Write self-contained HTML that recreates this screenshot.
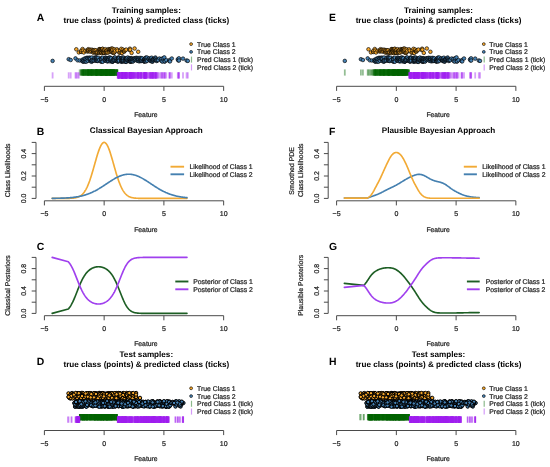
<!DOCTYPE html><html><head><meta charset="utf-8"><style>html,body{margin:0;padding:0;background:#fff;width:550px;height:467px;overflow:hidden}</style></head><body><svg width="550" height="467" viewBox="0 0 550 467" style="display:block;will-change:transform">
<rect width="550" height="467" fill="#fff"/>
<g font-family='"Liberation Sans", sans-serif' text-rendering="geometricPrecision">
<text x="36.80" y="20.70" font-size="10.4" text-anchor="start" font-weight="bold" fill="#000">A</text>
<text x="146.30" y="13.00" font-size="8.15" text-anchor="middle" font-weight="bold" fill="#000">Training samples:</text>
<text x="146.30" y="22.50" font-size="8.15" text-anchor="middle" font-weight="bold" fill="#000">true class (points) &amp; predicted class (ticks)</text>
<g stroke="#006400" stroke-opacity="0.42" stroke-width="1.8">
<path d="M81.0 69.4v6.2"/>
<path d="M81.1 69.4v6.2"/>
<path d="M81.4 69.4v6.2"/>
<path d="M82.6 69.4v6.2"/>
<path d="M83.0 69.4v6.2"/>
<path d="M83.8 69.4v6.2"/>
<path d="M85.4 69.4v6.2"/>
<path d="M87.1 69.4v6.2"/>
<path d="M87.5 69.4v6.2"/>
<path d="M88.3 69.4v6.2"/>
<path d="M88.3 69.4v6.2"/>
<path d="M88.5 69.4v6.2"/>
<path d="M88.8 69.4v6.2"/>
<path d="M90.0 69.4v6.2"/>
<path d="M90.4 69.4v6.2"/>
<path d="M90.8 69.4v6.2"/>
<path d="M91.5 69.4v6.2"/>
<path d="M92.0 69.4v6.2"/>
<path d="M93.1 69.4v6.2"/>
<path d="M93.1 69.4v6.2"/>
<path d="M93.4 69.4v6.2"/>
<path d="M93.5 69.4v6.2"/>
<path d="M94.1 69.4v6.2"/>
<path d="M94.7 69.4v6.2"/>
<path d="M94.8 69.4v6.2"/>
<path d="M95.7 69.4v6.2"/>
<path d="M95.9 69.4v6.2"/>
<path d="M96.6 69.4v6.2"/>
<path d="M96.9 69.4v6.2"/>
<path d="M97.2 69.4v6.2"/>
<path d="M97.5 69.4v6.2"/>
<path d="M98.8 69.4v6.2"/>
<path d="M98.9 69.4v6.2"/>
<path d="M99.2 69.4v6.2"/>
<path d="M99.3 69.4v6.2"/>
<path d="M99.7 69.4v6.2"/>
<path d="M100.1 69.4v6.2"/>
<path d="M100.3 69.4v6.2"/>
<path d="M100.4 69.4v6.2"/>
<path d="M100.6 69.4v6.2"/>
<path d="M101.1 69.4v6.2"/>
<path d="M101.3 69.4v6.2"/>
<path d="M101.4 69.4v6.2"/>
<path d="M101.6 69.4v6.2"/>
<path d="M101.6 69.4v6.2"/>
<path d="M102.1 69.4v6.2"/>
<path d="M102.5 69.4v6.2"/>
<path d="M102.5 69.4v6.2"/>
<path d="M102.7 69.4v6.2"/>
<path d="M102.9 69.4v6.2"/>
<path d="M103.1 69.4v6.2"/>
<path d="M103.3 69.4v6.2"/>
<path d="M103.9 69.4v6.2"/>
<path d="M104.0 69.4v6.2"/>
<path d="M104.1 69.4v6.2"/>
<path d="M104.1 69.4v6.2"/>
<path d="M104.1 69.4v6.2"/>
<path d="M105.5 69.4v6.2"/>
<path d="M105.5 69.4v6.2"/>
<path d="M105.9 69.4v6.2"/>
<path d="M106.0 69.4v6.2"/>
<path d="M106.1 69.4v6.2"/>
<path d="M106.3 69.4v6.2"/>
<path d="M106.4 69.4v6.2"/>
<path d="M107.0 69.4v6.2"/>
<path d="M107.1 69.4v6.2"/>
<path d="M107.7 69.4v6.2"/>
<path d="M108.3 69.4v6.2"/>
<path d="M109.0 69.4v6.2"/>
<path d="M109.6 69.4v6.2"/>
<path d="M109.6 69.4v6.2"/>
<path d="M109.7 69.4v6.2"/>
<path d="M109.9 69.4v6.2"/>
<path d="M110.1 69.4v6.2"/>
<path d="M110.5 69.4v6.2"/>
<path d="M110.9 69.4v6.2"/>
<path d="M111.2 69.4v6.2"/>
<path d="M111.7 69.4v6.2"/>
<path d="M111.7 69.4v6.2"/>
<path d="M111.8 69.4v6.2"/>
<path d="M112.1 69.4v6.2"/>
<path d="M112.5 69.4v6.2"/>
<path d="M112.6 69.4v6.2"/>
<path d="M113.0 69.4v6.2"/>
<path d="M113.7 69.4v6.2"/>
<path d="M113.9 69.4v6.2"/>
<path d="M114.4 69.4v6.2"/>
<path d="M114.7 69.4v6.2"/>
<path d="M115.2 69.4v6.2"/>
<path d="M116.9 69.4v6.2"/>
<path d="M79.7 69.4v6.2"/>
<path d="M81.9 69.4v6.2"/>
<path d="M82.6 69.4v6.2"/>
<path d="M83.0 69.4v6.2"/>
<path d="M83.1 69.4v6.2"/>
<path d="M83.5 69.4v6.2"/>
<path d="M83.8 69.4v6.2"/>
<path d="M84.5 69.4v6.2"/>
<path d="M84.6 69.4v6.2"/>
<path d="M85.1 69.4v6.2"/>
<path d="M85.4 69.4v6.2"/>
<path d="M85.4 69.4v6.2"/>
<path d="M86.3 69.4v6.2"/>
<path d="M86.5 69.4v6.2"/>
<path d="M86.8 69.4v6.2"/>
<path d="M87.5 69.4v6.2"/>
<path d="M87.8 69.4v6.2"/>
<path d="M87.8 69.4v6.2"/>
<path d="M89.0 69.4v6.2"/>
<path d="M89.0 69.4v6.2"/>
<path d="M89.4 69.4v6.2"/>
<path d="M90.2 69.4v6.2"/>
<path d="M90.3 69.4v6.2"/>
<path d="M90.3 69.4v6.2"/>
<path d="M91.3 69.4v6.2"/>
<path d="M91.6 69.4v6.2"/>
<path d="M91.7 69.4v6.2"/>
<path d="M91.7 69.4v6.2"/>
<path d="M91.9 69.4v6.2"/>
<path d="M91.9 69.4v6.2"/>
<path d="M92.1 69.4v6.2"/>
<path d="M93.3 69.4v6.2"/>
<path d="M94.1 69.4v6.2"/>
<path d="M94.4 69.4v6.2"/>
<path d="M95.5 69.4v6.2"/>
<path d="M95.8 69.4v6.2"/>
<path d="M95.9 69.4v6.2"/>
<path d="M96.1 69.4v6.2"/>
<path d="M96.1 69.4v6.2"/>
<path d="M96.4 69.4v6.2"/>
<path d="M96.4 69.4v6.2"/>
<path d="M96.9 69.4v6.2"/>
<path d="M97.0 69.4v6.2"/>
<path d="M97.3 69.4v6.2"/>
<path d="M97.3 69.4v6.2"/>
<path d="M98.1 69.4v6.2"/>
<path d="M98.2 69.4v6.2"/>
<path d="M98.3 69.4v6.2"/>
<path d="M99.2 69.4v6.2"/>
<path d="M100.8 69.4v6.2"/>
<path d="M100.9 69.4v6.2"/>
<path d="M101.1 69.4v6.2"/>
<path d="M101.1 69.4v6.2"/>
<path d="M101.2 69.4v6.2"/>
<path d="M101.2 69.4v6.2"/>
<path d="M102.3 69.4v6.2"/>
<path d="M102.5 69.4v6.2"/>
<path d="M102.7 69.4v6.2"/>
<path d="M102.7 69.4v6.2"/>
<path d="M104.8 69.4v6.2"/>
<path d="M104.9 69.4v6.2"/>
<path d="M104.9 69.4v6.2"/>
<path d="M105.4 69.4v6.2"/>
<path d="M105.4 69.4v6.2"/>
<path d="M105.8 69.4v6.2"/>
<path d="M105.8 69.4v6.2"/>
<path d="M106.0 69.4v6.2"/>
<path d="M106.3 69.4v6.2"/>
<path d="M106.6 69.4v6.2"/>
<path d="M107.1 69.4v6.2"/>
<path d="M107.3 69.4v6.2"/>
<path d="M107.4 69.4v6.2"/>
<path d="M107.5 69.4v6.2"/>
<path d="M108.0 69.4v6.2"/>
<path d="M108.0 69.4v6.2"/>
<path d="M108.1 69.4v6.2"/>
<path d="M108.5 69.4v6.2"/>
<path d="M108.8 69.4v6.2"/>
<path d="M108.8 69.4v6.2"/>
<path d="M109.3 69.4v6.2"/>
<path d="M109.9 69.4v6.2"/>
<path d="M110.1 69.4v6.2"/>
<path d="M110.5 69.4v6.2"/>
<path d="M110.5 69.4v6.2"/>
<path d="M110.8 69.4v6.2"/>
<path d="M110.9 69.4v6.2"/>
<path d="M111.1 69.4v6.2"/>
<path d="M111.2 69.4v6.2"/>
<path d="M112.2 69.4v6.2"/>
<path d="M112.6 69.4v6.2"/>
<path d="M112.7 69.4v6.2"/>
<path d="M112.9 69.4v6.2"/>
<path d="M113.1 69.4v6.2"/>
<path d="M113.7 69.4v6.2"/>
<path d="M113.7 69.4v6.2"/>
<path d="M114.2 69.4v6.2"/>
<path d="M114.2 69.4v6.2"/>
<path d="M114.8 69.4v6.2"/>
<path d="M115.1 69.4v6.2"/>
<path d="M115.5 69.4v6.2"/>
<path d="M116.0 69.4v6.2"/>
<path d="M116.2 69.4v6.2"/>
<path d="M116.7 69.4v6.2"/>
<path d="M117.2 69.4v6.2"/>
<path d="M117.2 69.4v6.2"/>
<path d="M117.2 69.4v6.2"/>
<path d="M117.4 69.4v6.2"/>
</g>
<g stroke="#A020F0" stroke-opacity="0.42" stroke-width="1.8">
<path d="M76.3 72.3v6.2"/>
<path d="M78.8 72.3v6.2"/>
<path d="M117.6 72.3v6.2"/>
<path d="M119.3 72.3v6.2"/>
<path d="M120.2 72.3v6.2"/>
<path d="M120.4 72.3v6.2"/>
<path d="M121.3 72.3v6.2"/>
<path d="M121.6 72.3v6.2"/>
<path d="M122.0 72.3v6.2"/>
<path d="M122.9 72.3v6.2"/>
<path d="M122.9 72.3v6.2"/>
<path d="M124.1 72.3v6.2"/>
<path d="M124.2 72.3v6.2"/>
<path d="M124.5 72.3v6.2"/>
<path d="M125.3 72.3v6.2"/>
<path d="M126.3 72.3v6.2"/>
<path d="M129.4 72.3v6.2"/>
<path d="M129.9 72.3v6.2"/>
<path d="M130.2 72.3v6.2"/>
<path d="M131.6 72.3v6.2"/>
<path d="M134.6 72.3v6.2"/>
<path d="M138.2 72.3v6.2"/>
<path d="M52.6 72.3v6.2"/>
<path d="M68.7 72.3v6.2"/>
<path d="M70.7 72.3v6.2"/>
<path d="M75.5 72.3v6.2"/>
<path d="M77.6 72.3v6.2"/>
<path d="M117.9 72.3v6.2"/>
<path d="M118.1 72.3v6.2"/>
<path d="M118.2 72.3v6.2"/>
<path d="M118.4 72.3v6.2"/>
<path d="M118.5 72.3v6.2"/>
<path d="M118.6 72.3v6.2"/>
<path d="M118.9 72.3v6.2"/>
<path d="M118.9 72.3v6.2"/>
<path d="M118.9 72.3v6.2"/>
<path d="M119.0 72.3v6.2"/>
<path d="M119.0 72.3v6.2"/>
<path d="M120.8 72.3v6.2"/>
<path d="M121.0 72.3v6.2"/>
<path d="M121.2 72.3v6.2"/>
<path d="M121.5 72.3v6.2"/>
<path d="M121.6 72.3v6.2"/>
<path d="M121.8 72.3v6.2"/>
<path d="M122.0 72.3v6.2"/>
<path d="M122.1 72.3v6.2"/>
<path d="M122.1 72.3v6.2"/>
<path d="M122.1 72.3v6.2"/>
<path d="M122.2 72.3v6.2"/>
<path d="M122.4 72.3v6.2"/>
<path d="M122.7 72.3v6.2"/>
<path d="M122.9 72.3v6.2"/>
<path d="M123.1 72.3v6.2"/>
<path d="M123.4 72.3v6.2"/>
<path d="M123.6 72.3v6.2"/>
<path d="M123.7 72.3v6.2"/>
<path d="M123.8 72.3v6.2"/>
<path d="M123.8 72.3v6.2"/>
<path d="M125.0 72.3v6.2"/>
<path d="M125.3 72.3v6.2"/>
<path d="M125.4 72.3v6.2"/>
<path d="M125.4 72.3v6.2"/>
<path d="M125.6 72.3v6.2"/>
<path d="M125.8 72.3v6.2"/>
<path d="M126.1 72.3v6.2"/>
<path d="M126.3 72.3v6.2"/>
<path d="M126.3 72.3v6.2"/>
<path d="M126.4 72.3v6.2"/>
<path d="M126.6 72.3v6.2"/>
<path d="M126.7 72.3v6.2"/>
<path d="M126.8 72.3v6.2"/>
<path d="M126.9 72.3v6.2"/>
<path d="M127.0 72.3v6.2"/>
<path d="M127.7 72.3v6.2"/>
<path d="M128.0 72.3v6.2"/>
<path d="M128.7 72.3v6.2"/>
<path d="M129.1 72.3v6.2"/>
<path d="M129.2 72.3v6.2"/>
<path d="M129.2 72.3v6.2"/>
<path d="M129.9 72.3v6.2"/>
<path d="M129.9 72.3v6.2"/>
<path d="M130.0 72.3v6.2"/>
<path d="M130.5 72.3v6.2"/>
<path d="M130.6 72.3v6.2"/>
<path d="M130.6 72.3v6.2"/>
<path d="M130.7 72.3v6.2"/>
<path d="M130.7 72.3v6.2"/>
<path d="M130.7 72.3v6.2"/>
<path d="M130.9 72.3v6.2"/>
<path d="M131.0 72.3v6.2"/>
<path d="M131.2 72.3v6.2"/>
<path d="M131.3 72.3v6.2"/>
<path d="M131.4 72.3v6.2"/>
<path d="M131.9 72.3v6.2"/>
<path d="M132.4 72.3v6.2"/>
<path d="M132.5 72.3v6.2"/>
<path d="M132.9 72.3v6.2"/>
<path d="M133.0 72.3v6.2"/>
<path d="M133.0 72.3v6.2"/>
<path d="M133.2 72.3v6.2"/>
<path d="M133.3 72.3v6.2"/>
<path d="M134.2 72.3v6.2"/>
<path d="M134.4 72.3v6.2"/>
<path d="M134.5 72.3v6.2"/>
<path d="M135.0 72.3v6.2"/>
<path d="M135.6 72.3v6.2"/>
<path d="M135.8 72.3v6.2"/>
<path d="M136.3 72.3v6.2"/>
<path d="M137.0 72.3v6.2"/>
<path d="M137.1 72.3v6.2"/>
<path d="M137.6 72.3v6.2"/>
<path d="M137.9 72.3v6.2"/>
<path d="M138.0 72.3v6.2"/>
<path d="M138.3 72.3v6.2"/>
<path d="M138.4 72.3v6.2"/>
<path d="M138.6 72.3v6.2"/>
<path d="M138.9 72.3v6.2"/>
<path d="M139.6 72.3v6.2"/>
<path d="M140.0 72.3v6.2"/>
<path d="M140.4 72.3v6.2"/>
<path d="M140.4 72.3v6.2"/>
<path d="M140.7 72.3v6.2"/>
<path d="M141.2 72.3v6.2"/>
<path d="M141.2 72.3v6.2"/>
<path d="M141.3 72.3v6.2"/>
<path d="M141.5 72.3v6.2"/>
<path d="M142.0 72.3v6.2"/>
<path d="M142.2 72.3v6.2"/>
<path d="M143.5 72.3v6.2"/>
<path d="M143.8 72.3v6.2"/>
<path d="M143.9 72.3v6.2"/>
<path d="M144.0 72.3v6.2"/>
<path d="M144.2 72.3v6.2"/>
<path d="M144.2 72.3v6.2"/>
<path d="M144.3 72.3v6.2"/>
<path d="M144.5 72.3v6.2"/>
<path d="M144.9 72.3v6.2"/>
<path d="M145.0 72.3v6.2"/>
<path d="M145.1 72.3v6.2"/>
<path d="M145.3 72.3v6.2"/>
<path d="M145.3 72.3v6.2"/>
<path d="M145.6 72.3v6.2"/>
<path d="M145.8 72.3v6.2"/>
<path d="M145.8 72.3v6.2"/>
<path d="M145.9 72.3v6.2"/>
<path d="M146.1 72.3v6.2"/>
<path d="M146.5 72.3v6.2"/>
<path d="M146.6 72.3v6.2"/>
<path d="M147.0 72.3v6.2"/>
<path d="M147.2 72.3v6.2"/>
<path d="M148.3 72.3v6.2"/>
<path d="M149.0 72.3v6.2"/>
<path d="M149.3 72.3v6.2"/>
<path d="M150.1 72.3v6.2"/>
<path d="M150.2 72.3v6.2"/>
<path d="M150.5 72.3v6.2"/>
<path d="M150.6 72.3v6.2"/>
<path d="M151.1 72.3v6.2"/>
<path d="M151.3 72.3v6.2"/>
<path d="M151.6 72.3v6.2"/>
<path d="M151.6 72.3v6.2"/>
<path d="M152.4 72.3v6.2"/>
<path d="M152.4 72.3v6.2"/>
<path d="M152.6 72.3v6.2"/>
<path d="M152.9 72.3v6.2"/>
<path d="M153.1 72.3v6.2"/>
<path d="M153.1 72.3v6.2"/>
<path d="M153.4 72.3v6.2"/>
<path d="M153.7 72.3v6.2"/>
<path d="M154.5 72.3v6.2"/>
<path d="M154.9 72.3v6.2"/>
<path d="M155.0 72.3v6.2"/>
<path d="M155.4 72.3v6.2"/>
<path d="M155.7 72.3v6.2"/>
<path d="M155.9 72.3v6.2"/>
<path d="M156.0 72.3v6.2"/>
<path d="M156.6 72.3v6.2"/>
<path d="M156.7 72.3v6.2"/>
<path d="M157.5 72.3v6.2"/>
<path d="M158.2 72.3v6.2"/>
<path d="M159.5 72.3v6.2"/>
<path d="M161.1 72.3v6.2"/>
<path d="M161.6 72.3v6.2"/>
<path d="M162.5 72.3v6.2"/>
<path d="M162.9 72.3v6.2"/>
<path d="M164.3 72.3v6.2"/>
<path d="M164.7 72.3v6.2"/>
<path d="M164.8 72.3v6.2"/>
<path d="M166.3 72.3v6.2"/>
<path d="M169.2 72.3v6.2"/>
<path d="M169.8 72.3v6.2"/>
<path d="M170.0 72.3v6.2"/>
<path d="M171.8 72.3v6.2"/>
<path d="M177.8 72.3v6.2"/>
<path d="M178.3 72.3v6.2"/>
<path d="M178.9 72.3v6.2"/>
<path d="M179.0 72.3v6.2"/>
<path d="M183.0 72.3v6.2"/>
<path d="M186.6 72.3v6.2"/>
<path d="M187.8 72.3v6.2"/>
</g>
<g fill="#F5A62A" stroke="#000" stroke-width="0.65" id="p1">
<circle cx="76.3" cy="49.3" r="1.8"/>
<circle cx="78.8" cy="52.4" r="1.8"/>
<circle cx="81.0" cy="51.8" r="1.8"/>
<circle cx="81.1" cy="51.9" r="1.8"/>
<circle cx="81.4" cy="50.5" r="1.8"/>
<circle cx="82.6" cy="49.0" r="1.8"/>
<circle cx="83.0" cy="50.6" r="1.8"/>
<circle cx="83.8" cy="52.5" r="1.8"/>
<circle cx="85.4" cy="50.8" r="1.8"/>
<circle cx="87.1" cy="51.4" r="1.8"/>
<circle cx="87.5" cy="50.2" r="1.8"/>
<circle cx="88.3" cy="49.2" r="1.8"/>
<circle cx="88.3" cy="51.4" r="1.8"/>
<circle cx="88.5" cy="50.7" r="1.8"/>
<circle cx="88.8" cy="50.1" r="1.8"/>
<circle cx="90.0" cy="49.7" r="1.8"/>
<circle cx="90.4" cy="51.7" r="1.8"/>
<circle cx="90.8" cy="50.0" r="1.8"/>
<circle cx="91.5" cy="51.1" r="1.8"/>
<circle cx="92.0" cy="49.7" r="1.8"/>
<circle cx="93.1" cy="52.0" r="1.8"/>
<circle cx="93.1" cy="50.2" r="1.8"/>
<circle cx="93.4" cy="50.7" r="1.8"/>
<circle cx="93.5" cy="52.8" r="1.8"/>
<circle cx="94.1" cy="51.8" r="1.8"/>
<circle cx="94.7" cy="51.9" r="1.8"/>
<circle cx="94.8" cy="50.1" r="1.8"/>
<circle cx="95.7" cy="52.4" r="1.8"/>
<circle cx="95.9" cy="50.3" r="1.8"/>
<circle cx="96.6" cy="53.0" r="1.8"/>
<circle cx="96.9" cy="52.6" r="1.8"/>
<circle cx="97.2" cy="51.5" r="1.8"/>
<circle cx="97.5" cy="52.3" r="1.8"/>
<circle cx="98.8" cy="51.0" r="1.8"/>
<circle cx="98.9" cy="51.9" r="1.8"/>
<circle cx="99.2" cy="49.1" r="1.8"/>
<circle cx="99.3" cy="53.0" r="1.8"/>
<circle cx="99.7" cy="52.2" r="1.8"/>
<circle cx="100.1" cy="49.2" r="1.8"/>
<circle cx="100.3" cy="49.6" r="1.8"/>
<circle cx="100.4" cy="51.1" r="1.8"/>
<circle cx="100.6" cy="52.0" r="1.8"/>
<circle cx="101.1" cy="49.2" r="1.8"/>
<circle cx="101.3" cy="52.9" r="1.8"/>
<circle cx="101.4" cy="50.1" r="1.8"/>
<circle cx="101.6" cy="53.1" r="1.8"/>
<circle cx="101.6" cy="52.0" r="1.8"/>
<circle cx="102.1" cy="50.7" r="1.8"/>
<circle cx="102.5" cy="50.2" r="1.8"/>
<circle cx="102.5" cy="48.9" r="1.8"/>
<circle cx="102.7" cy="48.9" r="1.8"/>
<circle cx="102.9" cy="51.4" r="1.8"/>
<circle cx="103.1" cy="52.1" r="1.8"/>
<circle cx="103.3" cy="52.7" r="1.8"/>
<circle cx="103.9" cy="50.2" r="1.8"/>
<circle cx="104.0" cy="52.8" r="1.8"/>
<circle cx="104.1" cy="49.9" r="1.8"/>
<circle cx="104.1" cy="52.8" r="1.8"/>
<circle cx="104.1" cy="52.7" r="1.8"/>
<circle cx="105.5" cy="49.2" r="1.8"/>
<circle cx="105.5" cy="52.5" r="1.8"/>
<circle cx="105.9" cy="51.7" r="1.8"/>
<circle cx="106.0" cy="51.7" r="1.8"/>
<circle cx="106.1" cy="52.4" r="1.8"/>
<circle cx="106.3" cy="51.0" r="1.8"/>
<circle cx="106.4" cy="50.8" r="1.8"/>
<circle cx="107.0" cy="50.2" r="1.8"/>
<circle cx="107.1" cy="52.5" r="1.8"/>
<circle cx="107.7" cy="52.6" r="1.8"/>
<circle cx="108.3" cy="49.2" r="1.8"/>
<circle cx="109.0" cy="52.1" r="1.8"/>
<circle cx="109.6" cy="49.8" r="1.8"/>
<circle cx="109.6" cy="49.3" r="1.8"/>
<circle cx="109.7" cy="49.4" r="1.8"/>
<circle cx="109.9" cy="51.1" r="1.8"/>
<circle cx="110.1" cy="49.8" r="1.8"/>
<circle cx="110.5" cy="49.6" r="1.8"/>
<circle cx="110.9" cy="49.0" r="1.8"/>
<circle cx="111.2" cy="50.0" r="1.8"/>
<circle cx="111.7" cy="52.1" r="1.8"/>
<circle cx="111.7" cy="48.6" r="1.8"/>
<circle cx="111.8" cy="50.7" r="1.8"/>
<circle cx="112.1" cy="51.3" r="1.8"/>
<circle cx="112.5" cy="48.7" r="1.8"/>
<circle cx="112.6" cy="49.9" r="1.8"/>
<circle cx="113.0" cy="52.7" r="1.8"/>
<circle cx="113.7" cy="53.1" r="1.8"/>
<circle cx="113.9" cy="52.4" r="1.8"/>
<circle cx="114.4" cy="49.3" r="1.8"/>
<circle cx="114.7" cy="52.0" r="1.8"/>
<circle cx="115.2" cy="50.6" r="1.8"/>
<circle cx="116.9" cy="49.3" r="1.8"/>
<circle cx="117.6" cy="50.7" r="1.8"/>
<circle cx="119.3" cy="52.7" r="1.8"/>
<circle cx="120.2" cy="52.5" r="1.8"/>
<circle cx="120.4" cy="50.3" r="1.8"/>
<circle cx="121.3" cy="48.8" r="1.8"/>
<circle cx="121.6" cy="52.6" r="1.8"/>
<circle cx="122.0" cy="53.0" r="1.8"/>
<circle cx="122.9" cy="50.9" r="1.8"/>
<circle cx="122.9" cy="49.5" r="1.8"/>
<circle cx="124.1" cy="51.0" r="1.8"/>
<circle cx="124.2" cy="51.7" r="1.8"/>
<circle cx="124.5" cy="50.7" r="1.8"/>
<circle cx="125.3" cy="50.1" r="1.8"/>
<circle cx="126.3" cy="49.6" r="1.8"/>
<circle cx="129.4" cy="49.9" r="1.8"/>
<circle cx="129.9" cy="48.7" r="1.8"/>
<circle cx="130.2" cy="49.7" r="1.8"/>
<circle cx="131.6" cy="52.9" r="1.8"/>
<circle cx="134.6" cy="48.5" r="1.8"/>
<circle cx="138.2" cy="51.8" r="1.8"/>
</g>
<g fill="#4682B4" stroke="#000" stroke-width="0.65" id="p2">
<circle cx="52.6" cy="60.9" r="1.8"/>
<circle cx="68.7" cy="59.2" r="1.8"/>
<circle cx="70.7" cy="60.0" r="1.8"/>
<circle cx="75.5" cy="58.4" r="1.8"/>
<circle cx="77.6" cy="60.3" r="1.8"/>
<circle cx="79.7" cy="60.5" r="1.8"/>
<circle cx="81.9" cy="60.6" r="1.8"/>
<circle cx="82.6" cy="59.6" r="1.8"/>
<circle cx="83.0" cy="61.7" r="1.8"/>
<circle cx="83.1" cy="61.2" r="1.8"/>
<circle cx="83.5" cy="59.9" r="1.8"/>
<circle cx="83.8" cy="60.4" r="1.8"/>
<circle cx="84.5" cy="58.6" r="1.8"/>
<circle cx="84.6" cy="61.6" r="1.8"/>
<circle cx="85.1" cy="60.2" r="1.8"/>
<circle cx="85.4" cy="61.3" r="1.8"/>
<circle cx="85.4" cy="58.7" r="1.8"/>
<circle cx="86.3" cy="61.7" r="1.8"/>
<circle cx="86.5" cy="57.9" r="1.8"/>
<circle cx="86.8" cy="59.7" r="1.8"/>
<circle cx="87.5" cy="57.9" r="1.8"/>
<circle cx="87.8" cy="58.2" r="1.8"/>
<circle cx="87.8" cy="60.8" r="1.8"/>
<circle cx="89.0" cy="57.7" r="1.8"/>
<circle cx="89.0" cy="59.1" r="1.8"/>
<circle cx="89.4" cy="58.2" r="1.8"/>
<circle cx="90.2" cy="61.1" r="1.8"/>
<circle cx="90.3" cy="57.8" r="1.8"/>
<circle cx="90.3" cy="58.9" r="1.8"/>
<circle cx="91.3" cy="61.2" r="1.8"/>
<circle cx="91.6" cy="60.4" r="1.8"/>
<circle cx="91.7" cy="60.5" r="1.8"/>
<circle cx="91.7" cy="61.8" r="1.8"/>
<circle cx="91.9" cy="57.5" r="1.8"/>
<circle cx="91.9" cy="60.3" r="1.8"/>
<circle cx="92.1" cy="60.7" r="1.8"/>
<circle cx="93.3" cy="60.7" r="1.8"/>
<circle cx="94.1" cy="60.5" r="1.8"/>
<circle cx="94.4" cy="57.7" r="1.8"/>
<circle cx="95.5" cy="57.8" r="1.8"/>
<circle cx="95.8" cy="60.8" r="1.8"/>
<circle cx="95.9" cy="60.1" r="1.8"/>
<circle cx="96.1" cy="58.6" r="1.8"/>
<circle cx="96.1" cy="57.4" r="1.8"/>
<circle cx="96.4" cy="59.7" r="1.8"/>
<circle cx="96.4" cy="57.8" r="1.8"/>
<circle cx="96.9" cy="60.7" r="1.8"/>
<circle cx="97.0" cy="58.9" r="1.8"/>
<circle cx="97.3" cy="61.0" r="1.8"/>
<circle cx="97.3" cy="57.8" r="1.8"/>
<circle cx="98.1" cy="59.6" r="1.8"/>
<circle cx="98.2" cy="57.8" r="1.8"/>
<circle cx="98.3" cy="60.8" r="1.8"/>
<circle cx="99.2" cy="59.9" r="1.8"/>
<circle cx="100.8" cy="58.4" r="1.8"/>
<circle cx="100.9" cy="61.6" r="1.8"/>
<circle cx="101.1" cy="60.4" r="1.8"/>
<circle cx="101.1" cy="58.9" r="1.8"/>
<circle cx="101.2" cy="61.2" r="1.8"/>
<circle cx="101.2" cy="59.1" r="1.8"/>
<circle cx="102.3" cy="61.5" r="1.8"/>
<circle cx="102.5" cy="58.7" r="1.8"/>
<circle cx="102.7" cy="61.7" r="1.8"/>
<circle cx="102.7" cy="57.7" r="1.8"/>
<circle cx="104.8" cy="60.6" r="1.8"/>
<circle cx="104.9" cy="58.7" r="1.8"/>
<circle cx="104.9" cy="59.3" r="1.8"/>
<circle cx="105.4" cy="60.2" r="1.8"/>
<circle cx="105.4" cy="57.6" r="1.8"/>
<circle cx="105.8" cy="58.4" r="1.8"/>
<circle cx="105.8" cy="57.9" r="1.8"/>
<circle cx="106.0" cy="60.7" r="1.8"/>
<circle cx="106.3" cy="58.4" r="1.8"/>
<circle cx="106.6" cy="59.6" r="1.8"/>
<circle cx="107.1" cy="58.8" r="1.8"/>
<circle cx="107.3" cy="58.4" r="1.8"/>
<circle cx="107.4" cy="61.5" r="1.8"/>
<circle cx="107.5" cy="59.6" r="1.8"/>
<circle cx="108.0" cy="60.3" r="1.8"/>
<circle cx="108.0" cy="60.5" r="1.8"/>
<circle cx="108.1" cy="61.0" r="1.8"/>
<circle cx="108.5" cy="58.6" r="1.8"/>
<circle cx="108.8" cy="57.7" r="1.8"/>
<circle cx="108.8" cy="59.5" r="1.8"/>
<circle cx="109.3" cy="58.1" r="1.8"/>
<circle cx="109.9" cy="57.5" r="1.8"/>
<circle cx="110.1" cy="61.4" r="1.8"/>
<circle cx="110.5" cy="60.2" r="1.8"/>
<circle cx="110.5" cy="59.2" r="1.8"/>
<circle cx="110.8" cy="58.0" r="1.8"/>
<circle cx="110.9" cy="60.7" r="1.8"/>
<circle cx="111.1" cy="59.7" r="1.8"/>
<circle cx="111.2" cy="58.2" r="1.8"/>
<circle cx="112.2" cy="61.7" r="1.8"/>
<circle cx="112.6" cy="61.6" r="1.8"/>
<circle cx="112.7" cy="61.5" r="1.8"/>
<circle cx="112.9" cy="61.0" r="1.8"/>
<circle cx="113.1" cy="59.7" r="1.8"/>
<circle cx="113.7" cy="58.7" r="1.8"/>
<circle cx="113.7" cy="60.3" r="1.8"/>
<circle cx="114.2" cy="58.1" r="1.8"/>
<circle cx="114.2" cy="60.1" r="1.8"/>
<circle cx="114.8" cy="57.7" r="1.8"/>
<circle cx="115.1" cy="57.5" r="1.8"/>
<circle cx="115.5" cy="60.5" r="1.8"/>
<circle cx="116.0" cy="58.9" r="1.8"/>
<circle cx="116.2" cy="60.5" r="1.8"/>
<circle cx="116.7" cy="60.8" r="1.8"/>
<circle cx="117.2" cy="61.1" r="1.8"/>
<circle cx="117.2" cy="60.1" r="1.8"/>
<circle cx="117.2" cy="61.1" r="1.8"/>
<circle cx="117.4" cy="60.3" r="1.8"/>
<circle cx="117.9" cy="61.5" r="1.8"/>
<circle cx="118.1" cy="61.3" r="1.8"/>
<circle cx="118.2" cy="57.6" r="1.8"/>
<circle cx="118.4" cy="58.6" r="1.8"/>
<circle cx="118.5" cy="59.1" r="1.8"/>
<circle cx="118.6" cy="58.5" r="1.8"/>
<circle cx="118.9" cy="58.2" r="1.8"/>
<circle cx="118.9" cy="61.2" r="1.8"/>
<circle cx="118.9" cy="57.5" r="1.8"/>
<circle cx="119.0" cy="58.2" r="1.8"/>
<circle cx="119.0" cy="60.7" r="1.8"/>
<circle cx="120.8" cy="58.4" r="1.8"/>
<circle cx="121.0" cy="58.5" r="1.8"/>
<circle cx="121.2" cy="61.7" r="1.8"/>
<circle cx="121.5" cy="60.8" r="1.8"/>
<circle cx="121.6" cy="59.4" r="1.8"/>
<circle cx="121.8" cy="58.0" r="1.8"/>
<circle cx="122.0" cy="58.6" r="1.8"/>
<circle cx="122.1" cy="61.7" r="1.8"/>
<circle cx="122.1" cy="60.9" r="1.8"/>
<circle cx="122.1" cy="57.7" r="1.8"/>
<circle cx="122.2" cy="60.5" r="1.8"/>
<circle cx="122.4" cy="59.1" r="1.8"/>
<circle cx="122.7" cy="60.6" r="1.8"/>
<circle cx="122.9" cy="58.7" r="1.8"/>
<circle cx="123.1" cy="58.0" r="1.8"/>
<circle cx="123.4" cy="57.5" r="1.8"/>
<circle cx="123.6" cy="58.7" r="1.8"/>
<circle cx="123.7" cy="61.2" r="1.8"/>
<circle cx="123.8" cy="61.3" r="1.8"/>
<circle cx="123.8" cy="60.4" r="1.8"/>
<circle cx="125.0" cy="60.7" r="1.8"/>
<circle cx="125.3" cy="58.3" r="1.8"/>
<circle cx="125.4" cy="59.0" r="1.8"/>
<circle cx="125.4" cy="61.4" r="1.8"/>
<circle cx="125.6" cy="61.7" r="1.8"/>
<circle cx="125.8" cy="59.3" r="1.8"/>
<circle cx="126.1" cy="60.8" r="1.8"/>
<circle cx="126.3" cy="61.5" r="1.8"/>
<circle cx="126.3" cy="61.8" r="1.8"/>
<circle cx="126.4" cy="58.7" r="1.8"/>
<circle cx="126.6" cy="60.3" r="1.8"/>
<circle cx="126.7" cy="59.1" r="1.8"/>
<circle cx="126.8" cy="59.4" r="1.8"/>
<circle cx="126.9" cy="59.4" r="1.8"/>
<circle cx="127.0" cy="58.6" r="1.8"/>
<circle cx="127.7" cy="57.5" r="1.8"/>
<circle cx="128.0" cy="60.8" r="1.8"/>
<circle cx="128.7" cy="60.5" r="1.8"/>
<circle cx="129.1" cy="61.1" r="1.8"/>
<circle cx="129.2" cy="58.1" r="1.8"/>
<circle cx="129.2" cy="58.4" r="1.8"/>
<circle cx="129.9" cy="60.0" r="1.8"/>
<circle cx="129.9" cy="61.5" r="1.8"/>
<circle cx="130.0" cy="59.5" r="1.8"/>
<circle cx="130.5" cy="58.3" r="1.8"/>
<circle cx="130.6" cy="60.0" r="1.8"/>
<circle cx="130.6" cy="61.6" r="1.8"/>
<circle cx="130.7" cy="61.2" r="1.8"/>
<circle cx="130.7" cy="61.4" r="1.8"/>
<circle cx="130.7" cy="59.2" r="1.8"/>
<circle cx="130.9" cy="58.6" r="1.8"/>
<circle cx="131.0" cy="61.2" r="1.8"/>
<circle cx="131.2" cy="60.9" r="1.8"/>
<circle cx="131.3" cy="61.1" r="1.8"/>
<circle cx="131.4" cy="59.1" r="1.8"/>
<circle cx="131.9" cy="58.7" r="1.8"/>
<circle cx="132.4" cy="58.5" r="1.8"/>
<circle cx="132.5" cy="61.2" r="1.8"/>
<circle cx="132.9" cy="61.4" r="1.8"/>
<circle cx="133.0" cy="59.0" r="1.8"/>
<circle cx="133.0" cy="61.2" r="1.8"/>
<circle cx="133.2" cy="59.1" r="1.8"/>
<circle cx="133.3" cy="59.4" r="1.8"/>
<circle cx="134.2" cy="59.9" r="1.8"/>
<circle cx="134.4" cy="58.4" r="1.8"/>
<circle cx="134.5" cy="58.6" r="1.8"/>
<circle cx="135.0" cy="58.6" r="1.8"/>
<circle cx="135.6" cy="58.5" r="1.8"/>
<circle cx="135.8" cy="59.7" r="1.8"/>
<circle cx="136.3" cy="57.8" r="1.8"/>
<circle cx="137.0" cy="60.8" r="1.8"/>
<circle cx="137.1" cy="58.2" r="1.8"/>
<circle cx="137.6" cy="59.4" r="1.8"/>
<circle cx="137.9" cy="60.2" r="1.8"/>
<circle cx="138.0" cy="58.0" r="1.8"/>
<circle cx="138.3" cy="59.2" r="1.8"/>
<circle cx="138.4" cy="59.9" r="1.8"/>
<circle cx="138.6" cy="59.8" r="1.8"/>
<circle cx="138.9" cy="61.3" r="1.8"/>
<circle cx="139.6" cy="60.9" r="1.8"/>
<circle cx="140.0" cy="57.9" r="1.8"/>
<circle cx="140.4" cy="61.1" r="1.8"/>
<circle cx="140.4" cy="59.8" r="1.8"/>
<circle cx="140.7" cy="60.4" r="1.8"/>
<circle cx="141.2" cy="58.1" r="1.8"/>
<circle cx="141.2" cy="59.5" r="1.8"/>
<circle cx="141.3" cy="60.5" r="1.8"/>
<circle cx="141.5" cy="60.9" r="1.8"/>
<circle cx="142.0" cy="60.9" r="1.8"/>
<circle cx="142.2" cy="58.4" r="1.8"/>
<circle cx="143.5" cy="61.1" r="1.8"/>
<circle cx="143.8" cy="59.9" r="1.8"/>
<circle cx="143.9" cy="60.3" r="1.8"/>
<circle cx="144.0" cy="61.1" r="1.8"/>
<circle cx="144.2" cy="59.2" r="1.8"/>
<circle cx="144.2" cy="61.4" r="1.8"/>
<circle cx="144.3" cy="61.3" r="1.8"/>
<circle cx="144.5" cy="61.0" r="1.8"/>
<circle cx="144.9" cy="59.1" r="1.8"/>
<circle cx="145.0" cy="59.7" r="1.8"/>
<circle cx="145.1" cy="58.2" r="1.8"/>
<circle cx="145.3" cy="60.7" r="1.8"/>
<circle cx="145.3" cy="61.3" r="1.8"/>
<circle cx="145.6" cy="58.1" r="1.8"/>
<circle cx="145.8" cy="60.7" r="1.8"/>
<circle cx="145.8" cy="60.5" r="1.8"/>
<circle cx="145.9" cy="57.6" r="1.8"/>
<circle cx="146.1" cy="61.4" r="1.8"/>
<circle cx="146.5" cy="59.5" r="1.8"/>
<circle cx="146.6" cy="58.6" r="1.8"/>
<circle cx="147.0" cy="57.5" r="1.8"/>
<circle cx="147.2" cy="60.8" r="1.8"/>
<circle cx="148.3" cy="58.9" r="1.8"/>
<circle cx="149.0" cy="59.7" r="1.8"/>
<circle cx="149.3" cy="58.3" r="1.8"/>
<circle cx="150.1" cy="60.1" r="1.8"/>
<circle cx="150.2" cy="59.1" r="1.8"/>
<circle cx="150.5" cy="60.9" r="1.8"/>
<circle cx="150.6" cy="60.3" r="1.8"/>
<circle cx="151.1" cy="60.6" r="1.8"/>
<circle cx="151.3" cy="58.5" r="1.8"/>
<circle cx="151.6" cy="57.7" r="1.8"/>
<circle cx="151.6" cy="61.3" r="1.8"/>
<circle cx="152.4" cy="61.5" r="1.8"/>
<circle cx="152.4" cy="60.2" r="1.8"/>
<circle cx="152.6" cy="61.5" r="1.8"/>
<circle cx="152.9" cy="60.5" r="1.8"/>
<circle cx="153.1" cy="60.1" r="1.8"/>
<circle cx="153.1" cy="59.2" r="1.8"/>
<circle cx="153.4" cy="59.0" r="1.8"/>
<circle cx="153.7" cy="59.6" r="1.8"/>
<circle cx="154.5" cy="58.4" r="1.8"/>
<circle cx="154.9" cy="59.3" r="1.8"/>
<circle cx="155.0" cy="59.6" r="1.8"/>
<circle cx="155.4" cy="57.5" r="1.8"/>
<circle cx="155.7" cy="59.1" r="1.8"/>
<circle cx="155.9" cy="58.7" r="1.8"/>
<circle cx="156.0" cy="60.2" r="1.8"/>
<circle cx="156.6" cy="61.0" r="1.8"/>
<circle cx="156.7" cy="60.1" r="1.8"/>
<circle cx="157.5" cy="60.3" r="1.8"/>
<circle cx="158.2" cy="60.1" r="1.8"/>
<circle cx="159.5" cy="58.5" r="1.8"/>
<circle cx="161.1" cy="59.1" r="1.8"/>
<circle cx="161.6" cy="61.1" r="1.8"/>
<circle cx="162.5" cy="61.6" r="1.8"/>
<circle cx="162.9" cy="58.2" r="1.8"/>
<circle cx="164.3" cy="57.4" r="1.8"/>
<circle cx="164.7" cy="61.6" r="1.8"/>
<circle cx="164.8" cy="61.2" r="1.8"/>
<circle cx="166.3" cy="60.1" r="1.8"/>
<circle cx="169.2" cy="61.0" r="1.8"/>
<circle cx="169.8" cy="60.0" r="1.8"/>
<circle cx="170.0" cy="61.4" r="1.8"/>
<circle cx="171.8" cy="58.5" r="1.8"/>
<circle cx="177.8" cy="59.4" r="1.8"/>
<circle cx="178.3" cy="60.4" r="1.8"/>
<circle cx="178.9" cy="58.3" r="1.8"/>
<circle cx="179.0" cy="60.5" r="1.8"/>
<circle cx="183.0" cy="58.6" r="1.8"/>
<circle cx="186.6" cy="60.5" r="1.8"/>
<circle cx="187.8" cy="60.9" r="1.8"/>
</g>
<path d="M44.40 86.30H223.65" stroke="#4a4a4a" stroke-width="1" fill="none"/>
<path d="M44.40 86.30V90.90" stroke="#4a4a4a" stroke-width="1" fill="none"/>
<text x="44.40" y="101.50" font-size="7.0" text-anchor="middle" stroke="#222" stroke-width="0.22" fill="#222">−5</text>
<path d="M104.15 86.30V90.90" stroke="#4a4a4a" stroke-width="1" fill="none"/>
<text x="104.15" y="101.50" font-size="7.0" text-anchor="middle" stroke="#222" stroke-width="0.22" fill="#222">0</text>
<path d="M163.90 86.30V90.90" stroke="#4a4a4a" stroke-width="1" fill="none"/>
<text x="163.90" y="101.50" font-size="7.0" text-anchor="middle" stroke="#222" stroke-width="0.22" fill="#222">5</text>
<path d="M223.65 86.30V90.90" stroke="#4a4a4a" stroke-width="1" fill="none"/>
<text x="223.65" y="101.50" font-size="7.0" text-anchor="middle" stroke="#222" stroke-width="0.22" fill="#222">10</text>
<text x="145.90" y="117.00" font-size="6.8" text-anchor="middle" stroke="#222" stroke-width="0.22" fill="#222">Feature</text>
<circle cx="191.10" cy="44.10" r="1.45" fill="#F5A62A" stroke="#000" stroke-width="0.6"/>
<text x="197.10" y="46.60" font-size="6.85" text-anchor="start" stroke="#222" stroke-width="0.22" fill="#222">True Class 1</text>
<circle cx="191.10" cy="51.90" r="1.45" fill="#4682B4" stroke="#000" stroke-width="0.6"/>
<text x="197.10" y="54.40" font-size="6.85" text-anchor="start" stroke="#222" stroke-width="0.22" fill="#222">True Class 2</text>
<path d="M191.50 56.60v6" stroke="#006400" stroke-opacity="0.45" stroke-width="1.2"/>
<text x="197.10" y="62.10" font-size="6.85" text-anchor="start" stroke="#222" stroke-width="0.22" fill="#222">Pred Class 1 (tick)</text>
<path d="M191.50 64.40v6" stroke="#A020F0" stroke-opacity="0.45" stroke-width="1.2"/>
<text x="197.10" y="69.90" font-size="6.85" text-anchor="start" stroke="#222" stroke-width="0.22" fill="#222">Pred Class 2 (tick)</text>
<text x="36.80" y="135.35" font-size="10.4" text-anchor="start" font-weight="bold" fill="#000">B</text>
<text x="146.30" y="132.70" font-size="8.15" text-anchor="middle" font-weight="bold" fill="#000">Classical Bayesian Approach</text>
<path d="M36.00 198.40V142.40" stroke="#4a4a4a" stroke-width="1" fill="none"/>
<path d="M36.00 198.40H31.70" stroke="#4a4a4a" stroke-width="1" fill="none"/>
<path d="M36.00 187.20H31.70" stroke="#4a4a4a" stroke-width="1" fill="none"/>
<path d="M36.00 176.00H31.70" stroke="#4a4a4a" stroke-width="1" fill="none"/>
<path d="M36.00 164.80H31.70" stroke="#4a4a4a" stroke-width="1" fill="none"/>
<path d="M36.00 153.60H31.70" stroke="#4a4a4a" stroke-width="1" fill="none"/>
<path d="M36.00 142.40H31.70" stroke="#4a4a4a" stroke-width="1" fill="none"/>
<text x="26.40" y="198.40" font-size="6.9" text-anchor="middle" stroke="#222" stroke-width="0.22" transform="rotate(-90 26.40 198.40)" fill="#222">0.0</text>
<text x="26.40" y="176.00" font-size="6.9" text-anchor="middle" stroke="#222" stroke-width="0.22" transform="rotate(-90 26.40 176.00)" fill="#222">0.2</text>
<text x="26.40" y="153.60" font-size="6.9" text-anchor="middle" stroke="#222" stroke-width="0.22" transform="rotate(-90 26.40 153.60)" fill="#222">0.4</text>
<polyline points="52.17,198.40 52.62,198.40 53.07,198.40 53.52,198.40 53.97,198.40 54.42,198.40 54.87,198.40 55.32,198.40 55.77,198.40 56.22,198.40 56.68,198.40 57.13,198.40 57.58,198.40 58.03,198.40 58.48,198.40 58.93,198.40 59.38,198.40 59.83,198.40 60.28,198.40 60.73,198.40 61.18,198.40 61.63,198.40 62.09,198.40 62.54,198.40 62.99,198.39 63.44,198.39 63.89,198.39 64.34,198.39 64.79,198.39 65.24,198.39 65.69,198.38 66.14,198.38 66.59,198.38 67.04,198.37 67.50,198.37 67.95,198.36 68.40,198.35 68.85,198.34 69.30,198.33 69.75,198.32 70.20,198.30 70.65,198.28 71.10,198.26 71.55,198.24 72.00,198.21 72.45,198.18 72.91,198.14 73.36,198.10 73.81,198.05 74.26,197.99 74.71,197.92 75.16,197.85 75.61,197.76 76.06,197.67 76.51,197.56 76.96,197.44 77.41,197.30 77.86,197.15 78.32,196.97 78.77,196.78 79.22,196.56 79.67,196.33 80.12,196.06 80.57,195.77 81.02,195.44 81.47,195.09 81.92,194.70 82.37,194.27 82.82,193.81 83.27,193.30 83.73,192.75 84.18,192.16 84.63,191.51 85.08,190.82 85.53,190.08 85.98,189.29 86.43,188.44 86.88,187.54 87.33,186.58 87.78,185.56 88.23,184.49 88.68,183.37 89.13,182.19 89.59,180.96 90.04,179.67 90.49,178.34 90.94,176.96 91.39,175.53 91.84,174.06 92.29,172.56 92.74,171.03 93.19,169.47 93.64,167.88 94.09,166.29 94.54,164.69 95.00,163.08 95.45,161.48 95.90,159.90 96.35,158.33 96.80,156.80 97.25,155.30 97.70,153.85 98.15,152.46 98.60,151.12 99.05,149.86 99.50,148.67 99.95,147.57 100.41,146.56 100.86,145.65 101.31,144.84 101.76,144.14 102.21,143.56 102.66,143.09 103.11,142.74 103.56,142.51 104.01,142.41 104.46,142.44 104.91,142.59 105.36,142.86 105.82,143.26 106.27,143.77 106.72,144.40 107.17,145.14 107.62,145.99 108.07,146.94 108.52,147.99 108.97,149.13 109.42,150.34 109.87,151.64 110.32,152.99 110.77,154.41 111.23,155.88 111.68,157.39 112.13,158.94 112.58,160.51 113.03,162.10 113.48,163.70 113.93,165.31 114.38,166.91 114.83,168.50 115.28,170.07 115.73,171.63 116.18,173.15 116.64,174.64 117.09,176.09 117.54,177.50 117.99,178.86 118.44,180.18 118.89,181.44 119.34,182.65 119.79,183.81 120.24,184.92 120.69,185.96 121.14,186.96 121.59,187.89 122.05,188.77 122.50,189.60 122.95,190.37 123.40,191.10 123.85,191.77 124.30,192.39 124.75,192.97 125.20,193.50 125.65,193.99 126.10,194.44 126.55,194.85 127.00,195.23 127.45,195.57 127.91,195.88 128.36,196.17 128.81,196.42 129.26,196.65 129.71,196.86 130.16,197.04 130.61,197.21 131.06,197.36 131.51,197.49 131.96,197.60 132.41,197.71 132.86,197.80 133.32,197.88 133.77,197.95 134.22,198.01 134.67,198.07 135.12,198.11 135.57,198.15 136.02,198.19 136.47,198.22 136.92,198.25 137.37,198.27 137.82,198.29 138.27,198.31 138.73,198.32 139.18,198.33 139.63,198.34 140.08,198.35 140.53,198.36 140.98,198.37 141.43,198.37 141.88,198.38 142.33,198.38 142.78,198.38 143.23,198.39 143.68,198.39 144.14,198.39 144.59,198.39 145.04,198.39 145.49,198.40 145.94,198.40 146.39,198.40 146.84,198.40 147.29,198.40 147.74,198.40 148.19,198.40 148.64,198.40 149.09,198.40 149.55,198.40 150.00,198.40 150.45,198.40 150.90,198.40 151.35,198.40 151.80,198.40 152.25,198.40 152.70,198.40 153.15,198.40 153.60,198.40 154.05,198.40 154.50,198.40 154.96,198.40 155.41,198.40 155.86,198.40 156.31,198.40 156.76,198.40 157.21,198.40 157.66,198.40 158.11,198.40 158.56,198.40 159.01,198.40 159.46,198.40 159.91,198.40 160.36,198.40 160.82,198.40 161.27,198.40 161.72,198.40 162.17,198.40 162.62,198.40 163.07,198.40 163.52,198.40 163.97,198.40 164.42,198.40 164.87,198.40 165.32,198.40 165.77,198.40 166.23,198.40 166.68,198.40 167.13,198.40 167.58,198.40 168.03,198.40 168.48,198.40 168.93,198.40 169.38,198.40 169.83,198.40 170.28,198.40 170.73,198.40 171.18,198.40 171.64,198.40 172.09,198.40 172.54,198.40 172.99,198.40 173.44,198.40 173.89,198.40 174.34,198.40 174.79,198.40 175.24,198.40 175.69,198.40 176.14,198.40 176.59,198.40 177.05,198.40 177.50,198.40 177.95,198.40 178.40,198.40 178.85,198.40 179.30,198.40 179.75,198.40 180.20,198.40 180.65,198.40 181.10,198.40 181.55,198.40 182.00,198.40 182.46,198.40 182.91,198.40 183.36,198.40 183.81,198.40 184.26,198.40 184.71,198.40 185.16,198.40 185.61,198.40 186.06,198.40 186.51,198.40 186.96,198.40" fill="none" stroke="#F2AA35" stroke-width="1.65" stroke-linejoin="round" stroke-linecap="round"/>
<polyline points="52.17,198.34 52.62,198.34 53.07,198.33 53.52,198.33 53.97,198.32 54.42,198.32 54.87,198.31 55.32,198.30 55.77,198.30 56.22,198.29 56.68,198.28 57.13,198.28 57.58,198.27 58.03,198.26 58.48,198.25 58.93,198.24 59.38,198.23 59.83,198.22 60.28,198.20 60.73,198.19 61.18,198.18 61.63,198.16 62.09,198.15 62.54,198.13 62.99,198.11 63.44,198.10 63.89,198.08 64.34,198.06 64.79,198.04 65.24,198.02 65.69,197.99 66.14,197.97 66.59,197.94 67.04,197.92 67.50,197.89 67.95,197.86 68.40,197.83 68.85,197.79 69.30,197.76 69.75,197.72 70.20,197.68 70.65,197.64 71.10,197.60 71.55,197.56 72.00,197.51 72.45,197.47 72.91,197.42 73.36,197.36 73.81,197.31 74.26,197.25 74.71,197.19 75.16,197.13 75.61,197.07 76.06,197.00 76.51,196.93 76.96,196.86 77.41,196.79 77.86,196.71 78.32,196.63 78.77,196.54 79.22,196.45 79.67,196.36 80.12,196.27 80.57,196.17 81.02,196.07 81.47,195.96 81.92,195.86 82.37,195.74 82.82,195.63 83.27,195.51 83.73,195.38 84.18,195.26 84.63,195.13 85.08,194.99 85.53,194.85 85.98,194.71 86.43,194.56 86.88,194.40 87.33,194.25 87.78,194.09 88.23,193.92 88.68,193.75 89.13,193.57 89.59,193.40 90.04,193.21 90.49,193.02 90.94,192.83 91.39,192.63 91.84,192.43 92.29,192.23 92.74,192.02 93.19,191.80 93.64,191.58 94.09,191.36 94.54,191.13 95.00,190.90 95.45,190.66 95.90,190.42 96.35,190.17 96.80,189.93 97.25,189.67 97.70,189.42 98.15,189.16 98.60,188.89 99.05,188.63 99.50,188.35 99.95,188.08 100.41,187.80 100.86,187.53 101.31,187.24 101.76,186.96 102.21,186.67 102.66,186.38 103.11,186.09 103.56,185.80 104.01,185.50 104.46,185.21 104.91,184.91 105.36,184.61 105.82,184.31 106.27,184.01 106.72,183.71 107.17,183.41 107.62,183.11 108.07,182.81 108.52,182.52 108.97,182.22 109.42,181.92 109.87,181.63 110.32,181.34 110.77,181.05 111.23,180.76 111.68,180.47 112.13,180.19 112.58,179.91 113.03,179.64 113.48,179.37 113.93,179.10 114.38,178.84 114.83,178.58 115.28,178.33 115.73,178.08 116.18,177.84 116.64,177.60 117.09,177.37 117.54,177.15 117.99,176.93 118.44,176.72 118.89,176.51 119.34,176.32 119.79,176.13 120.24,175.95 120.69,175.77 121.14,175.61 121.59,175.45 122.05,175.30 122.50,175.17 122.95,175.04 123.40,174.91 123.85,174.80 124.30,174.70 124.75,174.61 125.20,174.52 125.65,174.45 126.10,174.38 126.55,174.33 127.00,174.29 127.45,174.25 127.91,174.23 128.36,174.21 128.81,174.21 129.26,174.21 129.71,174.23 130.16,174.26 130.61,174.29 131.06,174.34 131.51,174.39 131.96,174.46 132.41,174.54 132.86,174.62 133.32,174.72 133.77,174.82 134.22,174.94 134.67,175.06 135.12,175.19 135.57,175.33 136.02,175.48 136.47,175.64 136.92,175.80 137.37,175.98 137.82,176.16 138.27,176.35 138.73,176.55 139.18,176.75 139.63,176.97 140.08,177.19 140.53,177.41 140.98,177.64 141.43,177.88 141.88,178.12 142.33,178.37 142.78,178.63 143.23,178.88 143.68,179.15 144.14,179.42 144.59,179.69 145.04,179.96 145.49,180.24 145.94,180.53 146.39,180.81 146.84,181.10 147.29,181.39 147.74,181.68 148.19,181.98 148.64,182.27 149.09,182.57 149.55,182.87 150.00,183.17 150.45,183.47 150.90,183.77 151.35,184.07 151.80,184.37 152.25,184.66 152.70,184.96 153.15,185.26 153.60,185.56 154.05,185.85 154.50,186.14 154.96,186.43 155.41,186.72 155.86,187.01 156.31,187.29 156.76,187.58 157.21,187.85 157.66,188.13 158.11,188.40 158.56,188.67 159.01,188.94 159.46,189.20 159.91,189.46 160.36,189.72 160.82,189.97 161.27,190.22 161.72,190.46 162.17,190.70 162.62,190.94 163.07,191.17 163.52,191.40 163.97,191.62 164.42,191.84 164.87,192.05 165.32,192.26 165.77,192.47 166.23,192.67 166.68,192.87 167.13,193.06 167.58,193.24 168.03,193.43 168.48,193.61 168.93,193.78 169.38,193.95 169.83,194.11 170.28,194.28 170.73,194.43 171.18,194.58 171.64,194.73 172.09,194.87 172.54,195.01 172.99,195.15 173.44,195.28 173.89,195.41 174.34,195.53 174.79,195.65 175.24,195.76 175.69,195.88 176.14,195.98 176.59,196.09 177.05,196.19 177.50,196.29 177.95,196.38 178.40,196.47 178.85,196.56 179.30,196.64 179.75,196.72 180.20,196.80 180.65,196.87 181.10,196.95 181.55,197.01 182.00,197.08 182.46,197.14 182.91,197.21 183.36,197.26 183.81,197.32 184.26,197.37 184.71,197.43 185.16,197.48 185.61,197.52 186.06,197.57 186.51,197.61 186.96,197.65" fill="none" stroke="#4580B0" stroke-width="1.65" stroke-linejoin="round" stroke-linecap="round"/>
<text x="10.20" y="170.40" font-size="6.9" text-anchor="middle" stroke="#222" stroke-width="0.22" transform="rotate(-90 10.20 170.40)" fill="#222">Class Likelihoods</text>
<path d="M44.40 200.80H223.65" stroke="#4a4a4a" stroke-width="1" fill="none"/>
<path d="M44.40 200.80V205.40" stroke="#4a4a4a" stroke-width="1" fill="none"/>
<text x="44.40" y="216.00" font-size="7.0" text-anchor="middle" stroke="#222" stroke-width="0.22" fill="#222">−5</text>
<path d="M104.15 200.80V205.40" stroke="#4a4a4a" stroke-width="1" fill="none"/>
<text x="104.15" y="216.00" font-size="7.0" text-anchor="middle" stroke="#222" stroke-width="0.22" fill="#222">0</text>
<path d="M163.90 200.80V205.40" stroke="#4a4a4a" stroke-width="1" fill="none"/>
<text x="163.90" y="216.00" font-size="7.0" text-anchor="middle" stroke="#222" stroke-width="0.22" fill="#222">5</text>
<path d="M223.65 200.80V205.40" stroke="#4a4a4a" stroke-width="1" fill="none"/>
<text x="223.65" y="216.00" font-size="7.0" text-anchor="middle" stroke="#222" stroke-width="0.22" fill="#222">10</text>
<text x="145.90" y="231.50" font-size="6.8" text-anchor="middle" stroke="#222" stroke-width="0.22" fill="#222">Feature</text>
<path d="M170.50 166.70H184.10" stroke="#F2AA35" stroke-width="1.9"/>
<text x="189.50" y="169.20" font-size="6.85" text-anchor="start" stroke="#222" stroke-width="0.22" fill="#222">Likelihood of Class 1</text>
<path d="M170.50 174.30H184.10" stroke="#4580B0" stroke-width="1.9"/>
<text x="189.50" y="176.80" font-size="6.85" text-anchor="start" stroke="#222" stroke-width="0.22" fill="#222">Likelihood of Class 2</text>
<text x="36.80" y="250.00" font-size="10.4" text-anchor="start" font-weight="bold" fill="#000">C</text>
<path d="M36.00 313.40V257.40" stroke="#4a4a4a" stroke-width="1" fill="none"/>
<path d="M36.00 313.40H31.70" stroke="#4a4a4a" stroke-width="1" fill="none"/>
<path d="M36.00 302.20H31.70" stroke="#4a4a4a" stroke-width="1" fill="none"/>
<path d="M36.00 291.00H31.70" stroke="#4a4a4a" stroke-width="1" fill="none"/>
<path d="M36.00 279.80H31.70" stroke="#4a4a4a" stroke-width="1" fill="none"/>
<path d="M36.00 268.60H31.70" stroke="#4a4a4a" stroke-width="1" fill="none"/>
<path d="M36.00 257.40H31.70" stroke="#4a4a4a" stroke-width="1" fill="none"/>
<text x="26.40" y="313.40" font-size="6.9" text-anchor="middle" stroke="#222" stroke-width="0.22" transform="rotate(-90 26.40 313.40)" fill="#222">0.0</text>
<text x="26.40" y="291.00" font-size="6.9" text-anchor="middle" stroke="#222" stroke-width="0.22" transform="rotate(-90 26.40 291.00)" fill="#222">0.4</text>
<text x="26.40" y="268.60" font-size="6.9" text-anchor="middle" stroke="#222" stroke-width="0.22" transform="rotate(-90 26.40 268.60)" fill="#222">0.8</text>
<polyline points="52.17,313.38 68.30,309.05 68.70,308.60 69.09,308.12 69.49,307.61 69.89,307.05 70.28,306.46 70.68,305.84 71.08,305.17 71.47,304.47 71.87,303.73 72.27,302.96 72.67,302.15 73.06,301.31 73.46,300.44 73.86,299.54 74.25,298.62 74.65,297.67 75.05,296.70 75.44,295.72 75.84,294.72 76.24,293.72 76.63,292.71 77.03,291.69 77.43,290.68 77.82,289.67 78.22,288.67 78.62,287.69 79.02,286.71 79.41,285.76 79.81,284.82 80.21,283.90 80.60,283.00 81.00,282.13 81.40,281.29 81.79,280.47 82.19,279.68 82.59,278.92 82.98,278.18 83.38,277.48 83.78,276.80 84.17,276.15 84.57,275.53 84.97,274.94 85.37,274.38 85.76,273.84 86.16,273.33 86.56,272.84 86.95,272.38 87.35,271.94 87.75,271.52 88.14,271.13 88.54,270.76 88.94,270.41 89.33,270.08 89.73,269.77 90.13,269.48 90.52,269.21 90.92,268.96 91.32,268.72 91.72,268.49 92.11,268.29 92.51,268.10 92.91,267.92 93.30,267.76 93.70,267.61 94.10,267.47 94.49,267.35 94.89,267.24 95.29,267.14 95.68,267.06 96.08,266.98 96.48,266.92 96.87,266.87 97.27,266.83 97.67,266.80 98.07,266.78 98.46,266.78 98.86,266.78 99.26,266.80 99.65,266.82 100.05,266.86 100.45,266.91 100.84,266.97 101.24,267.04 101.64,267.12 102.03,267.22 102.43,267.33 102.83,267.45 103.22,267.58 103.62,267.73 104.02,267.89 104.41,268.06 104.81,268.25 105.21,268.45 105.61,268.67 106.00,268.91 106.40,269.16 106.80,269.43 107.19,269.72 107.59,270.02 107.99,270.35 108.38,270.69 108.78,271.06 109.18,271.45 109.57,271.86 109.97,272.29 110.37,272.75 110.76,273.23 111.16,273.74 111.56,274.27 111.96,274.83 112.35,275.42 112.75,276.03 113.15,276.67 113.54,277.35 113.94,278.05 114.34,278.77 114.73,279.53 115.13,280.32 115.53,281.13 115.92,281.97 116.32,282.84 116.72,283.73 117.11,284.64 117.51,285.57 117.91,286.53 118.31,287.50 118.70,288.48 119.10,289.48 119.50,290.49 119.89,291.50 120.29,292.51 120.69,293.52 121.08,294.53 121.48,295.53 121.88,296.51 122.27,297.48 122.67,298.43 123.07,299.36 123.46,300.27 123.86,301.14 124.26,301.99 124.66,302.81 125.05,303.59 125.45,304.33 125.85,305.04 126.24,305.71 126.64,306.35 127.04,306.94 127.43,307.50 127.83,308.03 128.23,308.51 128.62,308.97 129.02,309.39 129.42,309.78 129.81,310.13 130.21,310.46 130.61,310.76 131.01,311.03 131.40,311.28 131.80,311.51 132.20,311.72 132.59,311.90 132.99,312.07 133.39,312.22 133.78,312.36 134.18,312.48 134.58,312.59 134.97,312.68 135.37,312.77 135.77,312.85 136.16,312.91 136.56,312.98 136.96,313.03 137.36,313.08 137.75,313.12 138.15,313.15 138.55,313.19 138.94,313.22 139.34,313.24 139.74,313.26 140.13,313.28 140.53,313.30 140.93,313.31 141.32,313.32 141.72,313.33 142.12,313.34 142.51,313.35 142.91,313.36 143.31,313.36 143.70,313.37 144.10,313.37 144.50,313.38 144.90,313.38 145.29,313.38 145.69,313.39 146.09,313.39 146.48,313.39 146.88,313.39 147.28,313.39 147.67,313.39 148.07,313.40 148.47,313.40 148.86,313.40 149.26,313.40 149.66,313.40 150.05,313.40 150.45,313.40 150.85,313.40 151.25,313.40 151.64,313.40 152.04,313.40 152.44,313.40 152.83,313.40 153.23,313.40 153.63,313.40 154.02,313.40 154.42,313.40 154.82,313.40 155.21,313.40 155.61,313.40 156.01,313.40 156.40,313.40 156.80,313.40 157.20,313.40 157.60,313.40 157.99,313.40 158.39,313.40 158.79,313.40 159.18,313.40 159.58,313.40 159.98,313.40 160.37,313.40 160.77,313.40 161.17,313.40 161.56,313.40 161.96,313.40 162.36,313.40 162.75,313.40 163.15,313.40 163.55,313.40 163.95,313.40 164.34,313.40 164.74,313.40 165.14,313.40 165.53,313.40 165.93,313.40 166.33,313.40 166.72,313.40 167.12,313.40 167.52,313.40 167.91,313.40 168.31,313.40 168.71,313.40 169.10,313.40 169.50,313.40 169.90,313.40 170.30,313.40 170.69,313.40 171.09,313.40 171.49,313.40 171.88,313.40 172.28,313.40 172.68,313.40 173.07,313.40 173.47,313.40 173.87,313.40 174.26,313.40 174.66,313.40 175.06,313.40 175.45,313.40 175.85,313.40 176.25,313.40 176.64,313.40 177.04,313.40 177.44,313.40 177.84,313.40 178.23,313.40 178.63,313.40 179.03,313.40 179.42,313.40 179.82,313.40 180.22,313.40 180.61,313.40 181.01,313.40 181.41,313.40 181.80,313.40 182.20,313.40 182.60,313.40 182.99,313.40 183.39,313.40 183.79,313.40 184.19,313.40 184.58,313.40 184.98,313.40 185.38,313.40 185.77,313.40 186.17,313.40 186.57,313.40 186.96,313.40" fill="none" stroke="#1D5E24" stroke-width="1.65" stroke-linejoin="round" stroke-linecap="round"/>
<polyline points="52.17,257.42 68.30,261.75 68.70,262.20 69.09,262.68 69.49,263.19 69.89,263.75 70.28,264.34 70.68,264.96 71.08,265.63 71.47,266.33 71.87,267.07 72.27,267.84 72.67,268.65 73.06,269.49 73.46,270.36 73.86,271.26 74.25,272.18 74.65,273.13 75.05,274.10 75.44,275.08 75.84,276.08 76.24,277.08 76.63,278.09 77.03,279.11 77.43,280.12 77.82,281.13 78.22,282.13 78.62,283.11 79.02,284.09 79.41,285.04 79.81,285.98 80.21,286.90 80.60,287.80 81.00,288.67 81.40,289.51 81.79,290.33 82.19,291.12 82.59,291.88 82.98,292.62 83.38,293.32 83.78,294.00 84.17,294.65 84.57,295.27 84.97,295.86 85.37,296.42 85.76,296.96 86.16,297.47 86.56,297.96 86.95,298.42 87.35,298.86 87.75,299.28 88.14,299.67 88.54,300.04 88.94,300.39 89.33,300.72 89.73,301.03 90.13,301.32 90.52,301.59 90.92,301.84 91.32,302.08 91.72,302.31 92.11,302.51 92.51,302.70 92.91,302.88 93.30,303.04 93.70,303.19 94.10,303.33 94.49,303.45 94.89,303.56 95.29,303.66 95.68,303.74 96.08,303.82 96.48,303.88 96.87,303.93 97.27,303.97 97.67,304.00 98.07,304.02 98.46,304.02 98.86,304.02 99.26,304.00 99.65,303.98 100.05,303.94 100.45,303.89 100.84,303.83 101.24,303.76 101.64,303.68 102.03,303.58 102.43,303.47 102.83,303.35 103.22,303.22 103.62,303.07 104.02,302.91 104.41,302.74 104.81,302.55 105.21,302.35 105.61,302.13 106.00,301.89 106.40,301.64 106.80,301.37 107.19,301.08 107.59,300.78 107.99,300.45 108.38,300.11 108.78,299.74 109.18,299.35 109.57,298.94 109.97,298.51 110.37,298.05 110.76,297.57 111.16,297.06 111.56,296.53 111.96,295.97 112.35,295.38 112.75,294.77 113.15,294.13 113.54,293.45 113.94,292.75 114.34,292.03 114.73,291.27 115.13,290.48 115.53,289.67 115.92,288.83 116.32,287.96 116.72,287.07 117.11,286.16 117.51,285.23 117.91,284.27 118.31,283.30 118.70,282.32 119.10,281.32 119.50,280.31 119.89,279.30 120.29,278.29 120.69,277.28 121.08,276.27 121.48,275.27 121.88,274.29 122.27,273.32 122.67,272.37 123.07,271.44 123.46,270.53 123.86,269.66 124.26,268.81 124.66,267.99 125.05,267.21 125.45,266.47 125.85,265.76 126.24,265.09 126.64,264.45 127.04,263.86 127.43,263.30 127.83,262.77 128.23,262.29 128.62,261.83 129.02,261.41 129.42,261.02 129.81,260.67 130.21,260.34 130.61,260.04 131.01,259.77 131.40,259.52 131.80,259.29 132.20,259.08 132.59,258.90 132.99,258.73 133.39,258.58 133.78,258.44 134.18,258.32 134.58,258.21 134.97,258.12 135.37,258.03 135.77,257.95 136.16,257.89 136.56,257.82 136.96,257.77 137.36,257.72 137.75,257.68 138.15,257.65 138.55,257.61 138.94,257.58 139.34,257.56 139.74,257.54 140.13,257.52 140.53,257.50 140.93,257.49 141.32,257.48 141.72,257.47 142.12,257.46 142.51,257.45 142.91,257.44 143.31,257.44 143.70,257.43 144.10,257.43 144.50,257.42 144.90,257.42 145.29,257.42 145.69,257.41 146.09,257.41 146.48,257.41 146.88,257.41 147.28,257.41 147.67,257.41 148.07,257.40 148.47,257.40 148.86,257.40 149.26,257.40 149.66,257.40 150.05,257.40 150.45,257.40 150.85,257.40 151.25,257.40 151.64,257.40 152.04,257.40 152.44,257.40 152.83,257.40 153.23,257.40 153.63,257.40 154.02,257.40 154.42,257.40 154.82,257.40 155.21,257.40 155.61,257.40 156.01,257.40 156.40,257.40 156.80,257.40 157.20,257.40 157.60,257.40 157.99,257.40 158.39,257.40 158.79,257.40 159.18,257.40 159.58,257.40 159.98,257.40 160.37,257.40 160.77,257.40 161.17,257.40 161.56,257.40 161.96,257.40 162.36,257.40 162.75,257.40 163.15,257.40 163.55,257.40 163.95,257.40 164.34,257.40 164.74,257.40 165.14,257.40 165.53,257.40 165.93,257.40 166.33,257.40 166.72,257.40 167.12,257.40 167.52,257.40 167.91,257.40 168.31,257.40 168.71,257.40 169.10,257.40 169.50,257.40 169.90,257.40 170.30,257.40 170.69,257.40 171.09,257.40 171.49,257.40 171.88,257.40 172.28,257.40 172.68,257.40 173.07,257.40 173.47,257.40 173.87,257.40 174.26,257.40 174.66,257.40 175.06,257.40 175.45,257.40 175.85,257.40 176.25,257.40 176.64,257.40 177.04,257.40 177.44,257.40 177.84,257.40 178.23,257.40 178.63,257.40 179.03,257.40 179.42,257.40 179.82,257.40 180.22,257.40 180.61,257.40 181.01,257.40 181.41,257.40 181.80,257.40 182.20,257.40 182.60,257.40 182.99,257.40 183.39,257.40 183.79,257.40 184.19,257.40 184.58,257.40 184.98,257.40 185.38,257.40 185.77,257.40 186.17,257.40 186.57,257.40 186.96,257.40" fill="none" stroke="#A040EE" stroke-width="1.65" stroke-linejoin="round" stroke-linecap="round"/>
<text x="10.20" y="285.60" font-size="6.9" text-anchor="middle" stroke="#222" stroke-width="0.22" transform="rotate(-90 10.20 285.60)" fill="#222">Classical Posteriors</text>
<path d="M44.40 315.70H223.65" stroke="#4a4a4a" stroke-width="1" fill="none"/>
<path d="M44.40 315.70V320.30" stroke="#4a4a4a" stroke-width="1" fill="none"/>
<text x="44.40" y="330.90" font-size="7.0" text-anchor="middle" stroke="#222" stroke-width="0.22" fill="#222">−5</text>
<path d="M104.15 315.70V320.30" stroke="#4a4a4a" stroke-width="1" fill="none"/>
<text x="104.15" y="330.90" font-size="7.0" text-anchor="middle" stroke="#222" stroke-width="0.22" fill="#222">0</text>
<path d="M163.90 315.70V320.30" stroke="#4a4a4a" stroke-width="1" fill="none"/>
<text x="163.90" y="330.90" font-size="7.0" text-anchor="middle" stroke="#222" stroke-width="0.22" fill="#222">5</text>
<path d="M223.65 315.70V320.30" stroke="#4a4a4a" stroke-width="1" fill="none"/>
<text x="223.65" y="330.90" font-size="7.0" text-anchor="middle" stroke="#222" stroke-width="0.22" fill="#222">10</text>
<text x="145.90" y="346.40" font-size="6.8" text-anchor="middle" stroke="#222" stroke-width="0.22" fill="#222">Feature</text>
<path d="M175.30 281.50H188.40" stroke="#1D5E24" stroke-width="1.9"/>
<text x="193.20" y="284.00" font-size="6.85" text-anchor="start" stroke="#222" stroke-width="0.22" fill="#222">Posterior of Class 1</text>
<path d="M175.30 289.30H188.40" stroke="#A040EE" stroke-width="1.9"/>
<text x="193.20" y="291.80" font-size="6.85" text-anchor="start" stroke="#222" stroke-width="0.22" fill="#222">Posterior of Class 2</text>
<text x="36.80" y="364.65" font-size="10.4" text-anchor="start" font-weight="bold" fill="#000">D</text>
<text x="146.30" y="357.19" font-size="8.15" text-anchor="middle" font-weight="bold" fill="#000">Test samples:</text>
<text x="146.30" y="366.69" font-size="8.15" text-anchor="middle" font-weight="bold" fill="#000">true class (points) &amp; predicted class (ticks)</text>
<g stroke="#006400" stroke-opacity="0.45" stroke-width="1.4">
<path d="M106.8 414.1v6.2"/>
<path d="M105.5 414.1v6.2"/>
<path d="M85.5 414.1v6.2"/>
<path d="M110.4 414.1v6.2"/>
<path d="M116.6 414.1v6.2"/>
<path d="M92.8 414.1v6.2"/>
<path d="M113.2 414.1v6.2"/>
<path d="M108.6 414.1v6.2"/>
<path d="M90.1 414.1v6.2"/>
<path d="M103.3 414.1v6.2"/>
<path d="M103.0 414.1v6.2"/>
<path d="M106.5 414.1v6.2"/>
<path d="M94.1 414.1v6.2"/>
<path d="M83.5 414.1v6.2"/>
<path d="M117.3 414.1v6.2"/>
<path d="M90.4 414.1v6.2"/>
<path d="M79.8 414.1v6.2"/>
<path d="M108.1 414.1v6.2"/>
<path d="M114.9 414.1v6.2"/>
<path d="M84.4 414.1v6.2"/>
<path d="M86.0 414.1v6.2"/>
<path d="M106.8 414.1v6.2"/>
<path d="M89.5 414.1v6.2"/>
<path d="M97.3 414.1v6.2"/>
<path d="M94.7 414.1v6.2"/>
<path d="M90.2 414.1v6.2"/>
<path d="M96.3 414.1v6.2"/>
<path d="M104.2 414.1v6.2"/>
<path d="M113.1 414.1v6.2"/>
<path d="M101.6 414.1v6.2"/>
<path d="M116.6 414.1v6.2"/>
<path d="M99.7 414.1v6.2"/>
<path d="M79.6 414.1v6.2"/>
<path d="M88.5 414.1v6.2"/>
<path d="M103.5 414.1v6.2"/>
<path d="M100.3 414.1v6.2"/>
<path d="M102.1 414.1v6.2"/>
<path d="M108.1 414.1v6.2"/>
<path d="M108.8 414.1v6.2"/>
<path d="M107.2 414.1v6.2"/>
<path d="M89.6 414.1v6.2"/>
<path d="M83.4 414.1v6.2"/>
<path d="M110.2 414.1v6.2"/>
<path d="M82.3 414.1v6.2"/>
<path d="M113.5 414.1v6.2"/>
<path d="M93.6 414.1v6.2"/>
<path d="M83.6 414.1v6.2"/>
<path d="M98.1 414.1v6.2"/>
<path d="M81.9 414.1v6.2"/>
<path d="M93.8 414.1v6.2"/>
<path d="M94.7 414.1v6.2"/>
<path d="M114.7 414.1v6.2"/>
<path d="M106.1 414.1v6.2"/>
<path d="M109.9 414.1v6.2"/>
<path d="M85.7 414.1v6.2"/>
<path d="M117.0 414.1v6.2"/>
<path d="M101.0 414.1v6.2"/>
<path d="M96.7 414.1v6.2"/>
<path d="M106.1 414.1v6.2"/>
<path d="M103.9 414.1v6.2"/>
<path d="M100.7 414.1v6.2"/>
<path d="M107.3 414.1v6.2"/>
<path d="M89.2 414.1v6.2"/>
<path d="M91.4 414.1v6.2"/>
<path d="M111.8 414.1v6.2"/>
<path d="M101.3 414.1v6.2"/>
<path d="M110.8 414.1v6.2"/>
<path d="M101.8 414.1v6.2"/>
<path d="M83.5 414.1v6.2"/>
<path d="M105.5 414.1v6.2"/>
<path d="M106.2 414.1v6.2"/>
<path d="M97.5 414.1v6.2"/>
<path d="M96.8 414.1v6.2"/>
<path d="M91.1 414.1v6.2"/>
<path d="M96.2 414.1v6.2"/>
<path d="M111.4 414.1v6.2"/>
<path d="M106.9 414.1v6.2"/>
<path d="M81.8 414.1v6.2"/>
<path d="M113.9 414.1v6.2"/>
<path d="M102.8 414.1v6.2"/>
<path d="M111.9 414.1v6.2"/>
<path d="M107.0 414.1v6.2"/>
<path d="M111.2 414.1v6.2"/>
<path d="M94.5 414.1v6.2"/>
<path d="M90.7 414.1v6.2"/>
<path d="M99.8 414.1v6.2"/>
<path d="M100.1 414.1v6.2"/>
<path d="M87.3 414.1v6.2"/>
<path d="M113.1 414.1v6.2"/>
<path d="M88.1 414.1v6.2"/>
<path d="M94.1 414.1v6.2"/>
<path d="M101.0 414.1v6.2"/>
<path d="M92.1 414.1v6.2"/>
<path d="M108.1 414.1v6.2"/>
<path d="M99.0 414.1v6.2"/>
<path d="M82.4 414.1v6.2"/>
<path d="M101.5 414.1v6.2"/>
<path d="M116.5 414.1v6.2"/>
<path d="M99.2 414.1v6.2"/>
<path d="M100.8 414.1v6.2"/>
<path d="M110.0 414.1v6.2"/>
<path d="M116.8 414.1v6.2"/>
<path d="M79.7 414.1v6.2"/>
<path d="M94.8 414.1v6.2"/>
<path d="M103.4 414.1v6.2"/>
<path d="M109.5 414.1v6.2"/>
<path d="M81.0 414.1v6.2"/>
<path d="M93.4 414.1v6.2"/>
<path d="M115.0 414.1v6.2"/>
<path d="M110.9 414.1v6.2"/>
<path d="M91.7 414.1v6.2"/>
<path d="M97.5 414.1v6.2"/>
<path d="M112.1 414.1v6.2"/>
<path d="M101.1 414.1v6.2"/>
<path d="M103.1 414.1v6.2"/>
<path d="M97.3 414.1v6.2"/>
<path d="M80.5 414.1v6.2"/>
<path d="M114.9 414.1v6.2"/>
<path d="M90.4 414.1v6.2"/>
<path d="M94.4 414.1v6.2"/>
<path d="M91.1 414.1v6.2"/>
<path d="M94.8 414.1v6.2"/>
<path d="M99.8 414.1v6.2"/>
<path d="M84.7 414.1v6.2"/>
<path d="M113.9 414.1v6.2"/>
<path d="M91.1 414.1v6.2"/>
<path d="M103.6 414.1v6.2"/>
<path d="M100.8 414.1v6.2"/>
<path d="M99.2 414.1v6.2"/>
<path d="M86.7 414.1v6.2"/>
<path d="M95.2 414.1v6.2"/>
<path d="M105.2 414.1v6.2"/>
<path d="M98.5 414.1v6.2"/>
<path d="M110.9 414.1v6.2"/>
<path d="M116.1 414.1v6.2"/>
<path d="M114.8 414.1v6.2"/>
<path d="M98.3 414.1v6.2"/>
<path d="M82.5 414.1v6.2"/>
<path d="M95.2 414.1v6.2"/>
<path d="M102.0 414.1v6.2"/>
<path d="M114.2 414.1v6.2"/>
<path d="M84.6 414.1v6.2"/>
<path d="M85.7 414.1v6.2"/>
<path d="M112.8 414.1v6.2"/>
<path d="M97.8 414.1v6.2"/>
<path d="M82.0 414.1v6.2"/>
<path d="M106.4 414.1v6.2"/>
<path d="M95.0 414.1v6.2"/>
<path d="M83.2 414.1v6.2"/>
<path d="M110.6 414.1v6.2"/>
<path d="M106.5 414.1v6.2"/>
<path d="M108.9 414.1v6.2"/>
<path d="M108.4 414.1v6.2"/>
<path d="M84.1 414.1v6.2"/>
<path d="M97.7 414.1v6.2"/>
<path d="M104.8 414.1v6.2"/>
<path d="M108.0 414.1v6.2"/>
<path d="M94.4 414.1v6.2"/>
<path d="M80.1 414.1v6.2"/>
<path d="M108.0 414.1v6.2"/>
<path d="M96.4 414.1v6.2"/>
<path d="M103.6 414.1v6.2"/>
<path d="M85.0 414.1v6.2"/>
<path d="M89.4 414.1v6.2"/>
<path d="M104.7 414.1v6.2"/>
<path d="M111.9 414.1v6.2"/>
<path d="M98.5 414.1v6.2"/>
<path d="M103.3 414.1v6.2"/>
<path d="M92.4 414.1v6.2"/>
<path d="M109.6 414.1v6.2"/>
<path d="M102.2 414.1v6.2"/>
<path d="M108.7 414.1v6.2"/>
<path d="M107.9 414.1v6.2"/>
<path d="M103.8 414.1v6.2"/>
<path d="M86.7 414.1v6.2"/>
<path d="M102.0 414.1v6.2"/>
<path d="M96.0 414.1v6.2"/>
<path d="M83.9 414.1v6.2"/>
<path d="M117.0 414.1v6.2"/>
<path d="M99.1 414.1v6.2"/>
<path d="M103.3 414.1v6.2"/>
<path d="M107.1 414.1v6.2"/>
<path d="M109.4 414.1v6.2"/>
<path d="M111.9 414.1v6.2"/>
<path d="M106.9 414.1v6.2"/>
<path d="M86.4 414.1v6.2"/>
<path d="M87.8 414.1v6.2"/>
<path d="M116.4 414.1v6.2"/>
<path d="M80.7 414.1v6.2"/>
<path d="M101.2 414.1v6.2"/>
<path d="M109.2 414.1v6.2"/>
<path d="M114.3 414.1v6.2"/>
<path d="M107.2 414.1v6.2"/>
<path d="M97.7 414.1v6.2"/>
<path d="M107.0 414.1v6.2"/>
<path d="M86.2 414.1v6.2"/>
<path d="M115.9 414.1v6.2"/>
<path d="M102.6 414.1v6.2"/>
<path d="M109.7 414.1v6.2"/>
<path d="M115.5 414.1v6.2"/>
<path d="M101.0 414.1v6.2"/>
<path d="M84.2 414.1v6.2"/>
<path d="M98.9 414.1v6.2"/>
<path d="M84.4 414.1v6.2"/>
<path d="M112.3 414.1v6.2"/>
<path d="M82.2 414.1v6.2"/>
<path d="M103.7 414.1v6.2"/>
<path d="M103.2 414.1v6.2"/>
<path d="M101.2 414.1v6.2"/>
<path d="M98.9 414.1v6.2"/>
<path d="M104.3 414.1v6.2"/>
<path d="M99.4 414.1v6.2"/>
<path d="M112.1 414.1v6.2"/>
<path d="M88.0 414.1v6.2"/>
<path d="M91.6 414.1v6.2"/>
<path d="M104.5 414.1v6.2"/>
<path d="M89.7 414.1v6.2"/>
<path d="M89.6 414.1v6.2"/>
<path d="M100.3 414.1v6.2"/>
<path d="M110.3 414.1v6.2"/>
<path d="M92.5 414.1v6.2"/>
<path d="M97.6 414.1v6.2"/>
<path d="M91.2 414.1v6.2"/>
<path d="M111.5 414.1v6.2"/>
<path d="M82.0 414.1v6.2"/>
<path d="M102.6 414.1v6.2"/>
<path d="M105.2 414.1v6.2"/>
<path d="M98.3 414.1v6.2"/>
<path d="M92.6 414.1v6.2"/>
<path d="M100.1 414.1v6.2"/>
<path d="M103.9 414.1v6.2"/>
<path d="M111.8 414.1v6.2"/>
<path d="M96.6 414.1v6.2"/>
<path d="M87.4 414.1v6.2"/>
<path d="M82.1 414.1v6.2"/>
<path d="M97.7 414.1v6.2"/>
<path d="M107.4 414.1v6.2"/>
<path d="M84.7 414.1v6.2"/>
<path d="M94.8 414.1v6.2"/>
<path d="M80.2 414.1v6.2"/>
<path d="M111.7 414.1v6.2"/>
<path d="M90.8 414.1v6.2"/>
<path d="M109.3 414.1v6.2"/>
<path d="M83.1 414.1v6.2"/>
<path d="M88.5 414.1v6.2"/>
<path d="M100.5 414.1v6.2"/>
<path d="M87.5 414.1v6.2"/>
<path d="M105.2 414.1v6.2"/>
<path d="M95.6 414.1v6.2"/>
<path d="M95.5 414.1v6.2"/>
<path d="M113.6 414.1v6.2"/>
<path d="M79.7 414.1v6.2"/>
<path d="M109.6 414.1v6.2"/>
<path d="M97.9 414.1v6.2"/>
<path d="M93.1 414.1v6.2"/>
<path d="M106.2 414.1v6.2"/>
<path d="M82.6 414.1v6.2"/>
<path d="M105.3 414.1v6.2"/>
<path d="M95.7 414.1v6.2"/>
<path d="M115.9 414.1v6.2"/>
<path d="M86.8 414.1v6.2"/>
<path d="M84.2 414.1v6.2"/>
<path d="M92.8 414.1v6.2"/>
<path d="M94.5 414.1v6.2"/>
<path d="M86.9 414.1v6.2"/>
<path d="M101.2 414.1v6.2"/>
<path d="M86.7 414.1v6.2"/>
<path d="M85.9 414.1v6.2"/>
<path d="M110.6 414.1v6.2"/>
<path d="M112.4 414.1v6.2"/>
<path d="M95.4 414.1v6.2"/>
<path d="M79.8 414.1v6.2"/>
<path d="M108.3 414.1v6.2"/>
<path d="M103.0 414.1v6.2"/>
<path d="M86.0 414.1v6.2"/>
<path d="M80.4 414.1v6.2"/>
<path d="M87.8 414.1v6.2"/>
<path d="M107.3 414.1v6.2"/>
<path d="M82.2 414.1v6.2"/>
<path d="M87.4 414.1v6.2"/>
<path d="M106.8 414.1v6.2"/>
<path d="M96.2 414.1v6.2"/>
<path d="M84.3 414.1v6.2"/>
</g>
<g stroke="#A020F0" stroke-opacity="0.45" stroke-width="1.4">
<path d="M124.8 416.5v6.2"/>
<path d="M166.9 416.5v6.2"/>
<path d="M147.0 416.5v6.2"/>
<path d="M146.8 416.5v6.2"/>
<path d="M182.4 416.5v6.2"/>
<path d="M126.7 416.5v6.2"/>
<path d="M78.2 416.5v6.2"/>
<path d="M178.4 416.5v6.2"/>
<path d="M77.4 416.5v6.2"/>
<path d="M155.9 416.5v6.2"/>
<path d="M168.5 416.5v6.2"/>
<path d="M126.8 416.5v6.2"/>
<path d="M160.6 416.5v6.2"/>
<path d="M118.9 416.5v6.2"/>
<path d="M126.4 416.5v6.2"/>
<path d="M182.9 416.5v6.2"/>
<path d="M177.2 416.5v6.2"/>
<path d="M180.2 416.5v6.2"/>
<path d="M167.1 416.5v6.2"/>
<path d="M143.0 416.5v6.2"/>
<path d="M79.5 416.5v6.2"/>
<path d="M175.3 416.5v6.2"/>
<path d="M130.0 416.5v6.2"/>
<path d="M183.1 416.5v6.2"/>
<path d="M151.6 416.5v6.2"/>
<path d="M132.0 416.5v6.2"/>
<path d="M71.9 416.5v6.2"/>
<path d="M177.6 416.5v6.2"/>
<path d="M79.2 416.5v6.2"/>
<path d="M143.6 416.5v6.2"/>
<path d="M121.2 416.5v6.2"/>
<path d="M68.7 416.5v6.2"/>
<path d="M150.9 416.5v6.2"/>
<path d="M158.6 416.5v6.2"/>
<path d="M124.4 416.5v6.2"/>
<path d="M129.9 416.5v6.2"/>
<path d="M120.8 416.5v6.2"/>
<path d="M146.3 416.5v6.2"/>
<path d="M183.1 416.5v6.2"/>
<path d="M160.6 416.5v6.2"/>
<path d="M75.4 416.5v6.2"/>
<path d="M125.2 416.5v6.2"/>
<path d="M79.3 416.5v6.2"/>
<path d="M179.5 416.5v6.2"/>
<path d="M154.4 416.5v6.2"/>
<path d="M167.0 416.5v6.2"/>
<path d="M149.0 416.5v6.2"/>
<path d="M118.8 416.5v6.2"/>
<path d="M157.5 416.5v6.2"/>
<path d="M76.2 416.5v6.2"/>
<path d="M123.3 416.5v6.2"/>
<path d="M146.4 416.5v6.2"/>
<path d="M142.8 416.5v6.2"/>
<path d="M152.1 416.5v6.2"/>
<path d="M155.7 416.5v6.2"/>
<path d="M183.4 416.5v6.2"/>
<path d="M147.2 416.5v6.2"/>
<path d="M71.2 416.5v6.2"/>
<path d="M161.2 416.5v6.2"/>
<path d="M175.4 416.5v6.2"/>
<path d="M136.9 416.5v6.2"/>
<path d="M141.4 416.5v6.2"/>
<path d="M168.3 416.5v6.2"/>
<path d="M67.7 416.5v6.2"/>
<path d="M166.8 416.5v6.2"/>
<path d="M140.3 416.5v6.2"/>
<path d="M183.1 416.5v6.2"/>
<path d="M75.5 416.5v6.2"/>
<path d="M150.2 416.5v6.2"/>
<path d="M137.7 416.5v6.2"/>
<path d="M135.5 416.5v6.2"/>
<path d="M140.2 416.5v6.2"/>
<path d="M118.2 416.5v6.2"/>
<path d="M166.1 416.5v6.2"/>
<path d="M119.6 416.5v6.2"/>
<path d="M142.9 416.5v6.2"/>
<path d="M125.9 416.5v6.2"/>
<path d="M152.2 416.5v6.2"/>
<path d="M78.1 416.5v6.2"/>
<path d="M151.4 416.5v6.2"/>
<path d="M125.8 416.5v6.2"/>
<path d="M126.6 416.5v6.2"/>
<path d="M156.1 416.5v6.2"/>
<path d="M152.9 416.5v6.2"/>
<path d="M78.4 416.5v6.2"/>
<path d="M158.8 416.5v6.2"/>
<path d="M137.3 416.5v6.2"/>
<path d="M156.1 416.5v6.2"/>
<path d="M150.5 416.5v6.2"/>
<path d="M156.5 416.5v6.2"/>
<path d="M121.7 416.5v6.2"/>
<path d="M154.6 416.5v6.2"/>
<path d="M119.1 416.5v6.2"/>
<path d="M120.9 416.5v6.2"/>
<path d="M147.6 416.5v6.2"/>
<path d="M153.6 416.5v6.2"/>
<path d="M119.3 416.5v6.2"/>
<path d="M165.2 416.5v6.2"/>
<path d="M163.8 416.5v6.2"/>
<path d="M166.2 416.5v6.2"/>
<path d="M144.1 416.5v6.2"/>
<path d="M139.2 416.5v6.2"/>
<path d="M76.3 416.5v6.2"/>
<path d="M153.7 416.5v6.2"/>
<path d="M143.6 416.5v6.2"/>
<path d="M76.6 416.5v6.2"/>
<path d="M159.6 416.5v6.2"/>
<path d="M155.8 416.5v6.2"/>
<path d="M134.7 416.5v6.2"/>
<path d="M128.2 416.5v6.2"/>
<path d="M157.6 416.5v6.2"/>
<path d="M147.0 416.5v6.2"/>
<path d="M123.9 416.5v6.2"/>
<path d="M117.9 416.5v6.2"/>
<path d="M133.8 416.5v6.2"/>
<path d="M122.4 416.5v6.2"/>
<path d="M150.2 416.5v6.2"/>
<path d="M123.9 416.5v6.2"/>
<path d="M118.8 416.5v6.2"/>
<path d="M142.6 416.5v6.2"/>
<path d="M146.2 416.5v6.2"/>
<path d="M155.2 416.5v6.2"/>
<path d="M151.7 416.5v6.2"/>
<path d="M138.4 416.5v6.2"/>
<path d="M143.3 416.5v6.2"/>
<path d="M141.2 416.5v6.2"/>
<path d="M77.9 416.5v6.2"/>
<path d="M137.3 416.5v6.2"/>
<path d="M145.8 416.5v6.2"/>
<path d="M148.4 416.5v6.2"/>
<path d="M135.8 416.5v6.2"/>
<path d="M154.2 416.5v6.2"/>
<path d="M79.4 416.5v6.2"/>
<path d="M119.1 416.5v6.2"/>
<path d="M126.3 416.5v6.2"/>
<path d="M137.1 416.5v6.2"/>
<path d="M125.6 416.5v6.2"/>
<path d="M140.0 416.5v6.2"/>
<path d="M142.0 416.5v6.2"/>
<path d="M144.5 416.5v6.2"/>
<path d="M143.4 416.5v6.2"/>
<path d="M164.3 416.5v6.2"/>
<path d="M129.8 416.5v6.2"/>
<path d="M124.3 416.5v6.2"/>
<path d="M124.3 416.5v6.2"/>
<path d="M148.9 416.5v6.2"/>
<path d="M118.2 416.5v6.2"/>
<path d="M77.2 416.5v6.2"/>
<path d="M167.1 416.5v6.2"/>
<path d="M126.2 416.5v6.2"/>
<path d="M160.0 416.5v6.2"/>
<path d="M163.3 416.5v6.2"/>
<path d="M137.7 416.5v6.2"/>
<path d="M149.0 416.5v6.2"/>
<path d="M146.9 416.5v6.2"/>
<path d="M139.0 416.5v6.2"/>
<path d="M77.7 416.5v6.2"/>
<path d="M124.0 416.5v6.2"/>
<path d="M141.6 416.5v6.2"/>
<path d="M117.9 416.5v6.2"/>
<path d="M154.4 416.5v6.2"/>
<path d="M78.3 416.5v6.2"/>
<path d="M168.6 416.5v6.2"/>
<path d="M136.6 416.5v6.2"/>
<path d="M154.3 416.5v6.2"/>
<path d="M141.7 416.5v6.2"/>
<path d="M158.3 416.5v6.2"/>
<path d="M144.2 416.5v6.2"/>
<path d="M154.2 416.5v6.2"/>
<path d="M130.7 416.5v6.2"/>
<path d="M122.6 416.5v6.2"/>
<path d="M120.7 416.5v6.2"/>
<path d="M148.9 416.5v6.2"/>
<path d="M119.2 416.5v6.2"/>
<path d="M122.4 416.5v6.2"/>
<path d="M121.5 416.5v6.2"/>
<path d="M118.4 416.5v6.2"/>
<path d="M149.0 416.5v6.2"/>
<path d="M125.1 416.5v6.2"/>
<path d="M122.9 416.5v6.2"/>
<path d="M138.9 416.5v6.2"/>
<path d="M166.7 416.5v6.2"/>
<path d="M155.5 416.5v6.2"/>
<path d="M118.2 416.5v6.2"/>
<path d="M164.8 416.5v6.2"/>
<path d="M137.8 416.5v6.2"/>
<path d="M131.0 416.5v6.2"/>
<path d="M163.4 416.5v6.2"/>
<path d="M131.6 416.5v6.2"/>
<path d="M159.1 416.5v6.2"/>
<path d="M158.6 416.5v6.2"/>
<path d="M164.2 416.5v6.2"/>
<path d="M160.3 416.5v6.2"/>
<path d="M153.2 416.5v6.2"/>
<path d="M79.0 416.5v6.2"/>
<path d="M118.2 416.5v6.2"/>
<path d="M165.6 416.5v6.2"/>
<path d="M76.8 416.5v6.2"/>
<path d="M77.3 416.5v6.2"/>
<path d="M122.6 416.5v6.2"/>
<path d="M160.0 416.5v6.2"/>
<path d="M140.2 416.5v6.2"/>
<path d="M154.5 416.5v6.2"/>
<path d="M150.3 416.5v6.2"/>
<path d="M155.0 416.5v6.2"/>
<path d="M162.7 416.5v6.2"/>
<path d="M133.8 416.5v6.2"/>
<path d="M160.0 416.5v6.2"/>
<path d="M164.0 416.5v6.2"/>
<path d="M157.0 416.5v6.2"/>
<path d="M138.0 416.5v6.2"/>
<path d="M128.9 416.5v6.2"/>
<path d="M161.7 416.5v6.2"/>
<path d="M168.3 416.5v6.2"/>
<path d="M118.8 416.5v6.2"/>
<path d="M166.7 416.5v6.2"/>
<path d="M76.7 416.5v6.2"/>
<path d="M152.6 416.5v6.2"/>
<path d="M162.6 416.5v6.2"/>
<path d="M153.9 416.5v6.2"/>
<path d="M131.3 416.5v6.2"/>
<path d="M127.8 416.5v6.2"/>
<path d="M140.7 416.5v6.2"/>
<path d="M160.4 416.5v6.2"/>
<path d="M158.8 416.5v6.2"/>
<path d="M140.7 416.5v6.2"/>
<path d="M121.8 416.5v6.2"/>
<path d="M166.0 416.5v6.2"/>
<path d="M130.0 416.5v6.2"/>
<path d="M164.2 416.5v6.2"/>
<path d="M151.5 416.5v6.2"/>
<path d="M144.4 416.5v6.2"/>
<path d="M151.3 416.5v6.2"/>
<path d="M154.1 416.5v6.2"/>
<path d="M167.0 416.5v6.2"/>
<path d="M142.3 416.5v6.2"/>
<path d="M167.2 416.5v6.2"/>
<path d="M124.7 416.5v6.2"/>
<path d="M143.1 416.5v6.2"/>
<path d="M148.6 416.5v6.2"/>
<path d="M77.7 416.5v6.2"/>
<path d="M163.9 416.5v6.2"/>
<path d="M153.7 416.5v6.2"/>
<path d="M159.4 416.5v6.2"/>
<path d="M144.7 416.5v6.2"/>
<path d="M119.2 416.5v6.2"/>
<path d="M153.9 416.5v6.2"/>
<path d="M151.1 416.5v6.2"/>
<path d="M149.0 416.5v6.2"/>
<path d="M119.8 416.5v6.2"/>
<path d="M159.6 416.5v6.2"/>
<path d="M146.0 416.5v6.2"/>
<path d="M135.7 416.5v6.2"/>
<path d="M125.6 416.5v6.2"/>
<path d="M132.6 416.5v6.2"/>
<path d="M126.1 416.5v6.2"/>
<path d="M168.5 416.5v6.2"/>
<path d="M166.2 416.5v6.2"/>
<path d="M79.6 416.5v6.2"/>
<path d="M164.1 416.5v6.2"/>
<path d="M125.6 416.5v6.2"/>
<path d="M152.6 416.5v6.2"/>
<path d="M142.5 416.5v6.2"/>
<path d="M153.2 416.5v6.2"/>
<path d="M126.2 416.5v6.2"/>
<path d="M152.7 416.5v6.2"/>
<path d="M140.8 416.5v6.2"/>
<path d="M160.9 416.5v6.2"/>
<path d="M149.3 416.5v6.2"/>
<path d="M157.5 416.5v6.2"/>
<path d="M76.6 416.5v6.2"/>
<path d="M147.4 416.5v6.2"/>
<path d="M129.0 416.5v6.2"/>
<path d="M146.3 416.5v6.2"/>
<path d="M119.9 416.5v6.2"/>
<path d="M131.7 416.5v6.2"/>
<path d="M128.0 416.5v6.2"/>
<path d="M159.7 416.5v6.2"/>
<path d="M124.4 416.5v6.2"/>
<path d="M140.1 416.5v6.2"/>
<path d="M165.7 416.5v6.2"/>
<path d="M122.6 416.5v6.2"/>
<path d="M146.9 416.5v6.2"/>
<path d="M152.1 416.5v6.2"/>
<path d="M134.8 416.5v6.2"/>
<path d="M161.5 416.5v6.2"/>
<path d="M125.2 416.5v6.2"/>
<path d="M145.3 416.5v6.2"/>
<path d="M161.5 416.5v6.2"/>
<path d="M135.9 416.5v6.2"/>
<path d="M132.2 416.5v6.2"/>
<path d="M129.3 416.5v6.2"/>
<path d="M127.8 416.5v6.2"/>
<path d="M160.4 416.5v6.2"/>
<path d="M153.2 416.5v6.2"/>
<path d="M144.8 416.5v6.2"/>
<path d="M162.2 416.5v6.2"/>
<path d="M147.8 416.5v6.2"/>
<path d="M119.3 416.5v6.2"/>
<path d="M146.1 416.5v6.2"/>
<path d="M119.6 416.5v6.2"/>
<path d="M152.9 416.5v6.2"/>
<path d="M79.3 416.5v6.2"/>
<path d="M121.6 416.5v6.2"/>
<path d="M155.4 416.5v6.2"/>
<path d="M152.8 416.5v6.2"/>
<path d="M127.7 416.5v6.2"/>
<path d="M137.0 416.5v6.2"/>
<path d="M158.1 416.5v6.2"/>
<path d="M158.0 416.5v6.2"/>
<path d="M145.6 416.5v6.2"/>
<path d="M135.3 416.5v6.2"/>
<path d="M148.4 416.5v6.2"/>
<path d="M159.7 416.5v6.2"/>
<path d="M120.7 416.5v6.2"/>
<path d="M161.5 416.5v6.2"/>
<path d="M147.3 416.5v6.2"/>
<path d="M130.6 416.5v6.2"/>
<path d="M122.4 416.5v6.2"/>
<path d="M146.4 416.5v6.2"/>
<path d="M145.2 416.5v6.2"/>
<path d="M150.7 416.5v6.2"/>
<path d="M161.1 416.5v6.2"/>
<path d="M157.2 416.5v6.2"/>
<path d="M122.8 416.5v6.2"/>
<path d="M117.6 416.5v6.2"/>
<path d="M122.3 416.5v6.2"/>
<path d="M119.9 416.5v6.2"/>
<path d="M141.0 416.5v6.2"/>
<path d="M136.8 416.5v6.2"/>
<path d="M167.0 416.5v6.2"/>
<path d="M158.6 416.5v6.2"/>
<path d="M135.1 416.5v6.2"/>
<path d="M159.7 416.5v6.2"/>
<path d="M117.5 416.5v6.2"/>
<path d="M150.5 416.5v6.2"/>
<path d="M125.2 416.5v6.2"/>
<path d="M167.4 416.5v6.2"/>
<path d="M131.9 416.5v6.2"/>
<path d="M123.3 416.5v6.2"/>
<path d="M149.5 416.5v6.2"/>
<path d="M153.5 416.5v6.2"/>
<path d="M77.8 416.5v6.2"/>
<path d="M164.2 416.5v6.2"/>
<path d="M78.3 416.5v6.2"/>
<path d="M129.6 416.5v6.2"/>
<path d="M141.6 416.5v6.2"/>
<path d="M148.2 416.5v6.2"/>
<path d="M155.5 416.5v6.2"/>
<path d="M122.0 416.5v6.2"/>
<path d="M163.9 416.5v6.2"/>
<path d="M144.0 416.5v6.2"/>
<path d="M128.6 416.5v6.2"/>
<path d="M124.7 416.5v6.2"/>
<path d="M140.7 416.5v6.2"/>
<path d="M134.5 416.5v6.2"/>
<path d="M149.0 416.5v6.2"/>
<path d="M135.2 416.5v6.2"/>
<path d="M150.4 416.5v6.2"/>
<path d="M160.0 416.5v6.2"/>
<path d="M162.4 416.5v6.2"/>
<path d="M131.5 416.5v6.2"/>
<path d="M127.1 416.5v6.2"/>
<path d="M152.3 416.5v6.2"/>
<path d="M134.4 416.5v6.2"/>
<path d="M138.9 416.5v6.2"/>
<path d="M132.4 416.5v6.2"/>
<path d="M120.8 416.5v6.2"/>
<path d="M147.4 416.5v6.2"/>
<path d="M77.4 416.5v6.2"/>
<path d="M169.0 416.5v6.2"/>
<path d="M123.6 416.5v6.2"/>
<path d="M149.7 416.5v6.2"/>
<path d="M154.1 416.5v6.2"/>
<path d="M168.4 416.5v6.2"/>
<path d="M128.2 416.5v6.2"/>
<path d="M155.5 416.5v6.2"/>
<path d="M76.4 416.5v6.2"/>
<path d="M149.3 416.5v6.2"/>
<path d="M138.3 416.5v6.2"/>
<path d="M77.8 416.5v6.2"/>
<path d="M144.6 416.5v6.2"/>
<path d="M138.8 416.5v6.2"/>
<path d="M156.3 416.5v6.2"/>
<path d="M136.3 416.5v6.2"/>
<path d="M147.5 416.5v6.2"/>
<path d="M122.7 416.5v6.2"/>
<path d="M137.8 416.5v6.2"/>
<path d="M144.5 416.5v6.2"/>
<path d="M132.6 416.5v6.2"/>
<path d="M141.2 416.5v6.2"/>
<path d="M117.8 416.5v6.2"/>
<path d="M136.9 416.5v6.2"/>
<path d="M145.2 416.5v6.2"/>
<path d="M124.7 416.5v6.2"/>
<path d="M130.2 416.5v6.2"/>
<path d="M163.1 416.5v6.2"/>
<path d="M160.8 416.5v6.2"/>
<path d="M168.4 416.5v6.2"/>
<path d="M143.7 416.5v6.2"/>
<path d="M153.0 416.5v6.2"/>
<path d="M136.8 416.5v6.2"/>
<path d="M134.1 416.5v6.2"/>
<path d="M157.8 416.5v6.2"/>
<path d="M120.8 416.5v6.2"/>
<path d="M78.2 416.5v6.2"/>
<path d="M154.8 416.5v6.2"/>
<path d="M148.6 416.5v6.2"/>
<path d="M145.6 416.5v6.2"/>
<path d="M140.5 416.5v6.2"/>
<path d="M125.0 416.5v6.2"/>
<path d="M140.3 416.5v6.2"/>
<path d="M123.0 416.5v6.2"/>
<path d="M167.0 416.5v6.2"/>
<path d="M135.3 416.5v6.2"/>
<path d="M122.9 416.5v6.2"/>
<path d="M155.4 416.5v6.2"/>
<path d="M145.3 416.5v6.2"/>
<path d="M153.9 416.5v6.2"/>
<path d="M130.0 416.5v6.2"/>
<path d="M129.8 416.5v6.2"/>
<path d="M125.5 416.5v6.2"/>
<path d="M144.6 416.5v6.2"/>
<path d="M122.4 416.5v6.2"/>
<path d="M119.9 416.5v6.2"/>
<path d="M137.7 416.5v6.2"/>
<path d="M78.4 416.5v6.2"/>
</g>
<g fill="#F5A62A" stroke="#000" stroke-width="1.0" id="p3">
<circle cx="128.5" cy="395.3" r="1.7"/>
<circle cx="120.3" cy="398.4" r="1.7"/>
<circle cx="125.0" cy="396.4" r="1.7"/>
<circle cx="120.3" cy="397.1" r="1.7"/>
<circle cx="116.7" cy="393.1" r="1.7"/>
<circle cx="126.4" cy="393.6" r="1.7"/>
<circle cx="114.9" cy="396.9" r="1.7"/>
<circle cx="118.6" cy="398.1" r="1.7"/>
<circle cx="88.9" cy="396.4" r="1.7"/>
<circle cx="79.8" cy="398.0" r="1.7"/>
<circle cx="120.0" cy="393.3" r="1.7"/>
<circle cx="79.6" cy="397.9" r="1.7"/>
<circle cx="131.1" cy="397.8" r="1.7"/>
<circle cx="109.1" cy="396.4" r="1.7"/>
<circle cx="90.8" cy="395.3" r="1.7"/>
<circle cx="132.3" cy="396.8" r="1.7"/>
<circle cx="78.9" cy="394.3" r="1.7"/>
<circle cx="103.5" cy="396.6" r="1.7"/>
<circle cx="74.6" cy="396.8" r="1.7"/>
<circle cx="134.3" cy="395.9" r="1.7"/>
<circle cx="107.6" cy="394.4" r="1.7"/>
<circle cx="123.2" cy="393.0" r="1.7"/>
<circle cx="87.6" cy="394.0" r="1.7"/>
<circle cx="123.1" cy="397.5" r="1.7"/>
<circle cx="116.3" cy="394.1" r="1.7"/>
<circle cx="112.3" cy="393.4" r="1.7"/>
<circle cx="133.3" cy="394.3" r="1.7"/>
<circle cx="97.9" cy="395.8" r="1.7"/>
<circle cx="96.7" cy="396.2" r="1.7"/>
<circle cx="115.6" cy="397.8" r="1.7"/>
<circle cx="125.4" cy="397.7" r="1.7"/>
<circle cx="91.2" cy="398.3" r="1.7"/>
<circle cx="114.1" cy="397.8" r="1.7"/>
<circle cx="82.6" cy="395.4" r="1.7"/>
<circle cx="106.0" cy="393.7" r="1.7"/>
<circle cx="120.9" cy="398.2" r="1.7"/>
<circle cx="72.8" cy="394.2" r="1.7"/>
<circle cx="118.1" cy="396.4" r="1.7"/>
<circle cx="69.4" cy="394.4" r="1.7"/>
<circle cx="133.8" cy="397.4" r="1.7"/>
<circle cx="100.3" cy="394.1" r="1.7"/>
<circle cx="96.3" cy="395.3" r="1.7"/>
<circle cx="117.5" cy="394.2" r="1.7"/>
<circle cx="104.1" cy="397.7" r="1.7"/>
<circle cx="118.3" cy="396.4" r="1.7"/>
<circle cx="74.1" cy="396.4" r="1.7"/>
<circle cx="106.8" cy="394.7" r="1.7"/>
<circle cx="106.4" cy="393.9" r="1.7"/>
<circle cx="132.0" cy="397.7" r="1.7"/>
<circle cx="71.0" cy="397.2" r="1.7"/>
<circle cx="99.3" cy="397.0" r="1.7"/>
<circle cx="111.4" cy="398.4" r="1.7"/>
<circle cx="105.9" cy="396.0" r="1.7"/>
<circle cx="73.4" cy="393.9" r="1.7"/>
<circle cx="108.8" cy="396.3" r="1.7"/>
<circle cx="83.5" cy="394.5" r="1.7"/>
<circle cx="81.7" cy="395.8" r="1.7"/>
<circle cx="128.4" cy="395.5" r="1.7"/>
<circle cx="81.8" cy="396.0" r="1.7"/>
<circle cx="99.4" cy="398.0" r="1.7"/>
<circle cx="119.6" cy="397.4" r="1.7"/>
<circle cx="116.6" cy="395.2" r="1.7"/>
<circle cx="106.1" cy="397.4" r="1.7"/>
<circle cx="123.5" cy="397.7" r="1.7"/>
<circle cx="100.1" cy="397.2" r="1.7"/>
<circle cx="110.7" cy="396.0" r="1.7"/>
<circle cx="124.3" cy="397.9" r="1.7"/>
<circle cx="114.7" cy="395.7" r="1.7"/>
<circle cx="112.2" cy="393.5" r="1.7"/>
<circle cx="96.1" cy="394.4" r="1.7"/>
<circle cx="106.5" cy="396.6" r="1.7"/>
<circle cx="95.4" cy="395.0" r="1.7"/>
<circle cx="119.2" cy="395.3" r="1.7"/>
<circle cx="94.3" cy="395.2" r="1.7"/>
<circle cx="100.2" cy="394.0" r="1.7"/>
<circle cx="119.9" cy="393.5" r="1.7"/>
<circle cx="102.7" cy="393.2" r="1.7"/>
<circle cx="91.4" cy="396.6" r="1.7"/>
<circle cx="124.8" cy="394.7" r="1.7"/>
<circle cx="94.3" cy="395.5" r="1.7"/>
<circle cx="126.0" cy="398.1" r="1.7"/>
<circle cx="122.0" cy="396.4" r="1.7"/>
<circle cx="98.9" cy="397.4" r="1.7"/>
<circle cx="117.0" cy="397.1" r="1.7"/>
<circle cx="70.7" cy="398.2" r="1.7"/>
<circle cx="94.9" cy="393.3" r="1.7"/>
<circle cx="127.1" cy="395.1" r="1.7"/>
<circle cx="107.9" cy="398.2" r="1.7"/>
<circle cx="106.4" cy="395.5" r="1.7"/>
<circle cx="113.7" cy="398.2" r="1.7"/>
<circle cx="114.6" cy="394.0" r="1.7"/>
<circle cx="108.2" cy="393.3" r="1.7"/>
<circle cx="97.1" cy="397.9" r="1.7"/>
<circle cx="80.8" cy="395.2" r="1.7"/>
<circle cx="88.3" cy="395.7" r="1.7"/>
<circle cx="88.3" cy="398.1" r="1.7"/>
<circle cx="97.7" cy="394.2" r="1.7"/>
<circle cx="136.6" cy="398.3" r="1.7"/>
<circle cx="92.4" cy="395.1" r="1.7"/>
<circle cx="98.9" cy="394.3" r="1.7"/>
<circle cx="93.7" cy="394.2" r="1.7"/>
<circle cx="108.0" cy="395.8" r="1.7"/>
<circle cx="133.1" cy="395.5" r="1.7"/>
<circle cx="129.1" cy="397.8" r="1.7"/>
<circle cx="94.1" cy="393.2" r="1.7"/>
<circle cx="86.5" cy="393.2" r="1.7"/>
<circle cx="128.8" cy="393.8" r="1.7"/>
<circle cx="102.1" cy="396.3" r="1.7"/>
<circle cx="115.2" cy="397.2" r="1.7"/>
<circle cx="73.3" cy="395.6" r="1.7"/>
<circle cx="127.5" cy="396.3" r="1.7"/>
<circle cx="89.7" cy="396.5" r="1.7"/>
<circle cx="102.1" cy="393.1" r="1.7"/>
<circle cx="81.8" cy="394.3" r="1.7"/>
<circle cx="97.0" cy="398.4" r="1.7"/>
<circle cx="124.9" cy="394.8" r="1.7"/>
<circle cx="124.9" cy="398.2" r="1.7"/>
<circle cx="100.7" cy="395.7" r="1.7"/>
<circle cx="120.8" cy="394.2" r="1.7"/>
<circle cx="99.6" cy="393.0" r="1.7"/>
<circle cx="93.8" cy="394.1" r="1.7"/>
<circle cx="105.6" cy="394.7" r="1.7"/>
<circle cx="82.1" cy="395.4" r="1.7"/>
<circle cx="89.9" cy="395.4" r="1.7"/>
<circle cx="116.6" cy="396.0" r="1.7"/>
<circle cx="121.0" cy="395.6" r="1.7"/>
<circle cx="72.2" cy="393.1" r="1.7"/>
<circle cx="118.4" cy="394.4" r="1.7"/>
<circle cx="124.2" cy="398.2" r="1.7"/>
<circle cx="98.7" cy="393.1" r="1.7"/>
<circle cx="72.6" cy="397.0" r="1.7"/>
<circle cx="115.0" cy="395.6" r="1.7"/>
<circle cx="85.1" cy="396.8" r="1.7"/>
<circle cx="112.3" cy="394.8" r="1.7"/>
<circle cx="94.0" cy="395.0" r="1.7"/>
<circle cx="111.9" cy="395.8" r="1.7"/>
<circle cx="85.9" cy="398.0" r="1.7"/>
<circle cx="100.9" cy="394.8" r="1.7"/>
<circle cx="104.2" cy="393.4" r="1.7"/>
<circle cx="111.4" cy="393.2" r="1.7"/>
<circle cx="82.2" cy="397.8" r="1.7"/>
<circle cx="134.1" cy="394.7" r="1.7"/>
<circle cx="88.1" cy="393.6" r="1.7"/>
<circle cx="89.2" cy="396.2" r="1.7"/>
<circle cx="85.8" cy="397.6" r="1.7"/>
<circle cx="72.9" cy="396.2" r="1.7"/>
<circle cx="97.2" cy="393.8" r="1.7"/>
<circle cx="121.1" cy="395.2" r="1.7"/>
<circle cx="116.8" cy="394.4" r="1.7"/>
<circle cx="81.7" cy="393.0" r="1.7"/>
<circle cx="77.7" cy="398.3" r="1.7"/>
<circle cx="90.3" cy="395.5" r="1.7"/>
<circle cx="120.8" cy="393.7" r="1.7"/>
<circle cx="101.7" cy="397.8" r="1.7"/>
<circle cx="131.4" cy="398.4" r="1.7"/>
<circle cx="113.2" cy="397.4" r="1.7"/>
<circle cx="110.7" cy="394.3" r="1.7"/>
<circle cx="120.8" cy="394.0" r="1.7"/>
<circle cx="119.6" cy="395.8" r="1.7"/>
<circle cx="91.8" cy="396.2" r="1.7"/>
<circle cx="85.9" cy="397.8" r="1.7"/>
<circle cx="98.2" cy="398.3" r="1.7"/>
<circle cx="101.7" cy="398.0" r="1.7"/>
<circle cx="78.0" cy="394.8" r="1.7"/>
<circle cx="98.5" cy="396.2" r="1.7"/>
<circle cx="112.0" cy="393.6" r="1.7"/>
<circle cx="77.6" cy="395.8" r="1.7"/>
<circle cx="77.7" cy="393.3" r="1.7"/>
<circle cx="80.2" cy="393.6" r="1.7"/>
<circle cx="87.7" cy="393.6" r="1.7"/>
<circle cx="134.0" cy="394.6" r="1.7"/>
<circle cx="70.1" cy="394.7" r="1.7"/>
<circle cx="80.9" cy="396.8" r="1.7"/>
<circle cx="79.6" cy="393.4" r="1.7"/>
<circle cx="100.7" cy="393.6" r="1.7"/>
<circle cx="69.3" cy="396.6" r="1.7"/>
<circle cx="99.6" cy="396.7" r="1.7"/>
<circle cx="79.4" cy="396.9" r="1.7"/>
<circle cx="86.7" cy="396.9" r="1.7"/>
<circle cx="122.5" cy="396.6" r="1.7"/>
<circle cx="80.9" cy="396.0" r="1.7"/>
<circle cx="110.5" cy="397.0" r="1.7"/>
<circle cx="96.1" cy="393.4" r="1.7"/>
<circle cx="96.8" cy="394.1" r="1.7"/>
<circle cx="124.1" cy="397.0" r="1.7"/>
<circle cx="79.3" cy="394.0" r="1.7"/>
<circle cx="131.4" cy="395.9" r="1.7"/>
<circle cx="129.4" cy="394.4" r="1.7"/>
<circle cx="114.0" cy="395.3" r="1.7"/>
<circle cx="71.7" cy="397.5" r="1.7"/>
<circle cx="113.6" cy="396.6" r="1.7"/>
<circle cx="109.3" cy="395.4" r="1.7"/>
<circle cx="121.1" cy="394.5" r="1.7"/>
<circle cx="82.9" cy="397.4" r="1.7"/>
<circle cx="133.5" cy="396.6" r="1.7"/>
<circle cx="128.9" cy="395.4" r="1.7"/>
<circle cx="76.1" cy="397.7" r="1.7"/>
<circle cx="89.8" cy="396.8" r="1.7"/>
<circle cx="70.5" cy="398.3" r="1.7"/>
<circle cx="125.1" cy="396.6" r="1.7"/>
<circle cx="130.9" cy="397.9" r="1.7"/>
<circle cx="136.0" cy="396.0" r="1.7"/>
<circle cx="110.1" cy="396.9" r="1.7"/>
<circle cx="113.8" cy="397.6" r="1.7"/>
<circle cx="114.7" cy="393.4" r="1.7"/>
<circle cx="107.3" cy="395.6" r="1.7"/>
<circle cx="133.4" cy="396.3" r="1.7"/>
<circle cx="109.8" cy="393.3" r="1.7"/>
<circle cx="91.2" cy="397.3" r="1.7"/>
<circle cx="103.4" cy="396.9" r="1.7"/>
<circle cx="69.6" cy="398.1" r="1.7"/>
<circle cx="117.8" cy="395.0" r="1.7"/>
<circle cx="115.7" cy="395.5" r="1.7"/>
<circle cx="97.1" cy="398.0" r="1.7"/>
<circle cx="126.5" cy="395.2" r="1.7"/>
<circle cx="119.9" cy="397.5" r="1.7"/>
<circle cx="91.3" cy="395.3" r="1.7"/>
<circle cx="73.6" cy="394.8" r="1.7"/>
<circle cx="77.3" cy="394.5" r="1.7"/>
<circle cx="80.9" cy="394.1" r="1.7"/>
<circle cx="89.1" cy="395.3" r="1.7"/>
<circle cx="98.9" cy="393.8" r="1.7"/>
<circle cx="131.7" cy="397.5" r="1.7"/>
<circle cx="87.3" cy="398.3" r="1.7"/>
<circle cx="129.7" cy="393.5" r="1.7"/>
<circle cx="114.8" cy="393.3" r="1.7"/>
<circle cx="126.6" cy="393.0" r="1.7"/>
<circle cx="95.9" cy="398.1" r="1.7"/>
<circle cx="68.5" cy="393.4" r="1.7"/>
<circle cx="122.1" cy="396.7" r="1.7"/>
<circle cx="85.1" cy="394.6" r="1.7"/>
<circle cx="78.0" cy="394.0" r="1.7"/>
<circle cx="122.9" cy="394.3" r="1.7"/>
<circle cx="115.2" cy="396.7" r="1.7"/>
<circle cx="82.8" cy="393.0" r="1.7"/>
<circle cx="86.6" cy="397.7" r="1.7"/>
<circle cx="132.5" cy="396.1" r="1.7"/>
<circle cx="86.7" cy="394.2" r="1.7"/>
<circle cx="116.3" cy="394.1" r="1.7"/>
<circle cx="77.2" cy="396.6" r="1.7"/>
<circle cx="124.0" cy="396.4" r="1.7"/>
<circle cx="76.3" cy="394.7" r="1.7"/>
<circle cx="103.6" cy="394.8" r="1.7"/>
<circle cx="70.7" cy="395.5" r="1.7"/>
<circle cx="105.9" cy="398.0" r="1.7"/>
<circle cx="126.2" cy="395.9" r="1.7"/>
<circle cx="74.1" cy="397.6" r="1.7"/>
<circle cx="87.0" cy="396.5" r="1.7"/>
<circle cx="120.6" cy="396.0" r="1.7"/>
<circle cx="109.9" cy="395.6" r="1.7"/>
<circle cx="89.7" cy="396.7" r="1.7"/>
<circle cx="111.3" cy="395.7" r="1.7"/>
<circle cx="99.4" cy="396.9" r="1.7"/>
<circle cx="127.2" cy="394.0" r="1.7"/>
<circle cx="88.3" cy="394.7" r="1.7"/>
<circle cx="120.1" cy="397.8" r="1.7"/>
<circle cx="111.8" cy="395.1" r="1.7"/>
<circle cx="118.9" cy="397.6" r="1.7"/>
<circle cx="94.2" cy="398.1" r="1.7"/>
<circle cx="117.9" cy="396.1" r="1.7"/>
<circle cx="116.0" cy="393.5" r="1.7"/>
<circle cx="94.8" cy="397.1" r="1.7"/>
<circle cx="70.1" cy="396.6" r="1.7"/>
<circle cx="134.1" cy="394.5" r="1.7"/>
<circle cx="117.1" cy="397.7" r="1.7"/>
<circle cx="82.3" cy="395.6" r="1.7"/>
<circle cx="118.3" cy="393.3" r="1.7"/>
<circle cx="87.3" cy="393.3" r="1.7"/>
<circle cx="100.4" cy="394.2" r="1.7"/>
<circle cx="127.1" cy="396.3" r="1.7"/>
<circle cx="98.9" cy="397.4" r="1.7"/>
<circle cx="88.0" cy="393.5" r="1.7"/>
<circle cx="89.2" cy="393.1" r="1.7"/>
<circle cx="73.6" cy="396.4" r="1.7"/>
<circle cx="83.3" cy="395.2" r="1.7"/>
<circle cx="86.8" cy="395.4" r="1.7"/>
<circle cx="80.1" cy="397.5" r="1.7"/>
<circle cx="72.6" cy="398.0" r="1.7"/>
<circle cx="100.1" cy="398.3" r="1.7"/>
<circle cx="83.0" cy="397.2" r="1.7"/>
<circle cx="118.8" cy="393.0" r="1.7"/>
<circle cx="131.4" cy="393.8" r="1.7"/>
<circle cx="87.0" cy="396.2" r="1.7"/>
<circle cx="107.4" cy="398.2" r="1.7"/>
<circle cx="102.9" cy="393.4" r="1.7"/>
<circle cx="73.4" cy="395.8" r="1.7"/>
<circle cx="76.8" cy="395.1" r="1.7"/>
<circle cx="128.8" cy="395.2" r="1.7"/>
<circle cx="100.7" cy="394.4" r="1.7"/>
<circle cx="123.3" cy="394.4" r="1.7"/>
<circle cx="72.9" cy="394.3" r="1.7"/>
<circle cx="109.0" cy="393.5" r="1.7"/>
<circle cx="127.4" cy="396.0" r="1.7"/>
<circle cx="127.6" cy="395.4" r="1.7"/>
<circle cx="68.7" cy="396.9" r="1.7"/>
<circle cx="104.0" cy="396.5" r="1.7"/>
<circle cx="93.5" cy="398.2" r="1.7"/>
<circle cx="120.3" cy="394.8" r="1.7"/>
<circle cx="73.3" cy="397.8" r="1.7"/>
<circle cx="86.4" cy="395.1" r="1.7"/>
<circle cx="123.8" cy="396.6" r="1.7"/>
<circle cx="100.4" cy="397.4" r="1.7"/>
<circle cx="99.3" cy="395.1" r="1.7"/>
<circle cx="134.5" cy="395.4" r="1.7"/>
<circle cx="90.2" cy="396.4" r="1.7"/>
<circle cx="71.2" cy="393.6" r="1.7"/>
<circle cx="95.1" cy="395.9" r="1.7"/>
<circle cx="78.8" cy="393.5" r="1.7"/>
<circle cx="73.9" cy="394.2" r="1.7"/>
<circle cx="107.1" cy="396.4" r="1.7"/>
<circle cx="133.5" cy="398.3" r="1.7"/>
<circle cx="107.9" cy="398.4" r="1.7"/>
<circle cx="112.5" cy="394.4" r="1.7"/>
<circle cx="90.4" cy="393.8" r="1.7"/>
<circle cx="107.3" cy="395.8" r="1.7"/>
<circle cx="119.7" cy="395.4" r="1.7"/>
<circle cx="108.6" cy="395.0" r="1.7"/>
<circle cx="123.2" cy="397.2" r="1.7"/>
<circle cx="105.9" cy="396.9" r="1.7"/>
<circle cx="81.8" cy="396.0" r="1.7"/>
<circle cx="108.1" cy="396.4" r="1.7"/>
<circle cx="101.9" cy="396.2" r="1.7"/>
<circle cx="79.6" cy="396.7" r="1.7"/>
<circle cx="110.6" cy="398.1" r="1.7"/>
<circle cx="124.1" cy="398.2" r="1.7"/>
<circle cx="77.5" cy="398.3" r="1.7"/>
<circle cx="105.5" cy="397.7" r="1.7"/>
<circle cx="118.5" cy="393.5" r="1.7"/>
<circle cx="95.8" cy="395.4" r="1.7"/>
<circle cx="86.8" cy="397.2" r="1.7"/>
<circle cx="93.7" cy="394.6" r="1.7"/>
<circle cx="105.3" cy="396.3" r="1.7"/>
<circle cx="115.2" cy="393.3" r="1.7"/>
<circle cx="106.5" cy="394.1" r="1.7"/>
<circle cx="75.6" cy="395.2" r="1.7"/>
<circle cx="124.2" cy="393.3" r="1.7"/>
<circle cx="131.4" cy="395.3" r="1.7"/>
<circle cx="75.2" cy="394.2" r="1.7"/>
<circle cx="85.4" cy="397.7" r="1.7"/>
<circle cx="80.2" cy="394.7" r="1.7"/>
<circle cx="126.3" cy="395.0" r="1.7"/>
<circle cx="130.5" cy="397.4" r="1.7"/>
<circle cx="71.3" cy="396.0" r="1.7"/>
<circle cx="91.0" cy="393.2" r="1.7"/>
<circle cx="81.5" cy="394.1" r="1.7"/>
<circle cx="100.4" cy="396.3" r="1.7"/>
<circle cx="131.3" cy="394.0" r="1.7"/>
<circle cx="73.1" cy="394.3" r="1.7"/>
<circle cx="80.0" cy="396.4" r="1.7"/>
<circle cx="101.6" cy="395.7" r="1.7"/>
<circle cx="104.1" cy="394.4" r="1.7"/>
<circle cx="119.3" cy="396.0" r="1.7"/>
<circle cx="98.2" cy="396.4" r="1.7"/>
<circle cx="77.9" cy="393.2" r="1.7"/>
<circle cx="92.5" cy="394.5" r="1.7"/>
<circle cx="135.4" cy="394.6" r="1.7"/>
<circle cx="119.6" cy="397.8" r="1.7"/>
<circle cx="76.3" cy="393.2" r="1.7"/>
<circle cx="123.5" cy="394.9" r="1.7"/>
<circle cx="89.6" cy="394.0" r="1.7"/>
<circle cx="121.7" cy="396.8" r="1.7"/>
<circle cx="69.2" cy="397.4" r="1.7"/>
<circle cx="127.9" cy="393.3" r="1.7"/>
<circle cx="79.4" cy="397.7" r="1.7"/>
<circle cx="99.5" cy="396.8" r="1.7"/>
<circle cx="113.5" cy="394.1" r="1.7"/>
<circle cx="103.0" cy="398.0" r="1.7"/>
<circle cx="79.6" cy="394.6" r="1.7"/>
<circle cx="77.8" cy="397.3" r="1.7"/>
<circle cx="87.7" cy="393.4" r="1.7"/>
<circle cx="71.9" cy="395.5" r="1.7"/>
<circle cx="83.1" cy="395.7" r="1.7"/>
<circle cx="77.2" cy="397.9" r="1.7"/>
<circle cx="100.1" cy="397.6" r="1.7"/>
<circle cx="92.7" cy="396.0" r="1.7"/>
<circle cx="108.4" cy="393.2" r="1.7"/>
<circle cx="87.5" cy="395.3" r="1.7"/>
<circle cx="70.6" cy="395.0" r="1.7"/>
<circle cx="90.9" cy="398.4" r="1.7"/>
<circle cx="119.9" cy="396.7" r="1.7"/>
<circle cx="85.8" cy="395.2" r="1.7"/>
<circle cx="96.0" cy="395.0" r="1.7"/>
<circle cx="119.9" cy="397.2" r="1.7"/>
<circle cx="96.1" cy="393.5" r="1.7"/>
<circle cx="128.9" cy="397.4" r="1.7"/>
<circle cx="131.1" cy="396.6" r="1.7"/>
<circle cx="89.5" cy="395.3" r="1.7"/>
<circle cx="118.6" cy="396.9" r="1.7"/>
<circle cx="85.6" cy="395.1" r="1.7"/>
<circle cx="77.8" cy="393.7" r="1.7"/>
<circle cx="98.2" cy="395.2" r="1.7"/>
<circle cx="109.5" cy="393.2" r="1.7"/>
<circle cx="132.3" cy="393.4" r="1.7"/>
<circle cx="78.3" cy="395.4" r="1.7"/>
<circle cx="117.0" cy="397.5" r="1.7"/>
<circle cx="100.8" cy="394.1" r="1.7"/>
<circle cx="77.3" cy="395.7" r="1.7"/>
<circle cx="134.8" cy="398.3" r="1.7"/>
<circle cx="115.9" cy="397.5" r="1.7"/>
<circle cx="77.1" cy="397.9" r="1.7"/>
<circle cx="130.2" cy="396.7" r="1.7"/>
<circle cx="75.3" cy="396.2" r="1.7"/>
<circle cx="74.6" cy="396.2" r="1.7"/>
<circle cx="91.0" cy="396.3" r="1.7"/>
<circle cx="132.4" cy="395.5" r="1.7"/>
<circle cx="70.6" cy="394.9" r="1.7"/>
<circle cx="131.1" cy="394.3" r="1.7"/>
<circle cx="110.1" cy="393.3" r="1.7"/>
<circle cx="72.9" cy="395.0" r="1.7"/>
<circle cx="107.2" cy="397.2" r="1.7"/>
<circle cx="99.7" cy="396.0" r="1.7"/>
<circle cx="106.9" cy="393.9" r="1.7"/>
<circle cx="118.7" cy="397.4" r="1.7"/>
<circle cx="114.7" cy="393.2" r="1.7"/>
<circle cx="136.5" cy="398.1" r="1.7"/>
<circle cx="79.0" cy="396.5" r="1.7"/>
<circle cx="123.9" cy="396.0" r="1.7"/>
<circle cx="96.4" cy="395.2" r="1.7"/>
<circle cx="121.8" cy="397.5" r="1.7"/>
<circle cx="129.3" cy="393.0" r="1.7"/>
<circle cx="136.1" cy="393.0" r="1.7"/>
<circle cx="86.5" cy="395.8" r="1.7"/>
<circle cx="99.3" cy="394.6" r="1.7"/>
<circle cx="132.7" cy="395.2" r="1.7"/>
<circle cx="132.9" cy="395.9" r="1.7"/>
<circle cx="93.8" cy="393.2" r="1.7"/>
<circle cx="132.6" cy="398.4" r="1.7"/>
<circle cx="96.0" cy="396.7" r="1.7"/>
<circle cx="93.9" cy="393.5" r="1.7"/>
<circle cx="120.0" cy="397.0" r="1.7"/>
<circle cx="100.5" cy="395.9" r="1.7"/>
<circle cx="98.9" cy="396.7" r="1.7"/>
<circle cx="94.7" cy="397.0" r="1.7"/>
<circle cx="97.9" cy="398.4" r="1.7"/>
<circle cx="77.9" cy="393.6" r="1.7"/>
<circle cx="72.5" cy="398.4" r="1.7"/>
<circle cx="119.8" cy="395.6" r="1.7"/>
<circle cx="106.9" cy="394.1" r="1.7"/>
<circle cx="114.2" cy="395.0" r="1.7"/>
<circle cx="123.1" cy="395.0" r="1.7"/>
<circle cx="84.0" cy="397.9" r="1.7"/>
<circle cx="84.3" cy="395.8" r="1.7"/>
<circle cx="87.3" cy="393.3" r="1.7"/>
<circle cx="89.1" cy="396.9" r="1.7"/>
<circle cx="120.3" cy="395.7" r="1.7"/>
<circle cx="93.9" cy="397.4" r="1.7"/>
<circle cx="90.4" cy="393.2" r="1.7"/>
<circle cx="111.8" cy="397.7" r="1.7"/>
<circle cx="81.1" cy="397.9" r="1.7"/>
<circle cx="75.6" cy="393.0" r="1.7"/>
<circle cx="116.0" cy="395.6" r="1.7"/>
<circle cx="120.0" cy="393.6" r="1.7"/>
<circle cx="88.6" cy="395.9" r="1.7"/>
<circle cx="111.8" cy="393.4" r="1.7"/>
<circle cx="70.6" cy="397.8" r="1.7"/>
<circle cx="95.9" cy="394.0" r="1.7"/>
<circle cx="107.8" cy="396.6" r="1.7"/>
<circle cx="85.6" cy="396.5" r="1.7"/>
<circle cx="92.1" cy="394.7" r="1.7"/>
<circle cx="110.0" cy="394.1" r="1.7"/>
<circle cx="108.6" cy="398.0" r="1.7"/>
<circle cx="78.8" cy="393.2" r="1.7"/>
<circle cx="116.6" cy="394.3" r="1.7"/>
<circle cx="73.8" cy="394.7" r="1.7"/>
<circle cx="134.6" cy="396.2" r="1.7"/>
<circle cx="82.1" cy="395.0" r="1.7"/>
<circle cx="85.6" cy="393.6" r="1.7"/>
<circle cx="82.0" cy="396.1" r="1.7"/>
<circle cx="136.1" cy="396.9" r="1.7"/>
<circle cx="87.9" cy="396.8" r="1.7"/>
<circle cx="109.7" cy="395.6" r="1.7"/>
<circle cx="136.0" cy="394.6" r="1.7"/>
<circle cx="133.2" cy="393.0" r="1.7"/>
<circle cx="71.2" cy="395.9" r="1.7"/>
<circle cx="103.9" cy="396.4" r="1.7"/>
<circle cx="109.4" cy="395.4" r="1.7"/>
<circle cx="116.3" cy="398.2" r="1.7"/>
<circle cx="91.3" cy="394.1" r="1.7"/>
<circle cx="90.7" cy="397.4" r="1.7"/>
<circle cx="68.6" cy="396.9" r="1.7"/>
<circle cx="140.0" cy="397.9" r="1.7"/>
</g>
<g fill="#4682B4" stroke="#000" stroke-width="1.0" id="p4">
<circle cx="77.6" cy="406.4" r="1.7"/>
<circle cx="126.9" cy="402.5" r="1.7"/>
<circle cx="81.5" cy="406.4" r="1.7"/>
<circle cx="93.6" cy="403.5" r="1.7"/>
<circle cx="106.1" cy="405.0" r="1.7"/>
<circle cx="81.0" cy="406.5" r="1.7"/>
<circle cx="77.2" cy="404.5" r="1.7"/>
<circle cx="162.9" cy="404.5" r="1.7"/>
<circle cx="115.9" cy="401.6" r="1.7"/>
<circle cx="93.9" cy="404.5" r="1.7"/>
<circle cx="142.0" cy="402.6" r="1.7"/>
<circle cx="75.2" cy="403.4" r="1.7"/>
<circle cx="97.7" cy="403.3" r="1.7"/>
<circle cx="166.1" cy="406.7" r="1.7"/>
<circle cx="160.1" cy="404.8" r="1.7"/>
<circle cx="135.1" cy="405.3" r="1.7"/>
<circle cx="83.2" cy="402.2" r="1.7"/>
<circle cx="104.7" cy="402.9" r="1.7"/>
<circle cx="76.9" cy="406.1" r="1.7"/>
<circle cx="95.2" cy="401.9" r="1.7"/>
<circle cx="76.7" cy="406.5" r="1.7"/>
<circle cx="86.3" cy="403.6" r="1.7"/>
<circle cx="134.8" cy="403.4" r="1.7"/>
<circle cx="83.9" cy="404.1" r="1.7"/>
<circle cx="89.2" cy="403.7" r="1.7"/>
<circle cx="160.6" cy="403.8" r="1.7"/>
<circle cx="106.3" cy="403.6" r="1.7"/>
<circle cx="106.1" cy="405.1" r="1.7"/>
<circle cx="82.5" cy="402.7" r="1.7"/>
<circle cx="150.4" cy="402.1" r="1.7"/>
<circle cx="138.9" cy="403.6" r="1.7"/>
<circle cx="126.6" cy="401.7" r="1.7"/>
<circle cx="133.3" cy="403.7" r="1.7"/>
<circle cx="83.9" cy="404.0" r="1.7"/>
<circle cx="99.2" cy="405.6" r="1.7"/>
<circle cx="130.1" cy="401.8" r="1.7"/>
<circle cx="165.3" cy="403.4" r="1.7"/>
<circle cx="152.4" cy="405.6" r="1.7"/>
<circle cx="135.5" cy="403.1" r="1.7"/>
<circle cx="123.9" cy="405.9" r="1.7"/>
<circle cx="75.7" cy="405.2" r="1.7"/>
<circle cx="159.4" cy="401.4" r="1.7"/>
<circle cx="80.7" cy="403.4" r="1.7"/>
<circle cx="86.6" cy="405.5" r="1.7"/>
<circle cx="140.5" cy="404.1" r="1.7"/>
<circle cx="151.9" cy="405.0" r="1.7"/>
<circle cx="149.5" cy="406.7" r="1.7"/>
<circle cx="117.5" cy="405.0" r="1.7"/>
<circle cx="91.2" cy="404.3" r="1.7"/>
<circle cx="77.6" cy="405.9" r="1.7"/>
<circle cx="155.7" cy="403.6" r="1.7"/>
<circle cx="167.7" cy="401.3" r="1.7"/>
<circle cx="97.6" cy="402.7" r="1.7"/>
<circle cx="157.1" cy="404.5" r="1.7"/>
<circle cx="112.8" cy="406.5" r="1.7"/>
<circle cx="104.0" cy="404.6" r="1.7"/>
<circle cx="122.6" cy="402.8" r="1.7"/>
<circle cx="75.1" cy="406.8" r="1.7"/>
<circle cx="116.6" cy="403.4" r="1.7"/>
<circle cx="93.4" cy="402.5" r="1.7"/>
<circle cx="142.4" cy="404.3" r="1.7"/>
<circle cx="122.3" cy="403.1" r="1.7"/>
<circle cx="157.3" cy="401.8" r="1.7"/>
<circle cx="160.0" cy="405.2" r="1.7"/>
<circle cx="104.6" cy="405.1" r="1.7"/>
<circle cx="101.1" cy="406.6" r="1.7"/>
<circle cx="164.1" cy="402.0" r="1.7"/>
<circle cx="122.5" cy="406.3" r="1.7"/>
<circle cx="83.5" cy="405.7" r="1.7"/>
<circle cx="78.7" cy="402.6" r="1.7"/>
<circle cx="169.0" cy="403.9" r="1.7"/>
<circle cx="129.6" cy="404.7" r="1.7"/>
<circle cx="79.5" cy="403.0" r="1.7"/>
<circle cx="123.2" cy="401.8" r="1.7"/>
<circle cx="122.5" cy="405.9" r="1.7"/>
<circle cx="115.9" cy="402.1" r="1.7"/>
<circle cx="165.2" cy="403.9" r="1.7"/>
<circle cx="165.0" cy="403.7" r="1.7"/>
<circle cx="86.2" cy="406.3" r="1.7"/>
<circle cx="88.8" cy="404.3" r="1.7"/>
<circle cx="113.2" cy="403.6" r="1.7"/>
<circle cx="154.0" cy="406.7" r="1.7"/>
<circle cx="133.9" cy="403.2" r="1.7"/>
<circle cx="144.0" cy="405.3" r="1.7"/>
<circle cx="129.3" cy="402.5" r="1.7"/>
<circle cx="94.4" cy="405.4" r="1.7"/>
<circle cx="152.5" cy="405.4" r="1.7"/>
<circle cx="75.6" cy="405.8" r="1.7"/>
<circle cx="141.1" cy="403.9" r="1.7"/>
<circle cx="92.9" cy="402.4" r="1.7"/>
<circle cx="119.3" cy="404.7" r="1.7"/>
<circle cx="167.5" cy="406.3" r="1.7"/>
<circle cx="125.8" cy="402.9" r="1.7"/>
<circle cx="79.7" cy="401.3" r="1.7"/>
<circle cx="115.3" cy="402.2" r="1.7"/>
<circle cx="137.4" cy="406.4" r="1.7"/>
<circle cx="79.7" cy="401.2" r="1.7"/>
<circle cx="98.4" cy="401.5" r="1.7"/>
<circle cx="76.0" cy="401.8" r="1.7"/>
<circle cx="125.9" cy="406.2" r="1.7"/>
<circle cx="110.7" cy="403.3" r="1.7"/>
<circle cx="122.4" cy="405.1" r="1.7"/>
<circle cx="102.6" cy="405.2" r="1.7"/>
<circle cx="137.1" cy="403.6" r="1.7"/>
<circle cx="90.8" cy="405.3" r="1.7"/>
<circle cx="161.0" cy="403.8" r="1.7"/>
<circle cx="166.1" cy="404.2" r="1.7"/>
<circle cx="121.4" cy="402.9" r="1.7"/>
<circle cx="118.8" cy="401.2" r="1.7"/>
<circle cx="156.5" cy="404.5" r="1.7"/>
<circle cx="102.0" cy="402.7" r="1.7"/>
<circle cx="151.1" cy="402.7" r="1.7"/>
<circle cx="101.7" cy="406.1" r="1.7"/>
<circle cx="143.1" cy="403.2" r="1.7"/>
<circle cx="106.2" cy="401.8" r="1.7"/>
<circle cx="131.9" cy="404.7" r="1.7"/>
<circle cx="162.8" cy="404.2" r="1.7"/>
<circle cx="79.5" cy="401.5" r="1.7"/>
<circle cx="151.4" cy="403.2" r="1.7"/>
<circle cx="126.1" cy="404.6" r="1.7"/>
<circle cx="110.5" cy="402.8" r="1.7"/>
<circle cx="107.8" cy="406.7" r="1.7"/>
<circle cx="80.9" cy="405.7" r="1.7"/>
<circle cx="99.0" cy="404.0" r="1.7"/>
<circle cx="133.8" cy="406.3" r="1.7"/>
<circle cx="83.6" cy="401.4" r="1.7"/>
<circle cx="138.3" cy="402.5" r="1.7"/>
<circle cx="166.3" cy="406.3" r="1.7"/>
<circle cx="168.0" cy="404.0" r="1.7"/>
<circle cx="159.3" cy="402.2" r="1.7"/>
<circle cx="151.4" cy="404.4" r="1.7"/>
<circle cx="91.3" cy="405.3" r="1.7"/>
<circle cx="167.0" cy="404.6" r="1.7"/>
<circle cx="93.7" cy="401.5" r="1.7"/>
<circle cx="157.4" cy="401.4" r="1.7"/>
<circle cx="158.2" cy="403.5" r="1.7"/>
<circle cx="133.7" cy="401.3" r="1.7"/>
<circle cx="124.1" cy="401.7" r="1.7"/>
<circle cx="93.4" cy="404.8" r="1.7"/>
<circle cx="123.9" cy="403.7" r="1.7"/>
<circle cx="102.1" cy="401.7" r="1.7"/>
<circle cx="86.3" cy="406.1" r="1.7"/>
<circle cx="86.5" cy="403.3" r="1.7"/>
<circle cx="150.9" cy="406.1" r="1.7"/>
<circle cx="162.5" cy="404.6" r="1.7"/>
<circle cx="87.8" cy="404.7" r="1.7"/>
<circle cx="75.5" cy="403.6" r="1.7"/>
<circle cx="99.5" cy="405.0" r="1.7"/>
<circle cx="87.1" cy="402.6" r="1.7"/>
<circle cx="92.3" cy="402.6" r="1.7"/>
<circle cx="130.0" cy="406.1" r="1.7"/>
<circle cx="114.6" cy="402.3" r="1.7"/>
<circle cx="115.3" cy="403.4" r="1.7"/>
<circle cx="93.9" cy="405.4" r="1.7"/>
<circle cx="137.8" cy="403.0" r="1.7"/>
<circle cx="102.0" cy="403.2" r="1.7"/>
<circle cx="112.4" cy="406.3" r="1.7"/>
<circle cx="118.6" cy="402.4" r="1.7"/>
<circle cx="160.7" cy="402.6" r="1.7"/>
<circle cx="97.8" cy="406.2" r="1.7"/>
<circle cx="143.0" cy="402.7" r="1.7"/>
<circle cx="103.9" cy="403.1" r="1.7"/>
<circle cx="159.8" cy="406.1" r="1.7"/>
<circle cx="111.9" cy="403.0" r="1.7"/>
<circle cx="122.6" cy="406.8" r="1.7"/>
<circle cx="158.1" cy="405.8" r="1.7"/>
<circle cx="138.6" cy="405.9" r="1.7"/>
<circle cx="83.3" cy="402.5" r="1.7"/>
<circle cx="87.4" cy="402.4" r="1.7"/>
<circle cx="169.0" cy="405.4" r="1.7"/>
<circle cx="77.1" cy="405.8" r="1.7"/>
<circle cx="103.0" cy="402.5" r="1.7"/>
<circle cx="165.9" cy="402.4" r="1.7"/>
<circle cx="75.7" cy="402.6" r="1.7"/>
<circle cx="89.7" cy="402.0" r="1.7"/>
<circle cx="94.7" cy="403.6" r="1.7"/>
<circle cx="82.5" cy="404.0" r="1.7"/>
<circle cx="119.4" cy="404.7" r="1.7"/>
<circle cx="130.9" cy="401.5" r="1.7"/>
<circle cx="104.7" cy="402.3" r="1.7"/>
<circle cx="84.7" cy="401.9" r="1.7"/>
<circle cx="151.8" cy="402.7" r="1.7"/>
<circle cx="151.2" cy="402.2" r="1.7"/>
<circle cx="128.0" cy="406.4" r="1.7"/>
<circle cx="87.4" cy="403.3" r="1.7"/>
<circle cx="126.1" cy="402.0" r="1.7"/>
<circle cx="134.5" cy="404.9" r="1.7"/>
<circle cx="115.2" cy="406.6" r="1.7"/>
<circle cx="156.9" cy="405.6" r="1.7"/>
<circle cx="111.6" cy="404.8" r="1.7"/>
<circle cx="123.1" cy="403.3" r="1.7"/>
<circle cx="85.2" cy="403.5" r="1.7"/>
<circle cx="128.2" cy="402.9" r="1.7"/>
<circle cx="147.5" cy="405.7" r="1.7"/>
<circle cx="144.2" cy="405.7" r="1.7"/>
<circle cx="98.8" cy="403.9" r="1.7"/>
<circle cx="169.1" cy="406.0" r="1.7"/>
<circle cx="143.1" cy="404.9" r="1.7"/>
<circle cx="114.8" cy="405.0" r="1.7"/>
<circle cx="113.9" cy="402.7" r="1.7"/>
<circle cx="148.8" cy="402.6" r="1.7"/>
<circle cx="91.1" cy="402.5" r="1.7"/>
<circle cx="135.4" cy="406.3" r="1.7"/>
<circle cx="143.0" cy="405.7" r="1.7"/>
<circle cx="123.6" cy="406.2" r="1.7"/>
<circle cx="157.8" cy="405.8" r="1.7"/>
<circle cx="119.1" cy="405.7" r="1.7"/>
<circle cx="118.7" cy="403.6" r="1.7"/>
<circle cx="101.5" cy="405.5" r="1.7"/>
<circle cx="162.2" cy="402.1" r="1.7"/>
<circle cx="104.5" cy="404.9" r="1.7"/>
<circle cx="140.7" cy="401.4" r="1.7"/>
<circle cx="113.4" cy="406.6" r="1.7"/>
<circle cx="163.7" cy="406.1" r="1.7"/>
<circle cx="164.9" cy="402.1" r="1.7"/>
<circle cx="77.1" cy="405.5" r="1.7"/>
<circle cx="169.4" cy="405.8" r="1.7"/>
<circle cx="132.1" cy="401.4" r="1.7"/>
<circle cx="81.3" cy="404.4" r="1.7"/>
<circle cx="121.8" cy="403.6" r="1.7"/>
<circle cx="79.0" cy="404.7" r="1.7"/>
<circle cx="126.7" cy="406.2" r="1.7"/>
<circle cx="92.0" cy="405.2" r="1.7"/>
<circle cx="109.5" cy="402.4" r="1.7"/>
<circle cx="103.4" cy="404.3" r="1.7"/>
<circle cx="131.8" cy="404.3" r="1.7"/>
<circle cx="152.9" cy="401.3" r="1.7"/>
<circle cx="163.8" cy="401.9" r="1.7"/>
<circle cx="105.7" cy="403.2" r="1.7"/>
<circle cx="128.7" cy="402.2" r="1.7"/>
<circle cx="74.8" cy="402.5" r="1.7"/>
<circle cx="109.9" cy="405.0" r="1.7"/>
<circle cx="166.1" cy="406.6" r="1.7"/>
<circle cx="85.6" cy="403.8" r="1.7"/>
<circle cx="157.4" cy="404.8" r="1.7"/>
<circle cx="136.7" cy="405.5" r="1.7"/>
<circle cx="102.4" cy="405.0" r="1.7"/>
<circle cx="148.7" cy="404.9" r="1.7"/>
<circle cx="101.9" cy="401.2" r="1.7"/>
<circle cx="159.8" cy="406.1" r="1.7"/>
<circle cx="82.2" cy="402.1" r="1.7"/>
<circle cx="85.7" cy="402.2" r="1.7"/>
<circle cx="146.0" cy="404.1" r="1.7"/>
<circle cx="117.2" cy="404.5" r="1.7"/>
<circle cx="88.4" cy="405.4" r="1.7"/>
<circle cx="123.4" cy="402.8" r="1.7"/>
<circle cx="102.7" cy="406.5" r="1.7"/>
<circle cx="126.8" cy="404.7" r="1.7"/>
<circle cx="145.4" cy="405.9" r="1.7"/>
<circle cx="156.2" cy="403.9" r="1.7"/>
<circle cx="79.9" cy="401.6" r="1.7"/>
<circle cx="130.9" cy="401.3" r="1.7"/>
<circle cx="168.3" cy="404.8" r="1.7"/>
<circle cx="118.2" cy="403.6" r="1.7"/>
<circle cx="147.8" cy="403.7" r="1.7"/>
<circle cx="83.6" cy="403.0" r="1.7"/>
<circle cx="157.8" cy="402.2" r="1.7"/>
<circle cx="129.9" cy="403.9" r="1.7"/>
<circle cx="159.2" cy="402.6" r="1.7"/>
<circle cx="149.5" cy="406.2" r="1.7"/>
<circle cx="157.4" cy="402.2" r="1.7"/>
<circle cx="79.8" cy="406.6" r="1.7"/>
<circle cx="142.7" cy="406.0" r="1.7"/>
<circle cx="93.1" cy="403.3" r="1.7"/>
<circle cx="99.7" cy="405.5" r="1.7"/>
<circle cx="105.3" cy="404.5" r="1.7"/>
<circle cx="130.8" cy="403.8" r="1.7"/>
<circle cx="134.3" cy="405.7" r="1.7"/>
<circle cx="163.3" cy="405.9" r="1.7"/>
<circle cx="75.5" cy="402.3" r="1.7"/>
<circle cx="92.8" cy="406.3" r="1.7"/>
<circle cx="108.9" cy="401.4" r="1.7"/>
<circle cx="152.5" cy="401.2" r="1.7"/>
<circle cx="126.8" cy="403.9" r="1.7"/>
<circle cx="123.2" cy="402.9" r="1.7"/>
<circle cx="146.9" cy="403.6" r="1.7"/>
<circle cx="136.9" cy="403.9" r="1.7"/>
<circle cx="102.0" cy="403.8" r="1.7"/>
<circle cx="82.6" cy="406.3" r="1.7"/>
<circle cx="118.5" cy="406.3" r="1.7"/>
<circle cx="158.4" cy="403.1" r="1.7"/>
<circle cx="131.5" cy="402.8" r="1.7"/>
<circle cx="79.4" cy="404.9" r="1.7"/>
<circle cx="116.3" cy="402.3" r="1.7"/>
<circle cx="111.0" cy="403.4" r="1.7"/>
<circle cx="130.0" cy="405.2" r="1.7"/>
<circle cx="130.4" cy="401.2" r="1.7"/>
<circle cx="165.2" cy="405.5" r="1.7"/>
<circle cx="106.6" cy="405.3" r="1.7"/>
<circle cx="113.3" cy="403.4" r="1.7"/>
<circle cx="132.9" cy="402.6" r="1.7"/>
<circle cx="159.0" cy="404.2" r="1.7"/>
<circle cx="141.8" cy="402.9" r="1.7"/>
<circle cx="119.3" cy="405.8" r="1.7"/>
<circle cx="152.1" cy="404.5" r="1.7"/>
<circle cx="120.7" cy="402.9" r="1.7"/>
<circle cx="166.4" cy="405.7" r="1.7"/>
<circle cx="101.3" cy="404.6" r="1.7"/>
<circle cx="86.5" cy="401.9" r="1.7"/>
<circle cx="153.7" cy="403.5" r="1.7"/>
<circle cx="102.7" cy="403.9" r="1.7"/>
<circle cx="155.3" cy="406.5" r="1.7"/>
<circle cx="132.5" cy="403.0" r="1.7"/>
<circle cx="122.9" cy="403.7" r="1.7"/>
<circle cx="82.6" cy="406.7" r="1.7"/>
<circle cx="149.4" cy="403.6" r="1.7"/>
<circle cx="80.6" cy="405.8" r="1.7"/>
<circle cx="166.5" cy="401.7" r="1.7"/>
<circle cx="158.1" cy="403.4" r="1.7"/>
<circle cx="103.2" cy="402.2" r="1.7"/>
<circle cx="86.5" cy="406.2" r="1.7"/>
<circle cx="158.9" cy="404.3" r="1.7"/>
<circle cx="120.1" cy="402.4" r="1.7"/>
<circle cx="86.2" cy="401.7" r="1.7"/>
<circle cx="121.9" cy="403.6" r="1.7"/>
<circle cx="97.9" cy="401.7" r="1.7"/>
<circle cx="113.3" cy="403.9" r="1.7"/>
<circle cx="135.5" cy="405.3" r="1.7"/>
<circle cx="161.8" cy="402.9" r="1.7"/>
<circle cx="150.8" cy="402.1" r="1.7"/>
<circle cx="89.7" cy="403.2" r="1.7"/>
<circle cx="119.9" cy="402.1" r="1.7"/>
<circle cx="121.3" cy="405.9" r="1.7"/>
<circle cx="168.9" cy="401.7" r="1.7"/>
<circle cx="82.6" cy="405.3" r="1.7"/>
<circle cx="123.1" cy="403.1" r="1.7"/>
<circle cx="161.7" cy="405.3" r="1.7"/>
<circle cx="112.4" cy="405.5" r="1.7"/>
<circle cx="99.3" cy="402.0" r="1.7"/>
<circle cx="127.4" cy="405.4" r="1.7"/>
<circle cx="104.9" cy="406.5" r="1.7"/>
<circle cx="162.9" cy="404.4" r="1.7"/>
<circle cx="82.4" cy="404.8" r="1.7"/>
<circle cx="94.0" cy="403.0" r="1.7"/>
<circle cx="82.3" cy="402.2" r="1.7"/>
<circle cx="142.3" cy="405.4" r="1.7"/>
<circle cx="102.3" cy="405.8" r="1.7"/>
<circle cx="160.3" cy="402.4" r="1.7"/>
<circle cx="159.7" cy="401.8" r="1.7"/>
<circle cx="163.8" cy="403.2" r="1.7"/>
<circle cx="98.8" cy="404.7" r="1.7"/>
<circle cx="74.3" cy="403.2" r="1.7"/>
<circle cx="111.3" cy="406.6" r="1.7"/>
<circle cx="166.3" cy="405.6" r="1.7"/>
<circle cx="147.3" cy="406.3" r="1.7"/>
<circle cx="80.0" cy="404.6" r="1.7"/>
<circle cx="141.4" cy="405.4" r="1.7"/>
<circle cx="161.9" cy="406.5" r="1.7"/>
<circle cx="166.8" cy="401.4" r="1.7"/>
<circle cx="142.7" cy="404.4" r="1.7"/>
<circle cx="156.8" cy="402.2" r="1.7"/>
<circle cx="154.7" cy="405.7" r="1.7"/>
<circle cx="108.5" cy="402.5" r="1.7"/>
<circle cx="83.7" cy="405.4" r="1.7"/>
<circle cx="143.8" cy="403.1" r="1.7"/>
<circle cx="87.4" cy="404.8" r="1.7"/>
<circle cx="111.0" cy="405.0" r="1.7"/>
<circle cx="169.5" cy="406.3" r="1.7"/>
<circle cx="127.8" cy="406.1" r="1.7"/>
<circle cx="124.2" cy="403.7" r="1.7"/>
<circle cx="164.9" cy="405.1" r="1.7"/>
<circle cx="101.4" cy="402.2" r="1.7"/>
<circle cx="169.8" cy="401.7" r="1.7"/>
<circle cx="161.5" cy="405.2" r="1.7"/>
<circle cx="109.1" cy="406.3" r="1.7"/>
<circle cx="105.6" cy="405.4" r="1.7"/>
<circle cx="86.4" cy="404.1" r="1.7"/>
<circle cx="161.8" cy="404.7" r="1.7"/>
<circle cx="92.0" cy="405.3" r="1.7"/>
<circle cx="75.1" cy="404.4" r="1.7"/>
<circle cx="159.4" cy="403.2" r="1.7"/>
<circle cx="131.5" cy="406.0" r="1.7"/>
<circle cx="138.5" cy="403.3" r="1.7"/>
<circle cx="144.4" cy="406.3" r="1.7"/>
<circle cx="78.4" cy="405.7" r="1.7"/>
<circle cx="83.1" cy="405.6" r="1.7"/>
<circle cx="122.1" cy="405.9" r="1.7"/>
<circle cx="79.1" cy="406.7" r="1.7"/>
<circle cx="122.5" cy="406.7" r="1.7"/>
<circle cx="144.7" cy="404.0" r="1.7"/>
<circle cx="137.1" cy="403.3" r="1.7"/>
<circle cx="133.2" cy="405.3" r="1.7"/>
<circle cx="78.7" cy="406.6" r="1.7"/>
<circle cx="96.9" cy="404.7" r="1.7"/>
<circle cx="160.1" cy="401.3" r="1.7"/>
<circle cx="86.1" cy="401.4" r="1.7"/>
<circle cx="125.3" cy="403.8" r="1.7"/>
<circle cx="79.1" cy="405.6" r="1.7"/>
<circle cx="164.1" cy="406.2" r="1.7"/>
<circle cx="90.7" cy="403.3" r="1.7"/>
<circle cx="113.5" cy="404.1" r="1.7"/>
<circle cx="126.5" cy="404.1" r="1.7"/>
<circle cx="143.0" cy="401.7" r="1.7"/>
<circle cx="163.9" cy="401.2" r="1.7"/>
<circle cx="144.7" cy="404.1" r="1.7"/>
<circle cx="107.5" cy="404.0" r="1.7"/>
<circle cx="81.5" cy="406.0" r="1.7"/>
<circle cx="141.9" cy="402.2" r="1.7"/>
<circle cx="167.2" cy="406.0" r="1.7"/>
<circle cx="75.9" cy="402.7" r="1.7"/>
<circle cx="148.3" cy="404.2" r="1.7"/>
<circle cx="91.1" cy="405.2" r="1.7"/>
<circle cx="118.2" cy="402.0" r="1.7"/>
<circle cx="124.2" cy="406.5" r="1.7"/>
<circle cx="133.0" cy="406.6" r="1.7"/>
<circle cx="168.9" cy="406.6" r="1.7"/>
<circle cx="140.0" cy="401.2" r="1.7"/>
<circle cx="111.8" cy="404.8" r="1.7"/>
<circle cx="142.6" cy="405.0" r="1.7"/>
<circle cx="118.9" cy="406.1" r="1.7"/>
<circle cx="113.8" cy="402.3" r="1.7"/>
<circle cx="109.2" cy="401.9" r="1.7"/>
<circle cx="121.4" cy="405.7" r="1.7"/>
<circle cx="101.2" cy="402.7" r="1.7"/>
<circle cx="97.4" cy="401.6" r="1.7"/>
<circle cx="88.5" cy="401.7" r="1.7"/>
<circle cx="116.4" cy="404.8" r="1.7"/>
<circle cx="102.3" cy="404.2" r="1.7"/>
<circle cx="154.3" cy="405.4" r="1.7"/>
<circle cx="155.3" cy="405.7" r="1.7"/>
<circle cx="107.1" cy="401.2" r="1.7"/>
<circle cx="133.5" cy="406.4" r="1.7"/>
<circle cx="160.5" cy="406.1" r="1.7"/>
<circle cx="108.6" cy="406.4" r="1.7"/>
<circle cx="127.3" cy="405.5" r="1.7"/>
<circle cx="116.7" cy="403.3" r="1.7"/>
<circle cx="136.4" cy="402.6" r="1.7"/>
<circle cx="166.0" cy="406.3" r="1.7"/>
<circle cx="87.5" cy="403.6" r="1.7"/>
<circle cx="166.6" cy="403.9" r="1.7"/>
<circle cx="137.9" cy="405.1" r="1.7"/>
<circle cx="150.4" cy="405.1" r="1.7"/>
<circle cx="135.0" cy="405.1" r="1.7"/>
<circle cx="157.5" cy="404.7" r="1.7"/>
<circle cx="105.5" cy="404.0" r="1.7"/>
<circle cx="142.0" cy="405.5" r="1.7"/>
<circle cx="99.5" cy="403.4" r="1.7"/>
<circle cx="122.9" cy="402.7" r="1.7"/>
<circle cx="139.4" cy="406.3" r="1.7"/>
<circle cx="93.5" cy="405.9" r="1.7"/>
<circle cx="80.1" cy="405.2" r="1.7"/>
<circle cx="149.9" cy="402.1" r="1.7"/>
<circle cx="151.6" cy="401.5" r="1.7"/>
<circle cx="137.9" cy="406.4" r="1.7"/>
<circle cx="105.0" cy="406.5" r="1.7"/>
<circle cx="137.2" cy="402.7" r="1.7"/>
<circle cx="82.3" cy="404.7" r="1.7"/>
<circle cx="137.6" cy="401.3" r="1.7"/>
<circle cx="129.4" cy="403.4" r="1.7"/>
<circle cx="133.3" cy="405.1" r="1.7"/>
<circle cx="117.0" cy="403.2" r="1.7"/>
<circle cx="95.8" cy="405.7" r="1.7"/>
<circle cx="143.7" cy="406.3" r="1.7"/>
<circle cx="118.6" cy="402.0" r="1.7"/>
<circle cx="145.5" cy="405.1" r="1.7"/>
<circle cx="109.1" cy="403.3" r="1.7"/>
<circle cx="82.7" cy="402.2" r="1.7"/>
<circle cx="126.1" cy="403.2" r="1.7"/>
<circle cx="133.8" cy="403.9" r="1.7"/>
<circle cx="162.4" cy="406.2" r="1.7"/>
<circle cx="159.1" cy="405.5" r="1.7"/>
<circle cx="79.7" cy="401.2" r="1.7"/>
<circle cx="148.1" cy="401.5" r="1.7"/>
<circle cx="99.3" cy="406.8" r="1.7"/>
<circle cx="140.9" cy="404.3" r="1.7"/>
<circle cx="110.6" cy="404.6" r="1.7"/>
<circle cx="105.1" cy="403.2" r="1.7"/>
<circle cx="121.0" cy="405.9" r="1.7"/>
<circle cx="125.0" cy="404.3" r="1.7"/>
<circle cx="140.7" cy="404.5" r="1.7"/>
<circle cx="135.3" cy="402.6" r="1.7"/>
<circle cx="139.1" cy="405.5" r="1.7"/>
<circle cx="111.0" cy="402.4" r="1.7"/>
<circle cx="139.0" cy="402.0" r="1.7"/>
<circle cx="107.3" cy="404.5" r="1.7"/>
<circle cx="132.4" cy="405.9" r="1.7"/>
<circle cx="118.2" cy="402.8" r="1.7"/>
<circle cx="128.1" cy="402.9" r="1.7"/>
<circle cx="76.0" cy="402.0" r="1.7"/>
<circle cx="122.0" cy="404.6" r="1.7"/>
<circle cx="95.3" cy="405.5" r="1.7"/>
<circle cx="111.2" cy="401.9" r="1.7"/>
<circle cx="81.3" cy="404.2" r="1.7"/>
<circle cx="137.1" cy="404.2" r="1.7"/>
<circle cx="159.7" cy="401.8" r="1.7"/>
<circle cx="108.2" cy="404.2" r="1.7"/>
<circle cx="84.3" cy="402.7" r="1.7"/>
<circle cx="133.6" cy="402.3" r="1.7"/>
<circle cx="86.4" cy="406.7" r="1.7"/>
<circle cx="159.5" cy="401.7" r="1.7"/>
<circle cx="86.0" cy="403.1" r="1.7"/>
<circle cx="108.9" cy="404.7" r="1.7"/>
<circle cx="121.6" cy="403.5" r="1.7"/>
<circle cx="85.5" cy="401.3" r="1.7"/>
<circle cx="104.7" cy="406.1" r="1.7"/>
<circle cx="100.6" cy="402.5" r="1.7"/>
<circle cx="142.5" cy="403.5" r="1.7"/>
<circle cx="168.6" cy="406.3" r="1.7"/>
<circle cx="109.0" cy="406.6" r="1.7"/>
<circle cx="149.9" cy="406.3" r="1.7"/>
<circle cx="87.7" cy="403.5" r="1.7"/>
<circle cx="129.7" cy="405.4" r="1.7"/>
<circle cx="115.6" cy="406.0" r="1.7"/>
<circle cx="101.8" cy="402.3" r="1.7"/>
<circle cx="152.8" cy="406.6" r="1.7"/>
<circle cx="145.6" cy="401.8" r="1.7"/>
<circle cx="87.1" cy="404.9" r="1.7"/>
<circle cx="102.2" cy="402.5" r="1.7"/>
<circle cx="152.6" cy="402.4" r="1.7"/>
<circle cx="169.2" cy="402.0" r="1.7"/>
<circle cx="132.7" cy="406.5" r="1.7"/>
<circle cx="157.6" cy="401.9" r="1.7"/>
<circle cx="168.4" cy="406.3" r="1.7"/>
<circle cx="145.1" cy="402.1" r="1.7"/>
<circle cx="135.9" cy="403.0" r="1.7"/>
<circle cx="95.4" cy="402.4" r="1.7"/>
<circle cx="109.7" cy="406.7" r="1.7"/>
<circle cx="133.9" cy="401.7" r="1.7"/>
<circle cx="162.8" cy="406.0" r="1.7"/>
<circle cx="103.1" cy="402.9" r="1.7"/>
<circle cx="175.5" cy="406.5" r="1.7"/>
<circle cx="170.2" cy="405.4" r="1.7"/>
<circle cx="179.9" cy="402.7" r="1.7"/>
<circle cx="176.2" cy="404.1" r="1.7"/>
<circle cx="181.3" cy="402.1" r="1.7"/>
<circle cx="173.2" cy="403.5" r="1.7"/>
<circle cx="179.3" cy="401.3" r="1.7"/>
<circle cx="179.5" cy="405.0" r="1.7"/>
<circle cx="176.5" cy="404.5" r="1.7"/>
<circle cx="172.6" cy="402.7" r="1.7"/>
<circle cx="175.7" cy="401.3" r="1.7"/>
<circle cx="180.6" cy="406.5" r="1.7"/>
<circle cx="172.6" cy="401.9" r="1.7"/>
<circle cx="171.2" cy="403.0" r="1.7"/>
<circle cx="176.5" cy="401.3" r="1.7"/>
<circle cx="173.2" cy="403.3" r="1.7"/>
<circle cx="181.4" cy="403.4" r="1.7"/>
<circle cx="181.6" cy="404.2" r="1.7"/>
<circle cx="183.4" cy="403.0" r="1.7"/>
<circle cx="181.9" cy="402.6" r="1.7"/>
<circle cx="179.2" cy="405.6" r="1.7"/>
<circle cx="172.6" cy="402.8" r="1.7"/>
<circle cx="181.7" cy="403.1" r="1.7"/>
<circle cx="180.3" cy="404.0" r="1.7"/>
<circle cx="180.6" cy="402.7" r="1.7"/>
<circle cx="179.9" cy="405.3" r="1.7"/>
<circle cx="181.8" cy="401.7" r="1.7"/>
<circle cx="174.1" cy="403.0" r="1.7"/>
<circle cx="179.5" cy="403.6" r="1.7"/>
<circle cx="177.3" cy="402.6" r="1.7"/>
</g>
<path d="M44.40 430.50H223.65" stroke="#4a4a4a" stroke-width="1" fill="none"/>
<path d="M44.40 430.50V435.10" stroke="#4a4a4a" stroke-width="1" fill="none"/>
<text x="44.40" y="445.70" font-size="7.0" text-anchor="middle" stroke="#222" stroke-width="0.22" fill="#222">−5</text>
<path d="M104.15 430.50V435.10" stroke="#4a4a4a" stroke-width="1" fill="none"/>
<text x="104.15" y="445.70" font-size="7.0" text-anchor="middle" stroke="#222" stroke-width="0.22" fill="#222">0</text>
<path d="M163.90 430.50V435.10" stroke="#4a4a4a" stroke-width="1" fill="none"/>
<text x="163.90" y="445.70" font-size="7.0" text-anchor="middle" stroke="#222" stroke-width="0.22" fill="#222">5</text>
<path d="M223.65 430.50V435.10" stroke="#4a4a4a" stroke-width="1" fill="none"/>
<text x="223.65" y="445.70" font-size="7.0" text-anchor="middle" stroke="#222" stroke-width="0.22" fill="#222">10</text>
<text x="145.90" y="461.20" font-size="6.8" text-anchor="middle" stroke="#222" stroke-width="0.22" fill="#222">Feature</text>
<circle cx="191.10" cy="388.29" r="1.45" fill="#F5A62A" stroke="#000" stroke-width="0.6"/>
<text x="197.10" y="390.79" font-size="6.85" text-anchor="start" stroke="#222" stroke-width="0.22" fill="#222">True Class 1</text>
<circle cx="191.10" cy="396.09" r="1.45" fill="#4682B4" stroke="#000" stroke-width="0.6"/>
<text x="197.10" y="398.59" font-size="6.85" text-anchor="start" stroke="#222" stroke-width="0.22" fill="#222">True Class 2</text>
<path d="M191.50 400.79v6" stroke="#006400" stroke-opacity="0.45" stroke-width="1.2"/>
<text x="197.10" y="406.29" font-size="6.85" text-anchor="start" stroke="#222" stroke-width="0.22" fill="#222">Pred Class 1 (tick)</text>
<path d="M191.50 408.59v6" stroke="#A020F0" stroke-opacity="0.45" stroke-width="1.2"/>
<text x="197.10" y="414.09" font-size="6.85" text-anchor="start" stroke="#222" stroke-width="0.22" fill="#222">Pred Class 2 (tick)</text>
<text x="329.00" y="20.70" font-size="10.4" text-anchor="start" font-weight="bold" fill="#000">E</text>
<text x="438.50" y="13.00" font-size="8.15" text-anchor="middle" font-weight="bold" fill="#000">Training samples:</text>
<text x="438.50" y="22.50" font-size="8.15" text-anchor="middle" font-weight="bold" fill="#000">true class (points) &amp; predicted class (ticks)</text>
<g stroke="#006400" stroke-opacity="0.42" stroke-width="1.8">
<path d="M368.5 69.4v6.2"/>
<path d="M371.0 69.4v6.2"/>
<path d="M373.2 69.4v6.2"/>
<path d="M373.3 69.4v6.2"/>
<path d="M373.6 69.4v6.2"/>
<path d="M374.8 69.4v6.2"/>
<path d="M375.2 69.4v6.2"/>
<path d="M376.0 69.4v6.2"/>
<path d="M377.6 69.4v6.2"/>
<path d="M379.3 69.4v6.2"/>
<path d="M379.7 69.4v6.2"/>
<path d="M380.5 69.4v6.2"/>
<path d="M380.5 69.4v6.2"/>
<path d="M380.7 69.4v6.2"/>
<path d="M381.0 69.4v6.2"/>
<path d="M382.2 69.4v6.2"/>
<path d="M382.6 69.4v6.2"/>
<path d="M383.0 69.4v6.2"/>
<path d="M383.7 69.4v6.2"/>
<path d="M384.2 69.4v6.2"/>
<path d="M385.3 69.4v6.2"/>
<path d="M385.3 69.4v6.2"/>
<path d="M385.6 69.4v6.2"/>
<path d="M385.7 69.4v6.2"/>
<path d="M386.3 69.4v6.2"/>
<path d="M386.9 69.4v6.2"/>
<path d="M387.0 69.4v6.2"/>
<path d="M387.9 69.4v6.2"/>
<path d="M388.1 69.4v6.2"/>
<path d="M388.8 69.4v6.2"/>
<path d="M389.1 69.4v6.2"/>
<path d="M389.4 69.4v6.2"/>
<path d="M389.7 69.4v6.2"/>
<path d="M391.0 69.4v6.2"/>
<path d="M391.1 69.4v6.2"/>
<path d="M391.4 69.4v6.2"/>
<path d="M391.5 69.4v6.2"/>
<path d="M391.9 69.4v6.2"/>
<path d="M392.3 69.4v6.2"/>
<path d="M392.5 69.4v6.2"/>
<path d="M392.6 69.4v6.2"/>
<path d="M392.8 69.4v6.2"/>
<path d="M393.3 69.4v6.2"/>
<path d="M393.5 69.4v6.2"/>
<path d="M393.6 69.4v6.2"/>
<path d="M393.8 69.4v6.2"/>
<path d="M393.8 69.4v6.2"/>
<path d="M394.3 69.4v6.2"/>
<path d="M394.7 69.4v6.2"/>
<path d="M394.7 69.4v6.2"/>
<path d="M394.9 69.4v6.2"/>
<path d="M395.1 69.4v6.2"/>
<path d="M395.3 69.4v6.2"/>
<path d="M395.5 69.4v6.2"/>
<path d="M396.1 69.4v6.2"/>
<path d="M396.2 69.4v6.2"/>
<path d="M396.3 69.4v6.2"/>
<path d="M396.3 69.4v6.2"/>
<path d="M396.3 69.4v6.2"/>
<path d="M397.7 69.4v6.2"/>
<path d="M397.7 69.4v6.2"/>
<path d="M398.1 69.4v6.2"/>
<path d="M398.2 69.4v6.2"/>
<path d="M398.3 69.4v6.2"/>
<path d="M398.5 69.4v6.2"/>
<path d="M398.6 69.4v6.2"/>
<path d="M399.2 69.4v6.2"/>
<path d="M399.3 69.4v6.2"/>
<path d="M399.9 69.4v6.2"/>
<path d="M400.5 69.4v6.2"/>
<path d="M401.2 69.4v6.2"/>
<path d="M401.8 69.4v6.2"/>
<path d="M401.8 69.4v6.2"/>
<path d="M401.9 69.4v6.2"/>
<path d="M402.1 69.4v6.2"/>
<path d="M402.3 69.4v6.2"/>
<path d="M402.7 69.4v6.2"/>
<path d="M403.1 69.4v6.2"/>
<path d="M403.4 69.4v6.2"/>
<path d="M403.9 69.4v6.2"/>
<path d="M403.9 69.4v6.2"/>
<path d="M404.0 69.4v6.2"/>
<path d="M404.3 69.4v6.2"/>
<path d="M404.7 69.4v6.2"/>
<path d="M404.8 69.4v6.2"/>
<path d="M405.2 69.4v6.2"/>
<path d="M405.9 69.4v6.2"/>
<path d="M406.1 69.4v6.2"/>
<path d="M406.6 69.4v6.2"/>
<path d="M406.9 69.4v6.2"/>
<path d="M407.4 69.4v6.2"/>
<path d="M409.1 69.4v6.2"/>
<path d="M344.8 69.4v6.2"/>
<path d="M360.9 69.4v6.2"/>
<path d="M362.9 69.4v6.2"/>
<path d="M367.7 69.4v6.2"/>
<path d="M369.8 69.4v6.2"/>
<path d="M371.9 69.4v6.2"/>
<path d="M374.1 69.4v6.2"/>
<path d="M374.8 69.4v6.2"/>
<path d="M375.2 69.4v6.2"/>
<path d="M375.3 69.4v6.2"/>
<path d="M375.7 69.4v6.2"/>
<path d="M376.0 69.4v6.2"/>
<path d="M376.7 69.4v6.2"/>
<path d="M376.8 69.4v6.2"/>
<path d="M377.3 69.4v6.2"/>
<path d="M377.6 69.4v6.2"/>
<path d="M377.6 69.4v6.2"/>
<path d="M378.5 69.4v6.2"/>
<path d="M378.7 69.4v6.2"/>
<path d="M379.0 69.4v6.2"/>
<path d="M379.7 69.4v6.2"/>
<path d="M380.0 69.4v6.2"/>
<path d="M380.0 69.4v6.2"/>
<path d="M381.2 69.4v6.2"/>
<path d="M381.2 69.4v6.2"/>
<path d="M381.6 69.4v6.2"/>
<path d="M382.4 69.4v6.2"/>
<path d="M382.5 69.4v6.2"/>
<path d="M382.5 69.4v6.2"/>
<path d="M383.5 69.4v6.2"/>
<path d="M383.8 69.4v6.2"/>
<path d="M383.9 69.4v6.2"/>
<path d="M383.9 69.4v6.2"/>
<path d="M384.1 69.4v6.2"/>
<path d="M384.1 69.4v6.2"/>
<path d="M384.3 69.4v6.2"/>
<path d="M385.5 69.4v6.2"/>
<path d="M386.3 69.4v6.2"/>
<path d="M386.6 69.4v6.2"/>
<path d="M387.7 69.4v6.2"/>
<path d="M388.0 69.4v6.2"/>
<path d="M388.1 69.4v6.2"/>
<path d="M388.3 69.4v6.2"/>
<path d="M388.3 69.4v6.2"/>
<path d="M388.6 69.4v6.2"/>
<path d="M388.6 69.4v6.2"/>
<path d="M389.1 69.4v6.2"/>
<path d="M389.2 69.4v6.2"/>
<path d="M389.5 69.4v6.2"/>
<path d="M389.5 69.4v6.2"/>
<path d="M390.3 69.4v6.2"/>
<path d="M390.4 69.4v6.2"/>
<path d="M390.5 69.4v6.2"/>
<path d="M391.4 69.4v6.2"/>
<path d="M393.0 69.4v6.2"/>
<path d="M393.1 69.4v6.2"/>
<path d="M393.3 69.4v6.2"/>
<path d="M393.3 69.4v6.2"/>
<path d="M393.4 69.4v6.2"/>
<path d="M393.4 69.4v6.2"/>
<path d="M394.5 69.4v6.2"/>
<path d="M394.7 69.4v6.2"/>
<path d="M394.9 69.4v6.2"/>
<path d="M394.9 69.4v6.2"/>
<path d="M397.0 69.4v6.2"/>
<path d="M397.1 69.4v6.2"/>
<path d="M397.1 69.4v6.2"/>
<path d="M397.6 69.4v6.2"/>
<path d="M397.6 69.4v6.2"/>
<path d="M398.0 69.4v6.2"/>
<path d="M398.0 69.4v6.2"/>
<path d="M398.2 69.4v6.2"/>
<path d="M398.5 69.4v6.2"/>
<path d="M398.8 69.4v6.2"/>
<path d="M399.3 69.4v6.2"/>
<path d="M399.5 69.4v6.2"/>
<path d="M399.6 69.4v6.2"/>
<path d="M399.7 69.4v6.2"/>
<path d="M400.2 69.4v6.2"/>
<path d="M400.2 69.4v6.2"/>
<path d="M400.3 69.4v6.2"/>
<path d="M400.7 69.4v6.2"/>
<path d="M401.0 69.4v6.2"/>
<path d="M401.0 69.4v6.2"/>
<path d="M401.5 69.4v6.2"/>
<path d="M402.1 69.4v6.2"/>
<path d="M402.3 69.4v6.2"/>
<path d="M402.7 69.4v6.2"/>
<path d="M402.7 69.4v6.2"/>
<path d="M403.0 69.4v6.2"/>
<path d="M403.1 69.4v6.2"/>
<path d="M403.3 69.4v6.2"/>
<path d="M403.4 69.4v6.2"/>
<path d="M404.4 69.4v6.2"/>
<path d="M404.8 69.4v6.2"/>
<path d="M404.9 69.4v6.2"/>
<path d="M405.1 69.4v6.2"/>
<path d="M405.3 69.4v6.2"/>
<path d="M405.9 69.4v6.2"/>
<path d="M405.9 69.4v6.2"/>
<path d="M406.4 69.4v6.2"/>
<path d="M406.4 69.4v6.2"/>
<path d="M407.0 69.4v6.2"/>
<path d="M407.3 69.4v6.2"/>
<path d="M407.7 69.4v6.2"/>
<path d="M408.2 69.4v6.2"/>
<path d="M408.4 69.4v6.2"/>
<path d="M408.9 69.4v6.2"/>
</g>
<g stroke="#A020F0" stroke-opacity="0.42" stroke-width="1.8">
<path d="M409.8 72.3v6.2"/>
<path d="M411.5 72.3v6.2"/>
<path d="M412.4 72.3v6.2"/>
<path d="M412.6 72.3v6.2"/>
<path d="M413.5 72.3v6.2"/>
<path d="M413.8 72.3v6.2"/>
<path d="M414.2 72.3v6.2"/>
<path d="M415.1 72.3v6.2"/>
<path d="M415.1 72.3v6.2"/>
<path d="M416.3 72.3v6.2"/>
<path d="M416.4 72.3v6.2"/>
<path d="M416.7 72.3v6.2"/>
<path d="M417.5 72.3v6.2"/>
<path d="M418.5 72.3v6.2"/>
<path d="M421.6 72.3v6.2"/>
<path d="M422.1 72.3v6.2"/>
<path d="M422.4 72.3v6.2"/>
<path d="M423.8 72.3v6.2"/>
<path d="M426.8 72.3v6.2"/>
<path d="M430.4 72.3v6.2"/>
<path d="M409.4 72.3v6.2"/>
<path d="M409.4 72.3v6.2"/>
<path d="M409.4 72.3v6.2"/>
<path d="M409.6 72.3v6.2"/>
<path d="M410.1 72.3v6.2"/>
<path d="M410.3 72.3v6.2"/>
<path d="M410.4 72.3v6.2"/>
<path d="M410.6 72.3v6.2"/>
<path d="M410.7 72.3v6.2"/>
<path d="M410.8 72.3v6.2"/>
<path d="M411.1 72.3v6.2"/>
<path d="M411.1 72.3v6.2"/>
<path d="M411.1 72.3v6.2"/>
<path d="M411.2 72.3v6.2"/>
<path d="M411.2 72.3v6.2"/>
<path d="M413.0 72.3v6.2"/>
<path d="M413.2 72.3v6.2"/>
<path d="M413.4 72.3v6.2"/>
<path d="M413.7 72.3v6.2"/>
<path d="M413.8 72.3v6.2"/>
<path d="M414.0 72.3v6.2"/>
<path d="M414.2 72.3v6.2"/>
<path d="M414.3 72.3v6.2"/>
<path d="M414.3 72.3v6.2"/>
<path d="M414.3 72.3v6.2"/>
<path d="M414.4 72.3v6.2"/>
<path d="M414.6 72.3v6.2"/>
<path d="M414.9 72.3v6.2"/>
<path d="M415.1 72.3v6.2"/>
<path d="M415.3 72.3v6.2"/>
<path d="M415.6 72.3v6.2"/>
<path d="M415.8 72.3v6.2"/>
<path d="M415.9 72.3v6.2"/>
<path d="M416.0 72.3v6.2"/>
<path d="M416.0 72.3v6.2"/>
<path d="M417.2 72.3v6.2"/>
<path d="M417.5 72.3v6.2"/>
<path d="M417.6 72.3v6.2"/>
<path d="M417.6 72.3v6.2"/>
<path d="M417.8 72.3v6.2"/>
<path d="M418.0 72.3v6.2"/>
<path d="M418.3 72.3v6.2"/>
<path d="M418.5 72.3v6.2"/>
<path d="M418.5 72.3v6.2"/>
<path d="M418.6 72.3v6.2"/>
<path d="M418.8 72.3v6.2"/>
<path d="M418.9 72.3v6.2"/>
<path d="M419.0 72.3v6.2"/>
<path d="M419.1 72.3v6.2"/>
<path d="M419.2 72.3v6.2"/>
<path d="M419.9 72.3v6.2"/>
<path d="M420.2 72.3v6.2"/>
<path d="M420.9 72.3v6.2"/>
<path d="M421.3 72.3v6.2"/>
<path d="M421.4 72.3v6.2"/>
<path d="M421.4 72.3v6.2"/>
<path d="M422.1 72.3v6.2"/>
<path d="M422.1 72.3v6.2"/>
<path d="M422.2 72.3v6.2"/>
<path d="M422.7 72.3v6.2"/>
<path d="M422.8 72.3v6.2"/>
<path d="M422.8 72.3v6.2"/>
<path d="M422.9 72.3v6.2"/>
<path d="M422.9 72.3v6.2"/>
<path d="M422.9 72.3v6.2"/>
<path d="M423.1 72.3v6.2"/>
<path d="M423.2 72.3v6.2"/>
<path d="M423.4 72.3v6.2"/>
<path d="M423.5 72.3v6.2"/>
<path d="M423.6 72.3v6.2"/>
<path d="M424.1 72.3v6.2"/>
<path d="M424.6 72.3v6.2"/>
<path d="M424.7 72.3v6.2"/>
<path d="M425.1 72.3v6.2"/>
<path d="M425.2 72.3v6.2"/>
<path d="M425.2 72.3v6.2"/>
<path d="M425.4 72.3v6.2"/>
<path d="M425.5 72.3v6.2"/>
<path d="M426.4 72.3v6.2"/>
<path d="M426.6 72.3v6.2"/>
<path d="M426.7 72.3v6.2"/>
<path d="M427.2 72.3v6.2"/>
<path d="M427.8 72.3v6.2"/>
<path d="M428.0 72.3v6.2"/>
<path d="M428.5 72.3v6.2"/>
<path d="M429.2 72.3v6.2"/>
<path d="M429.3 72.3v6.2"/>
<path d="M429.8 72.3v6.2"/>
<path d="M430.1 72.3v6.2"/>
<path d="M430.2 72.3v6.2"/>
<path d="M430.5 72.3v6.2"/>
<path d="M430.6 72.3v6.2"/>
<path d="M430.8 72.3v6.2"/>
<path d="M431.1 72.3v6.2"/>
<path d="M431.8 72.3v6.2"/>
<path d="M432.2 72.3v6.2"/>
<path d="M432.6 72.3v6.2"/>
<path d="M432.6 72.3v6.2"/>
<path d="M432.9 72.3v6.2"/>
<path d="M433.4 72.3v6.2"/>
<path d="M433.4 72.3v6.2"/>
<path d="M433.5 72.3v6.2"/>
<path d="M433.7 72.3v6.2"/>
<path d="M434.2 72.3v6.2"/>
<path d="M434.4 72.3v6.2"/>
<path d="M435.7 72.3v6.2"/>
<path d="M436.0 72.3v6.2"/>
<path d="M436.1 72.3v6.2"/>
<path d="M436.2 72.3v6.2"/>
<path d="M436.4 72.3v6.2"/>
<path d="M436.4 72.3v6.2"/>
<path d="M436.5 72.3v6.2"/>
<path d="M436.7 72.3v6.2"/>
<path d="M437.1 72.3v6.2"/>
<path d="M437.2 72.3v6.2"/>
<path d="M437.3 72.3v6.2"/>
<path d="M437.5 72.3v6.2"/>
<path d="M437.5 72.3v6.2"/>
<path d="M437.8 72.3v6.2"/>
<path d="M438.0 72.3v6.2"/>
<path d="M438.0 72.3v6.2"/>
<path d="M438.1 72.3v6.2"/>
<path d="M438.3 72.3v6.2"/>
<path d="M438.7 72.3v6.2"/>
<path d="M438.8 72.3v6.2"/>
<path d="M439.2 72.3v6.2"/>
<path d="M439.4 72.3v6.2"/>
<path d="M440.5 72.3v6.2"/>
<path d="M441.2 72.3v6.2"/>
<path d="M441.5 72.3v6.2"/>
<path d="M442.3 72.3v6.2"/>
<path d="M442.4 72.3v6.2"/>
<path d="M442.7 72.3v6.2"/>
<path d="M442.8 72.3v6.2"/>
<path d="M443.3 72.3v6.2"/>
<path d="M443.5 72.3v6.2"/>
<path d="M443.8 72.3v6.2"/>
<path d="M443.8 72.3v6.2"/>
<path d="M444.6 72.3v6.2"/>
<path d="M444.6 72.3v6.2"/>
<path d="M444.8 72.3v6.2"/>
<path d="M445.1 72.3v6.2"/>
<path d="M445.3 72.3v6.2"/>
<path d="M445.3 72.3v6.2"/>
<path d="M445.6 72.3v6.2"/>
<path d="M445.9 72.3v6.2"/>
<path d="M446.7 72.3v6.2"/>
<path d="M447.1 72.3v6.2"/>
<path d="M447.2 72.3v6.2"/>
<path d="M447.6 72.3v6.2"/>
<path d="M447.9 72.3v6.2"/>
<path d="M448.1 72.3v6.2"/>
<path d="M448.2 72.3v6.2"/>
<path d="M448.8 72.3v6.2"/>
<path d="M448.9 72.3v6.2"/>
<path d="M449.7 72.3v6.2"/>
<path d="M450.4 72.3v6.2"/>
<path d="M451.7 72.3v6.2"/>
<path d="M453.3 72.3v6.2"/>
<path d="M453.8 72.3v6.2"/>
<path d="M454.7 72.3v6.2"/>
<path d="M455.1 72.3v6.2"/>
<path d="M456.5 72.3v6.2"/>
<path d="M456.9 72.3v6.2"/>
<path d="M457.0 72.3v6.2"/>
<path d="M458.5 72.3v6.2"/>
<path d="M461.4 72.3v6.2"/>
<path d="M462.0 72.3v6.2"/>
<path d="M462.2 72.3v6.2"/>
<path d="M464.0 72.3v6.2"/>
<path d="M470.0 72.3v6.2"/>
<path d="M470.5 72.3v6.2"/>
<path d="M471.1 72.3v6.2"/>
<path d="M471.2 72.3v6.2"/>
<path d="M475.2 72.3v6.2"/>
<path d="M478.8 72.3v6.2"/>
<path d="M480.0 72.3v6.2"/>
</g>
<use href="#p1" x="292.2"/><use href="#p2" x="292.2"/>
<path d="M336.60 86.30H515.85" stroke="#4a4a4a" stroke-width="1" fill="none"/>
<path d="M336.60 86.30V90.90" stroke="#4a4a4a" stroke-width="1" fill="none"/>
<text x="336.60" y="101.50" font-size="7.0" text-anchor="middle" stroke="#222" stroke-width="0.22" fill="#222">−5</text>
<path d="M396.35 86.30V90.90" stroke="#4a4a4a" stroke-width="1" fill="none"/>
<text x="396.35" y="101.50" font-size="7.0" text-anchor="middle" stroke="#222" stroke-width="0.22" fill="#222">0</text>
<path d="M456.10 86.30V90.90" stroke="#4a4a4a" stroke-width="1" fill="none"/>
<text x="456.10" y="101.50" font-size="7.0" text-anchor="middle" stroke="#222" stroke-width="0.22" fill="#222">5</text>
<path d="M515.85 86.30V90.90" stroke="#4a4a4a" stroke-width="1" fill="none"/>
<text x="515.85" y="101.50" font-size="7.0" text-anchor="middle" stroke="#222" stroke-width="0.22" fill="#222">10</text>
<text x="438.10" y="117.00" font-size="6.8" text-anchor="middle" stroke="#222" stroke-width="0.22" fill="#222">Feature</text>
<circle cx="483.80" cy="44.10" r="1.45" fill="#F5A62A" stroke="#000" stroke-width="0.6"/>
<text x="489.30" y="46.60" font-size="6.85" text-anchor="start" stroke="#222" stroke-width="0.22" fill="#222">True Class 1</text>
<circle cx="483.80" cy="51.90" r="1.45" fill="#4682B4" stroke="#000" stroke-width="0.6"/>
<text x="489.30" y="54.40" font-size="6.85" text-anchor="start" stroke="#222" stroke-width="0.22" fill="#222">True Class 2</text>
<path d="M484.20 56.60v6" stroke="#006400" stroke-opacity="0.45" stroke-width="1.2"/>
<text x="489.30" y="62.10" font-size="6.85" text-anchor="start" stroke="#222" stroke-width="0.22" fill="#222">Pred Class 1 (tick)</text>
<path d="M484.20 64.40v6" stroke="#A020F0" stroke-opacity="0.45" stroke-width="1.2"/>
<text x="489.30" y="69.90" font-size="6.85" text-anchor="start" stroke="#222" stroke-width="0.22" fill="#222">Pred Class 2 (tick)</text>
<text x="329.00" y="135.35" font-size="10.4" text-anchor="start" font-weight="bold" fill="#000">F</text>
<text x="438.50" y="132.70" font-size="8.15" text-anchor="middle" font-weight="bold" fill="#000">Plausible Bayesian Approach</text>
<path d="M328.20 198.40V142.40" stroke="#4a4a4a" stroke-width="1" fill="none"/>
<path d="M328.20 198.40H323.90" stroke="#4a4a4a" stroke-width="1" fill="none"/>
<path d="M328.20 187.20H323.90" stroke="#4a4a4a" stroke-width="1" fill="none"/>
<path d="M328.20 176.00H323.90" stroke="#4a4a4a" stroke-width="1" fill="none"/>
<path d="M328.20 164.80H323.90" stroke="#4a4a4a" stroke-width="1" fill="none"/>
<path d="M328.20 153.60H323.90" stroke="#4a4a4a" stroke-width="1" fill="none"/>
<path d="M328.20 142.40H323.90" stroke="#4a4a4a" stroke-width="1" fill="none"/>
<text x="318.60" y="198.40" font-size="6.9" text-anchor="middle" stroke="#222" stroke-width="0.22" transform="rotate(-90 318.60 198.40)" fill="#222">0.0</text>
<text x="318.60" y="176.00" font-size="6.9" text-anchor="middle" stroke="#222" stroke-width="0.22" transform="rotate(-90 318.60 176.00)" fill="#222">0.2</text>
<text x="318.60" y="153.60" font-size="6.9" text-anchor="middle" stroke="#222" stroke-width="0.22" transform="rotate(-90 318.60 153.60)" fill="#222">0.4</text>
<polyline points="344.37,198.06 367.31,198.06 367.69,197.93 368.06,197.79 368.43,197.66 368.81,197.53 369.18,197.39 369.56,197.26 369.93,197.12 370.30,196.99 370.68,196.85 371.05,196.72 371.43,196.59 371.80,196.45 372.17,196.32 372.55,196.18 372.92,196.05 373.30,195.92 373.67,195.78 374.05,195.65 374.42,195.52 374.79,195.38 375.17,195.25 375.54,195.11 375.92,194.97 376.29,194.83 376.66,194.69 377.04,194.54 377.41,194.39 377.79,194.24 378.16,194.09 378.53,193.93 378.91,193.77 379.28,193.61 379.66,193.44 380.03,193.26 380.40,193.08 380.78,192.90 381.15,192.71 381.53,192.52 381.90,192.33 382.27,192.13 382.65,191.94 383.02,191.74 383.40,191.54 383.77,191.34 384.15,191.14 384.52,190.94 384.89,190.74 385.27,190.54 385.64,190.34 386.02,190.15 386.39,189.96 386.76,189.77 387.14,189.59 387.51,189.40 387.89,189.22 388.26,189.04 388.63,188.86 389.01,188.68 389.38,188.50 389.76,188.32 390.13,188.15 390.50,187.97 390.88,187.79 391.25,187.62 391.63,187.44 392.00,187.26 392.38,187.08 392.75,186.90 393.12,186.71 393.50,186.53 393.87,186.34 394.25,186.15 394.62,185.96 394.99,185.76 395.37,185.56 395.74,185.36 396.12,185.16 396.49,184.95 396.86,184.75 397.24,184.54 397.61,184.32 397.99,184.11 398.36,183.89 398.73,183.67 399.11,183.45 399.48,183.22 399.86,183.00 400.23,182.77 400.61,182.54 400.98,182.31 401.35,182.09 401.73,181.85 402.10,181.62 402.48,181.39 402.85,181.16 403.22,180.93 403.60,180.70 403.97,180.48 404.35,180.25 404.72,180.03 405.09,179.80 405.47,179.58 405.84,179.36 406.22,179.15 406.59,178.93 406.96,178.72 407.34,178.51 407.71,178.31 408.09,178.11 408.46,177.92 408.84,177.72 409.21,177.54 409.58,177.35 409.96,177.18 410.33,177.00 410.71,176.83 411.08,176.66 411.45,176.49 411.83,176.33 412.20,176.17 412.58,176.01 412.95,175.85 413.32,175.70 413.70,175.56 414.07,175.42 414.45,175.28 414.82,175.15 415.19,175.03 415.57,174.92 415.94,174.82 416.32,174.72 416.69,174.63 417.07,174.56 417.44,174.49 417.81,174.44 418.19,174.40 418.56,174.37 418.94,174.36 419.31,174.36 419.68,174.37 420.06,174.40 420.43,174.45 420.81,174.50 421.18,174.58 421.55,174.66 421.93,174.76 422.30,174.88 422.68,175.00 423.05,175.14 423.42,175.29 423.80,175.45 424.17,175.61 424.55,175.79 424.92,175.98 425.29,176.17 425.67,176.37 426.04,176.57 426.42,176.78 426.79,177.00 427.17,177.21 427.54,177.43 427.91,177.65 428.29,177.87 428.66,178.09 429.04,178.31 429.41,178.52 429.78,178.73 430.16,178.93 430.53,179.13 430.91,179.32 431.28,179.51 431.65,179.68 432.03,179.85 432.40,180.01 432.78,180.17 433.15,180.31 433.52,180.45 433.90,180.59 434.27,180.72 434.65,180.84 435.02,180.95 435.40,181.06 435.77,181.16 436.14,181.26 436.52,181.35 436.89,181.44 437.27,181.53 437.64,181.61 438.01,181.70 438.39,181.78 438.76,181.87 439.14,181.96 439.51,182.05 439.88,182.15 440.26,182.25 440.63,182.36 441.01,182.48 441.38,182.60 441.75,182.73 442.13,182.87 442.50,183.01 442.88,183.17 443.25,183.33 443.63,183.51 444.00,183.70 444.37,183.90 444.75,184.11 445.12,184.33 445.50,184.56 445.87,184.80 446.24,185.05 446.62,185.30 446.99,185.56 447.37,185.83 447.74,186.10 448.11,186.37 448.49,186.65 448.86,186.93 449.24,187.21 449.61,187.48 449.98,187.76 450.36,188.04 450.73,188.31 451.11,188.59 451.48,188.85 451.86,189.11 452.23,189.37 452.60,189.62 452.98,189.86 453.35,190.10 453.73,190.33 454.10,190.55 454.47,190.77 454.85,190.98 455.22,191.19 455.60,191.40 455.97,191.60 456.34,191.80 456.72,191.99 457.09,192.19 457.47,192.38 457.84,192.58 458.21,192.77 458.59,192.96 458.96,193.15 459.34,193.33 459.71,193.51 460.09,193.69 460.46,193.86 460.83,194.03 461.21,194.20 461.58,194.35 461.96,194.51 462.33,194.65 462.70,194.80 463.08,194.94 463.45,195.07 463.83,195.20 464.20,195.33 464.57,195.45 464.95,195.57 465.32,195.68 465.70,195.79 466.07,195.89 466.44,195.99 466.82,196.09 467.19,196.18 467.57,196.27 467.94,196.35 468.31,196.43 468.69,196.51 469.06,196.58 469.44,196.65 469.81,196.72 470.19,196.78 470.56,196.84 470.93,196.89 471.31,196.95 471.68,197.00 472.06,197.05 472.43,197.09 472.80,197.14 473.18,197.18 473.55,197.22 473.93,197.25 474.30,197.29 474.67,197.32 475.05,197.36 475.42,197.39 475.80,197.42 476.17,197.45 476.54,197.47 476.92,197.50 477.29,197.53 477.67,197.55 478.04,197.58 478.42,197.60 478.79,197.63 479.16,197.65" fill="none" stroke="#4580B0" stroke-width="1.65" stroke-linejoin="round" stroke-linecap="round"/>
<polyline points="344.37,198.06 367.31,198.08 367.69,197.87 368.06,197.64 368.43,197.41 368.81,197.16 369.18,196.89 369.56,196.59 369.93,196.26 370.30,195.89 370.68,195.48 371.05,195.04 371.43,194.56 371.80,194.04 372.17,193.50 372.55,192.92 372.92,192.31 373.30,191.67 373.67,191.00 374.05,190.32 374.42,189.62 374.79,188.91 375.17,188.20 375.54,187.48 375.92,186.77 376.29,186.07 376.66,185.36 377.04,184.66 377.41,183.96 377.79,183.26 378.16,182.55 378.53,181.83 378.91,181.10 379.28,180.36 379.66,179.61 380.03,178.84 380.40,178.06 380.78,177.27 381.15,176.46 381.53,175.65 381.90,174.83 382.27,174.00 382.65,173.17 383.02,172.34 383.40,171.51 383.77,170.68 384.15,169.85 384.52,169.03 384.89,168.21 385.27,167.39 385.64,166.58 386.02,165.77 386.39,164.96 386.76,164.16 387.14,163.36 387.51,162.57 387.89,161.79 388.26,161.03 388.63,160.29 389.01,159.57 389.38,158.87 389.76,158.20 390.13,157.56 390.50,156.95 390.88,156.38 391.25,155.85 391.63,155.36 392.00,154.90 392.38,154.49 392.75,154.12 393.12,153.78 393.50,153.49 393.87,153.23 394.25,153.01 394.62,152.83 394.99,152.68 395.37,152.58 395.74,152.51 396.12,152.48 396.49,152.49 396.86,152.53 397.24,152.61 397.61,152.72 397.99,152.87 398.36,153.06 398.73,153.28 399.11,153.53 399.48,153.82 399.86,154.15 400.23,154.51 400.61,154.90 400.98,155.32 401.35,155.78 401.73,156.28 402.10,156.80 402.48,157.35 402.85,157.94 403.22,158.55 403.60,159.20 403.97,159.87 404.35,160.56 404.72,161.29 405.09,162.03 405.47,162.81 405.84,163.60 406.22,164.42 406.59,165.27 406.96,166.13 407.34,167.01 407.71,167.90 408.09,168.80 408.46,169.71 408.84,170.63 409.21,171.55 409.58,172.47 409.96,173.38 410.33,174.29 410.71,175.19 411.08,176.07 411.45,176.94 411.83,177.79 412.20,178.62 412.58,179.44 412.95,180.24 413.32,181.02 413.70,181.79 414.07,182.54 414.45,183.28 414.82,184.01 415.19,184.72 415.57,185.43 415.94,186.12 416.32,186.80 416.69,187.48 417.07,188.15 417.44,188.81 417.81,189.46 418.19,190.09 418.56,190.70 418.94,191.29 419.31,191.86 419.68,192.40 420.06,192.92 420.43,193.40 420.81,193.85 421.18,194.27 421.55,194.67 421.93,195.03 422.30,195.37 422.68,195.68 423.05,195.97 423.42,196.23 423.80,196.47 424.17,196.69 424.55,196.89 424.92,197.06 425.29,197.22 425.67,197.37 426.04,197.49 426.42,197.61 426.79,197.70 427.17,197.79 427.54,197.87 427.91,197.94 428.29,198.00 428.66,198.05 429.04,198.10 429.41,198.14 429.78,198.17 430.16,198.20 430.53,198.23 430.91,198.25 431.28,198.26 431.65,198.27 432.03,198.28 432.40,198.29 432.78,198.29 433.15,198.29 433.52,198.29 433.90,198.29 434.27,198.29 434.65,198.29 435.02,198.29 435.40,198.29 435.77,198.28 436.14,198.28 436.52,198.28 436.89,198.28 437.27,198.28 437.64,198.28 438.01,198.28 438.39,198.28 438.76,198.28 439.14,198.28 439.51,198.28 439.88,198.28 440.26,198.28 440.63,198.28 441.01,198.28 441.38,198.28 441.75,198.28 442.13,198.28 442.50,198.28 442.88,198.28 443.25,198.28 443.63,198.28 444.00,198.28 444.37,198.28 444.75,198.28 445.12,198.28 445.50,198.28 445.87,198.28 446.24,198.28 446.62,198.28 446.99,198.28 447.37,198.28 447.74,198.28 448.11,198.28 448.49,198.29 448.86,198.29 449.24,198.29 449.61,198.29 449.98,198.29 450.36,198.29 450.73,198.29 451.11,198.29 451.48,198.29 451.86,198.29 452.23,198.29 452.60,198.29 452.98,198.29 453.35,198.29 453.73,198.29 454.10,198.29 454.47,198.29 454.85,198.29 455.22,198.29 455.60,198.29 455.97,198.29 456.34,198.29 456.72,198.29 457.09,198.29 457.47,198.29 457.84,198.29 458.21,198.29 458.59,198.29 458.96,198.29 459.34,198.29 459.71,198.29 460.09,198.29 460.46,198.29 460.83,198.29 461.21,198.29 461.58,198.29 461.96,198.29 462.33,198.29 462.70,198.29 463.08,198.29 463.45,198.29 463.83,198.29 464.20,198.29 464.57,198.29 464.95,198.29 465.32,198.29 465.70,198.29 466.07,198.29 466.44,198.29 466.82,198.29 467.19,198.29 467.57,198.29 467.94,198.29 468.31,198.29 468.69,198.29 469.06,198.29 469.44,198.29 469.81,198.29 470.19,198.29 470.56,198.29 470.93,198.29 471.31,198.29 471.68,198.29 472.06,198.29 472.43,198.29 472.80,198.29 473.18,198.29 473.55,198.29 473.93,198.29 474.30,198.29 474.67,198.29 475.05,198.29 475.42,198.29 475.80,198.29 476.17,198.29 476.54,198.29 476.92,198.29 477.29,198.29 477.67,198.29 478.04,198.29 478.42,198.29 478.79,198.29 479.16,198.29" fill="none" stroke="#F2AA35" stroke-width="1.65" stroke-linejoin="round" stroke-linecap="round"/>
<text x="294.40" y="170.90" font-size="6.9" text-anchor="middle" stroke="#222" stroke-width="0.22" transform="rotate(-90 294.40 170.90)" fill="#222">Smoothed PDE</text>
<text x="302.60" y="170.30" font-size="6.9" text-anchor="middle" stroke="#222" stroke-width="0.22" transform="rotate(-90 302.60 170.30)" fill="#222">Class Likelihoods</text>
<path d="M336.60 200.80H515.85" stroke="#4a4a4a" stroke-width="1" fill="none"/>
<path d="M336.60 200.80V205.40" stroke="#4a4a4a" stroke-width="1" fill="none"/>
<text x="336.60" y="216.00" font-size="7.0" text-anchor="middle" stroke="#222" stroke-width="0.22" fill="#222">−5</text>
<path d="M396.35 200.80V205.40" stroke="#4a4a4a" stroke-width="1" fill="none"/>
<text x="396.35" y="216.00" font-size="7.0" text-anchor="middle" stroke="#222" stroke-width="0.22" fill="#222">0</text>
<path d="M456.10 200.80V205.40" stroke="#4a4a4a" stroke-width="1" fill="none"/>
<text x="456.10" y="216.00" font-size="7.0" text-anchor="middle" stroke="#222" stroke-width="0.22" fill="#222">5</text>
<path d="M515.85 200.80V205.40" stroke="#4a4a4a" stroke-width="1" fill="none"/>
<text x="515.85" y="216.00" font-size="7.0" text-anchor="middle" stroke="#222" stroke-width="0.22" fill="#222">10</text>
<text x="438.10" y="231.50" font-size="6.8" text-anchor="middle" stroke="#222" stroke-width="0.22" fill="#222">Feature</text>
<path d="M463.80 166.70H476.90" stroke="#F2AA35" stroke-width="1.9"/>
<text x="482.30" y="169.20" font-size="6.85" text-anchor="start" stroke="#222" stroke-width="0.22" fill="#222">Likelihood of Class 1</text>
<path d="M463.80 174.30H476.90" stroke="#4580B0" stroke-width="1.9"/>
<text x="482.30" y="176.80" font-size="6.85" text-anchor="start" stroke="#222" stroke-width="0.22" fill="#222">Likelihood of Class 2</text>
<text x="329.00" y="250.00" font-size="10.4" text-anchor="start" font-weight="bold" fill="#000">G</text>
<path d="M328.20 313.40V257.40" stroke="#4a4a4a" stroke-width="1" fill="none"/>
<path d="M328.20 313.40H323.90" stroke="#4a4a4a" stroke-width="1" fill="none"/>
<path d="M328.20 302.20H323.90" stroke="#4a4a4a" stroke-width="1" fill="none"/>
<path d="M328.20 291.00H323.90" stroke="#4a4a4a" stroke-width="1" fill="none"/>
<path d="M328.20 279.80H323.90" stroke="#4a4a4a" stroke-width="1" fill="none"/>
<path d="M328.20 268.60H323.90" stroke="#4a4a4a" stroke-width="1" fill="none"/>
<path d="M328.20 257.40H323.90" stroke="#4a4a4a" stroke-width="1" fill="none"/>
<text x="318.60" y="313.40" font-size="6.9" text-anchor="middle" stroke="#222" stroke-width="0.22" transform="rotate(-90 318.60 313.40)" fill="#222">0.0</text>
<text x="318.60" y="291.00" font-size="6.9" text-anchor="middle" stroke="#222" stroke-width="0.22" transform="rotate(-90 318.60 291.00)" fill="#222">0.4</text>
<text x="318.60" y="268.60" font-size="6.9" text-anchor="middle" stroke="#222" stroke-width="0.22" transform="rotate(-90 318.60 268.60)" fill="#222">0.8</text>
<polyline points="344.37,283.44 363.85,285.40 364.23,284.95 364.62,284.47 365.00,283.99 365.39,283.50 365.77,283.00 366.16,282.49 366.55,281.96 366.93,281.41 367.32,280.84 367.70,280.27 368.09,279.69 368.47,279.11 368.86,278.52 369.25,277.95 369.63,277.38 370.02,276.82 370.40,276.29 370.79,275.77 371.17,275.28 371.56,274.81 371.95,274.37 372.33,273.95 372.72,273.56 373.10,273.19 373.49,272.83 373.87,272.50 374.26,272.18 374.64,271.89 375.03,271.60 375.42,271.34 375.80,271.09 376.19,270.85 376.57,270.62 376.96,270.40 377.34,270.20 377.73,270.01 378.12,269.83 378.50,269.65 378.89,269.49 379.27,269.34 379.66,269.19 380.04,269.06 380.43,268.93 380.82,268.81 381.20,268.70 381.59,268.59 381.97,268.49 382.36,268.40 382.74,268.31 383.13,268.23 383.52,268.16 383.90,268.09 384.29,268.03 384.67,267.98 385.06,267.93 385.44,267.89 385.83,267.85 386.22,267.82 386.60,267.80 386.99,267.78 387.37,267.76 387.76,267.76 388.14,267.76 388.53,267.76 388.92,267.77 389.30,267.78 389.69,267.81 390.07,267.84 390.46,267.87 390.84,267.92 391.23,267.97 391.61,268.04 392.00,268.11 392.39,268.20 392.77,268.29 393.16,268.40 393.54,268.52 393.93,268.65 394.31,268.80 394.70,268.96 395.09,269.13 395.47,269.32 395.86,269.52 396.24,269.74 396.63,269.97 397.01,270.21 397.40,270.46 397.79,270.73 398.17,271.01 398.56,271.31 398.94,271.61 399.33,271.93 399.71,272.26 400.10,272.60 400.49,272.95 400.87,273.32 401.26,273.69 401.64,274.07 402.03,274.47 402.41,274.87 402.80,275.29 403.19,275.71 403.57,276.14 403.96,276.58 404.34,277.03 404.73,277.49 405.11,277.96 405.50,278.43 405.88,278.91 406.27,279.40 406.66,279.90 407.04,280.40 407.43,280.91 407.81,281.42 408.20,281.94 408.58,282.47 408.97,283.00 409.36,283.53 409.74,284.06 410.13,284.60 410.51,285.15 410.90,285.69 411.28,286.24 411.67,286.78 412.06,287.34 412.44,287.89 412.83,288.45 413.21,289.01 413.60,289.58 413.98,290.15 414.37,290.73 414.76,291.31 415.14,291.90 415.53,292.50 415.91,293.10 416.30,293.71 416.68,294.33 417.07,294.94 417.46,295.55 417.84,296.16 418.23,296.77 418.61,297.38 419.00,297.97 419.38,298.56 419.77,299.14 420.15,299.70 420.54,300.25 420.93,300.78 421.31,301.30 421.70,301.80 422.08,302.29 422.47,302.76 422.85,303.21 423.24,303.66 423.63,304.09 424.01,304.51 424.40,304.92 424.78,305.32 425.17,305.71 425.55,306.09 425.94,306.47 426.33,306.84 426.71,307.21 427.10,307.57 427.48,307.92 427.87,308.27 428.25,308.61 428.64,308.94 429.03,309.26 429.41,309.57 429.80,309.87 430.18,310.15 430.57,310.42 430.95,310.68 431.34,310.92 431.73,311.14 432.11,311.35 432.50,311.54 432.88,311.71 433.27,311.86 433.65,312.01 434.04,312.13 434.42,312.25 434.81,312.35 435.20,312.44 435.58,312.52 435.97,312.60 436.35,312.66 436.74,312.71 437.12,312.76 437.51,312.81 437.90,312.84 438.28,312.87 438.67,312.90 439.05,312.93 439.44,312.94 439.82,312.96 440.21,312.97 440.60,312.98 440.98,312.99 441.37,313.00 441.75,313.00 442.14,313.01 442.52,313.01 442.91,313.01 443.30,313.01 443.68,313.02 444.07,313.02 444.45,313.02 444.84,313.02 445.22,313.02 445.61,313.02 446.00,313.02 446.38,313.02 446.77,313.02 447.15,313.02 447.54,313.02 447.92,313.02 448.31,313.02 448.69,313.02 449.08,313.02 449.47,313.02 449.85,313.01 450.24,313.01 450.62,313.01 451.01,313.01 451.39,313.01 451.78,313.00 452.17,313.00 452.55,313.00 452.94,312.99 453.32,312.99 453.71,312.98 454.09,312.98 454.48,312.97 454.87,312.97 455.25,312.96 455.64,312.96 456.02,312.95 456.41,312.95 456.79,312.94 457.18,312.93 457.57,312.93 457.95,312.92 458.34,312.91 458.72,312.91 459.11,312.90 459.49,312.89 459.88,312.88 460.27,312.87 460.65,312.87 461.04,312.86 461.42,312.85 461.81,312.84 462.19,312.83 462.58,312.82 462.97,312.82 463.35,312.81 463.74,312.80 464.12,312.79 464.51,312.78 464.89,312.77 465.28,312.77 465.66,312.76 466.05,312.75 466.44,312.74 466.82,312.73 467.21,312.72 467.59,312.72 467.98,312.71 468.36,312.70 468.75,312.69 469.14,312.69 469.52,312.68 469.91,312.67 470.29,312.67 470.68,312.66 471.06,312.65 471.45,312.65 471.84,312.64 472.22,312.64 472.61,312.63 472.99,312.63 473.38,312.62 473.76,312.62 474.15,312.61 474.54,312.61 474.92,312.60 475.31,312.60 475.69,312.60 476.08,312.59 476.46,312.59 476.85,312.58 477.24,312.58 477.62,312.58 478.01,312.57 478.39,312.57 478.78,312.56 479.16,312.56" fill="none" stroke="#1D5E24" stroke-width="1.65" stroke-linejoin="round" stroke-linecap="round"/>
<polyline points="344.37,287.36 363.85,285.40 364.23,285.85 364.62,286.33 365.00,286.81 365.39,287.30 365.77,287.80 366.16,288.31 366.55,288.84 366.93,289.39 367.32,289.96 367.70,290.53 368.09,291.11 368.47,291.69 368.86,292.28 369.25,292.85 369.63,293.42 370.02,293.98 370.40,294.51 370.79,295.03 371.17,295.52 371.56,295.99 371.95,296.43 372.33,296.85 372.72,297.24 373.10,297.61 373.49,297.97 373.87,298.30 374.26,298.62 374.64,298.91 375.03,299.20 375.42,299.46 375.80,299.71 376.19,299.95 376.57,300.18 376.96,300.40 377.34,300.60 377.73,300.79 378.12,300.97 378.50,301.15 378.89,301.31 379.27,301.46 379.66,301.61 380.04,301.74 380.43,301.87 380.82,301.99 381.20,302.10 381.59,302.21 381.97,302.31 382.36,302.40 382.74,302.49 383.13,302.57 383.52,302.64 383.90,302.71 384.29,302.77 384.67,302.82 385.06,302.87 385.44,302.91 385.83,302.95 386.22,302.98 386.60,303.00 386.99,303.02 387.37,303.04 387.76,303.04 388.14,303.04 388.53,303.04 388.92,303.03 389.30,303.02 389.69,302.99 390.07,302.96 390.46,302.93 390.84,302.88 391.23,302.83 391.61,302.76 392.00,302.69 392.39,302.60 392.77,302.51 393.16,302.40 393.54,302.28 393.93,302.15 394.31,302.00 394.70,301.84 395.09,301.67 395.47,301.48 395.86,301.28 396.24,301.06 396.63,300.83 397.01,300.59 397.40,300.34 397.79,300.07 398.17,299.79 398.56,299.49 398.94,299.19 399.33,298.87 399.71,298.54 400.10,298.20 400.49,297.85 400.87,297.48 401.26,297.11 401.64,296.73 402.03,296.33 402.41,295.93 402.80,295.51 403.19,295.09 403.57,294.66 403.96,294.22 404.34,293.77 404.73,293.31 405.11,292.84 405.50,292.37 405.88,291.89 406.27,291.40 406.66,290.90 407.04,290.40 407.43,289.89 407.81,289.38 408.20,288.86 408.58,288.33 408.97,287.80 409.36,287.27 409.74,286.74 410.13,286.20 410.51,285.65 410.90,285.11 411.28,284.56 411.67,284.02 412.06,283.46 412.44,282.91 412.83,282.35 413.21,281.79 413.60,281.22 413.98,280.65 414.37,280.07 414.76,279.49 415.14,278.90 415.53,278.30 415.91,277.70 416.30,277.09 416.68,276.47 417.07,275.86 417.46,275.25 417.84,274.64 418.23,274.03 418.61,273.42 419.00,272.83 419.38,272.24 419.77,271.66 420.15,271.10 420.54,270.55 420.93,270.02 421.31,269.50 421.70,269.00 422.08,268.51 422.47,268.04 422.85,267.59 423.24,267.14 423.63,266.71 424.01,266.29 424.40,265.88 424.78,265.48 425.17,265.09 425.55,264.71 425.94,264.33 426.33,263.96 426.71,263.59 427.10,263.23 427.48,262.88 427.87,262.53 428.25,262.19 428.64,261.86 429.03,261.54 429.41,261.23 429.80,260.93 430.18,260.65 430.57,260.38 430.95,260.12 431.34,259.88 431.73,259.66 432.11,259.45 432.50,259.26 432.88,259.09 433.27,258.94 433.65,258.79 434.04,258.67 434.42,258.55 434.81,258.45 435.20,258.36 435.58,258.28 435.97,258.20 436.35,258.14 436.74,258.09 437.12,258.04 437.51,257.99 437.90,257.96 438.28,257.93 438.67,257.90 439.05,257.87 439.44,257.86 439.82,257.84 440.21,257.83 440.60,257.82 440.98,257.81 441.37,257.80 441.75,257.80 442.14,257.79 442.52,257.79 442.91,257.79 443.30,257.79 443.68,257.78 444.07,257.78 444.45,257.78 444.84,257.78 445.22,257.78 445.61,257.78 446.00,257.78 446.38,257.78 446.77,257.78 447.15,257.78 447.54,257.78 447.92,257.78 448.31,257.78 448.69,257.78 449.08,257.78 449.47,257.78 449.85,257.79 450.24,257.79 450.62,257.79 451.01,257.79 451.39,257.79 451.78,257.80 452.17,257.80 452.55,257.80 452.94,257.81 453.32,257.81 453.71,257.82 454.09,257.82 454.48,257.83 454.87,257.83 455.25,257.84 455.64,257.84 456.02,257.85 456.41,257.85 456.79,257.86 457.18,257.87 457.57,257.87 457.95,257.88 458.34,257.89 458.72,257.89 459.11,257.90 459.49,257.91 459.88,257.92 460.27,257.93 460.65,257.93 461.04,257.94 461.42,257.95 461.81,257.96 462.19,257.97 462.58,257.98 462.97,257.98 463.35,257.99 463.74,258.00 464.12,258.01 464.51,258.02 464.89,258.03 465.28,258.03 465.66,258.04 466.05,258.05 466.44,258.06 466.82,258.07 467.21,258.08 467.59,258.08 467.98,258.09 468.36,258.10 468.75,258.11 469.14,258.11 469.52,258.12 469.91,258.13 470.29,258.13 470.68,258.14 471.06,258.15 471.45,258.15 471.84,258.16 472.22,258.16 472.61,258.17 472.99,258.17 473.38,258.18 473.76,258.18 474.15,258.19 474.54,258.19 474.92,258.20 475.31,258.20 475.69,258.20 476.08,258.21 476.46,258.21 476.85,258.22 477.24,258.22 477.62,258.22 478.01,258.23 478.39,258.23 478.78,258.24 479.16,258.24" fill="none" stroke="#A040EE" stroke-width="1.65" stroke-linejoin="round" stroke-linecap="round"/>
<text x="302.60" y="285.30" font-size="6.9" text-anchor="middle" stroke="#222" stroke-width="0.22" transform="rotate(-90 302.60 285.30)" fill="#222">Plausible Posteriors</text>
<path d="M336.60 315.70H515.85" stroke="#4a4a4a" stroke-width="1" fill="none"/>
<path d="M336.60 315.70V320.30" stroke="#4a4a4a" stroke-width="1" fill="none"/>
<text x="336.60" y="330.90" font-size="7.0" text-anchor="middle" stroke="#222" stroke-width="0.22" fill="#222">−5</text>
<path d="M396.35 315.70V320.30" stroke="#4a4a4a" stroke-width="1" fill="none"/>
<text x="396.35" y="330.90" font-size="7.0" text-anchor="middle" stroke="#222" stroke-width="0.22" fill="#222">0</text>
<path d="M456.10 315.70V320.30" stroke="#4a4a4a" stroke-width="1" fill="none"/>
<text x="456.10" y="330.90" font-size="7.0" text-anchor="middle" stroke="#222" stroke-width="0.22" fill="#222">5</text>
<path d="M515.85 315.70V320.30" stroke="#4a4a4a" stroke-width="1" fill="none"/>
<text x="515.85" y="330.90" font-size="7.0" text-anchor="middle" stroke="#222" stroke-width="0.22" fill="#222">10</text>
<text x="438.10" y="346.40" font-size="6.8" text-anchor="middle" stroke="#222" stroke-width="0.22" fill="#222">Feature</text>
<path d="M466.90 281.50H479.70" stroke="#1D5E24" stroke-width="1.9"/>
<text x="485.70" y="284.00" font-size="6.85" text-anchor="start" stroke="#222" stroke-width="0.22" fill="#222">Posterior of Class 1</text>
<path d="M466.90 289.30H479.70" stroke="#A040EE" stroke-width="1.9"/>
<text x="485.70" y="291.80" font-size="6.85" text-anchor="start" stroke="#222" stroke-width="0.22" fill="#222">Posterior of Class 2</text>
<text x="329.00" y="364.65" font-size="10.4" text-anchor="start" font-weight="bold" fill="#000">H</text>
<text x="438.50" y="357.19" font-size="8.15" text-anchor="middle" font-weight="bold" fill="#000">Test samples:</text>
<text x="438.50" y="366.69" font-size="8.15" text-anchor="middle" font-weight="bold" fill="#000">true class (points) &amp; predicted class (ticks)</text>
<g stroke="#006400" stroke-opacity="0.45" stroke-width="1.4">
<path d="M399.0 414.1v6.2"/>
<path d="M397.7 414.1v6.2"/>
<path d="M377.7 414.1v6.2"/>
<path d="M402.6 414.1v6.2"/>
<path d="M408.8 414.1v6.2"/>
<path d="M385.0 414.1v6.2"/>
<path d="M370.4 414.1v6.2"/>
<path d="M405.4 414.1v6.2"/>
<path d="M369.6 414.1v6.2"/>
<path d="M400.8 414.1v6.2"/>
<path d="M382.3 414.1v6.2"/>
<path d="M395.5 414.1v6.2"/>
<path d="M395.2 414.1v6.2"/>
<path d="M398.7 414.1v6.2"/>
<path d="M386.3 414.1v6.2"/>
<path d="M375.7 414.1v6.2"/>
<path d="M382.6 414.1v6.2"/>
<path d="M372.0 414.1v6.2"/>
<path d="M371.7 414.1v6.2"/>
<path d="M400.3 414.1v6.2"/>
<path d="M407.1 414.1v6.2"/>
<path d="M376.6 414.1v6.2"/>
<path d="M378.2 414.1v6.2"/>
<path d="M364.1 414.1v6.2"/>
<path d="M399.0 414.1v6.2"/>
<path d="M381.7 414.1v6.2"/>
<path d="M371.4 414.1v6.2"/>
<path d="M360.9 414.1v6.2"/>
<path d="M389.5 414.1v6.2"/>
<path d="M367.6 414.1v6.2"/>
<path d="M386.9 414.1v6.2"/>
<path d="M371.5 414.1v6.2"/>
<path d="M382.4 414.1v6.2"/>
<path d="M388.5 414.1v6.2"/>
<path d="M396.4 414.1v6.2"/>
<path d="M405.3 414.1v6.2"/>
<path d="M393.8 414.1v6.2"/>
<path d="M408.8 414.1v6.2"/>
<path d="M368.4 414.1v6.2"/>
<path d="M391.9 414.1v6.2"/>
<path d="M371.8 414.1v6.2"/>
<path d="M380.7 414.1v6.2"/>
<path d="M395.7 414.1v6.2"/>
<path d="M392.5 414.1v6.2"/>
<path d="M363.4 414.1v6.2"/>
<path d="M394.3 414.1v6.2"/>
<path d="M400.3 414.1v6.2"/>
<path d="M401.0 414.1v6.2"/>
<path d="M399.4 414.1v6.2"/>
<path d="M381.8 414.1v6.2"/>
<path d="M359.9 414.1v6.2"/>
<path d="M375.6 414.1v6.2"/>
<path d="M367.7 414.1v6.2"/>
<path d="M402.4 414.1v6.2"/>
<path d="M374.5 414.1v6.2"/>
<path d="M405.7 414.1v6.2"/>
<path d="M385.8 414.1v6.2"/>
<path d="M375.8 414.1v6.2"/>
<path d="M390.3 414.1v6.2"/>
<path d="M374.1 414.1v6.2"/>
<path d="M386.0 414.1v6.2"/>
<path d="M386.9 414.1v6.2"/>
<path d="M406.9 414.1v6.2"/>
<path d="M398.3 414.1v6.2"/>
<path d="M402.1 414.1v6.2"/>
<path d="M370.3 414.1v6.2"/>
<path d="M377.9 414.1v6.2"/>
<path d="M409.2 414.1v6.2"/>
<path d="M393.2 414.1v6.2"/>
<path d="M388.9 414.1v6.2"/>
<path d="M398.3 414.1v6.2"/>
<path d="M370.6 414.1v6.2"/>
<path d="M396.1 414.1v6.2"/>
<path d="M392.9 414.1v6.2"/>
<path d="M399.5 414.1v6.2"/>
<path d="M381.4 414.1v6.2"/>
<path d="M383.6 414.1v6.2"/>
<path d="M404.0 414.1v6.2"/>
<path d="M393.5 414.1v6.2"/>
<path d="M403.0 414.1v6.2"/>
<path d="M368.5 414.1v6.2"/>
<path d="M394.0 414.1v6.2"/>
<path d="M375.7 414.1v6.2"/>
<path d="M397.7 414.1v6.2"/>
<path d="M398.4 414.1v6.2"/>
<path d="M368.8 414.1v6.2"/>
<path d="M389.7 414.1v6.2"/>
<path d="M389.0 414.1v6.2"/>
<path d="M383.3 414.1v6.2"/>
<path d="M388.4 414.1v6.2"/>
<path d="M403.6 414.1v6.2"/>
<path d="M399.1 414.1v6.2"/>
<path d="M374.0 414.1v6.2"/>
<path d="M406.1 414.1v6.2"/>
<path d="M395.0 414.1v6.2"/>
<path d="M404.1 414.1v6.2"/>
<path d="M399.2 414.1v6.2"/>
<path d="M403.4 414.1v6.2"/>
<path d="M386.7 414.1v6.2"/>
<path d="M382.9 414.1v6.2"/>
<path d="M392.0 414.1v6.2"/>
<path d="M392.3 414.1v6.2"/>
<path d="M379.5 414.1v6.2"/>
<path d="M405.3 414.1v6.2"/>
<path d="M370.1 414.1v6.2"/>
<path d="M380.3 414.1v6.2"/>
<path d="M371.6 414.1v6.2"/>
<path d="M386.3 414.1v6.2"/>
<path d="M393.2 414.1v6.2"/>
<path d="M384.3 414.1v6.2"/>
<path d="M400.3 414.1v6.2"/>
<path d="M391.2 414.1v6.2"/>
<path d="M374.6 414.1v6.2"/>
<path d="M393.7 414.1v6.2"/>
<path d="M408.7 414.1v6.2"/>
<path d="M391.4 414.1v6.2"/>
<path d="M393.0 414.1v6.2"/>
<path d="M402.2 414.1v6.2"/>
<path d="M409.0 414.1v6.2"/>
<path d="M371.9 414.1v6.2"/>
<path d="M387.0 414.1v6.2"/>
<path d="M369.4 414.1v6.2"/>
<path d="M395.6 414.1v6.2"/>
<path d="M401.7 414.1v6.2"/>
<path d="M373.2 414.1v6.2"/>
<path d="M385.6 414.1v6.2"/>
<path d="M407.2 414.1v6.2"/>
<path d="M403.1 414.1v6.2"/>
<path d="M383.9 414.1v6.2"/>
<path d="M369.9 414.1v6.2"/>
<path d="M389.7 414.1v6.2"/>
<path d="M404.3 414.1v6.2"/>
<path d="M370.5 414.1v6.2"/>
<path d="M393.3 414.1v6.2"/>
<path d="M395.3 414.1v6.2"/>
<path d="M389.5 414.1v6.2"/>
<path d="M372.7 414.1v6.2"/>
<path d="M407.1 414.1v6.2"/>
<path d="M382.6 414.1v6.2"/>
<path d="M386.6 414.1v6.2"/>
<path d="M383.3 414.1v6.2"/>
<path d="M387.0 414.1v6.2"/>
<path d="M392.0 414.1v6.2"/>
<path d="M376.9 414.1v6.2"/>
<path d="M406.1 414.1v6.2"/>
<path d="M383.3 414.1v6.2"/>
<path d="M395.8 414.1v6.2"/>
<path d="M393.0 414.1v6.2"/>
<path d="M391.4 414.1v6.2"/>
<path d="M378.9 414.1v6.2"/>
<path d="M387.4 414.1v6.2"/>
<path d="M397.4 414.1v6.2"/>
<path d="M390.7 414.1v6.2"/>
<path d="M403.1 414.1v6.2"/>
<path d="M408.3 414.1v6.2"/>
<path d="M407.0 414.1v6.2"/>
<path d="M390.5 414.1v6.2"/>
<path d="M374.7 414.1v6.2"/>
<path d="M387.4 414.1v6.2"/>
<path d="M394.2 414.1v6.2"/>
<path d="M406.4 414.1v6.2"/>
<path d="M376.8 414.1v6.2"/>
<path d="M377.9 414.1v6.2"/>
<path d="M405.0 414.1v6.2"/>
<path d="M390.0 414.1v6.2"/>
<path d="M371.2 414.1v6.2"/>
<path d="M374.2 414.1v6.2"/>
<path d="M369.0 414.1v6.2"/>
<path d="M398.6 414.1v6.2"/>
<path d="M387.2 414.1v6.2"/>
<path d="M369.5 414.1v6.2"/>
<path d="M375.4 414.1v6.2"/>
<path d="M402.8 414.1v6.2"/>
<path d="M398.7 414.1v6.2"/>
<path d="M401.1 414.1v6.2"/>
<path d="M400.6 414.1v6.2"/>
<path d="M376.3 414.1v6.2"/>
<path d="M389.9 414.1v6.2"/>
<path d="M397.0 414.1v6.2"/>
<path d="M400.2 414.1v6.2"/>
<path d="M386.6 414.1v6.2"/>
<path d="M372.3 414.1v6.2"/>
<path d="M400.2 414.1v6.2"/>
<path d="M388.6 414.1v6.2"/>
<path d="M368.9 414.1v6.2"/>
<path d="M395.8 414.1v6.2"/>
<path d="M377.2 414.1v6.2"/>
<path d="M381.6 414.1v6.2"/>
<path d="M396.9 414.1v6.2"/>
<path d="M404.1 414.1v6.2"/>
<path d="M390.7 414.1v6.2"/>
<path d="M395.5 414.1v6.2"/>
<path d="M384.6 414.1v6.2"/>
<path d="M401.8 414.1v6.2"/>
<path d="M394.4 414.1v6.2"/>
<path d="M400.9 414.1v6.2"/>
<path d="M400.1 414.1v6.2"/>
<path d="M396.0 414.1v6.2"/>
<path d="M378.9 414.1v6.2"/>
<path d="M394.2 414.1v6.2"/>
<path d="M388.2 414.1v6.2"/>
<path d="M376.1 414.1v6.2"/>
<path d="M409.2 414.1v6.2"/>
<path d="M369.9 414.1v6.2"/>
<path d="M391.3 414.1v6.2"/>
<path d="M395.5 414.1v6.2"/>
<path d="M399.3 414.1v6.2"/>
<path d="M401.6 414.1v6.2"/>
<path d="M404.1 414.1v6.2"/>
<path d="M399.1 414.1v6.2"/>
<path d="M378.6 414.1v6.2"/>
<path d="M371.8 414.1v6.2"/>
<path d="M380.0 414.1v6.2"/>
<path d="M408.6 414.1v6.2"/>
<path d="M372.9 414.1v6.2"/>
<path d="M393.4 414.1v6.2"/>
<path d="M401.4 414.1v6.2"/>
<path d="M406.5 414.1v6.2"/>
<path d="M399.4 414.1v6.2"/>
<path d="M368.8 414.1v6.2"/>
<path d="M389.9 414.1v6.2"/>
<path d="M399.2 414.1v6.2"/>
<path d="M378.4 414.1v6.2"/>
<path d="M408.1 414.1v6.2"/>
<path d="M394.8 414.1v6.2"/>
<path d="M401.9 414.1v6.2"/>
<path d="M407.7 414.1v6.2"/>
<path d="M393.2 414.1v6.2"/>
<path d="M376.4 414.1v6.2"/>
<path d="M391.1 414.1v6.2"/>
<path d="M376.6 414.1v6.2"/>
<path d="M404.5 414.1v6.2"/>
<path d="M374.4 414.1v6.2"/>
<path d="M395.9 414.1v6.2"/>
<path d="M371.5 414.1v6.2"/>
<path d="M395.4 414.1v6.2"/>
<path d="M393.4 414.1v6.2"/>
<path d="M391.1 414.1v6.2"/>
<path d="M396.5 414.1v6.2"/>
<path d="M391.6 414.1v6.2"/>
<path d="M404.3 414.1v6.2"/>
<path d="M380.2 414.1v6.2"/>
<path d="M383.8 414.1v6.2"/>
<path d="M396.7 414.1v6.2"/>
<path d="M381.9 414.1v6.2"/>
<path d="M381.8 414.1v6.2"/>
<path d="M392.5 414.1v6.2"/>
<path d="M402.5 414.1v6.2"/>
<path d="M384.7 414.1v6.2"/>
<path d="M389.8 414.1v6.2"/>
<path d="M383.4 414.1v6.2"/>
<path d="M403.7 414.1v6.2"/>
<path d="M374.2 414.1v6.2"/>
<path d="M394.8 414.1v6.2"/>
<path d="M397.4 414.1v6.2"/>
<path d="M370.0 414.1v6.2"/>
<path d="M390.5 414.1v6.2"/>
<path d="M384.8 414.1v6.2"/>
<path d="M392.3 414.1v6.2"/>
<path d="M370.5 414.1v6.2"/>
<path d="M396.1 414.1v6.2"/>
<path d="M404.0 414.1v6.2"/>
<path d="M388.8 414.1v6.2"/>
<path d="M379.6 414.1v6.2"/>
<path d="M374.3 414.1v6.2"/>
<path d="M389.9 414.1v6.2"/>
<path d="M399.6 414.1v6.2"/>
<path d="M376.9 414.1v6.2"/>
<path d="M387.0 414.1v6.2"/>
<path d="M372.4 414.1v6.2"/>
<path d="M403.9 414.1v6.2"/>
<path d="M383.0 414.1v6.2"/>
<path d="M401.5 414.1v6.2"/>
<path d="M375.3 414.1v6.2"/>
<path d="M380.7 414.1v6.2"/>
<path d="M392.7 414.1v6.2"/>
<path d="M379.7 414.1v6.2"/>
<path d="M369.6 414.1v6.2"/>
<path d="M397.4 414.1v6.2"/>
<path d="M387.8 414.1v6.2"/>
<path d="M387.7 414.1v6.2"/>
<path d="M405.8 414.1v6.2"/>
<path d="M371.9 414.1v6.2"/>
<path d="M401.8 414.1v6.2"/>
<path d="M390.1 414.1v6.2"/>
<path d="M385.3 414.1v6.2"/>
<path d="M398.4 414.1v6.2"/>
<path d="M368.6 414.1v6.2"/>
<path d="M370.0 414.1v6.2"/>
<path d="M374.8 414.1v6.2"/>
<path d="M397.5 414.1v6.2"/>
<path d="M387.9 414.1v6.2"/>
<path d="M408.1 414.1v6.2"/>
<path d="M379.0 414.1v6.2"/>
<path d="M376.4 414.1v6.2"/>
<path d="M385.0 414.1v6.2"/>
<path d="M386.7 414.1v6.2"/>
<path d="M379.1 414.1v6.2"/>
<path d="M393.4 414.1v6.2"/>
<path d="M378.9 414.1v6.2"/>
<path d="M378.1 414.1v6.2"/>
<path d="M402.8 414.1v6.2"/>
<path d="M404.6 414.1v6.2"/>
<path d="M387.6 414.1v6.2"/>
<path d="M372.0 414.1v6.2"/>
<path d="M400.5 414.1v6.2"/>
<path d="M395.2 414.1v6.2"/>
<path d="M378.2 414.1v6.2"/>
<path d="M370.4 414.1v6.2"/>
<path d="M372.6 414.1v6.2"/>
<path d="M380.0 414.1v6.2"/>
<path d="M399.5 414.1v6.2"/>
<path d="M374.4 414.1v6.2"/>
<path d="M379.6 414.1v6.2"/>
<path d="M399.0 414.1v6.2"/>
<path d="M388.4 414.1v6.2"/>
<path d="M370.6 414.1v6.2"/>
<path d="M376.5 414.1v6.2"/>
</g>
<g stroke="#A020F0" stroke-opacity="0.45" stroke-width="1.4">
<path d="M417.0 416.5v6.2"/>
<path d="M459.1 416.5v6.2"/>
<path d="M439.2 416.5v6.2"/>
<path d="M439.0 416.5v6.2"/>
<path d="M474.6 416.5v6.2"/>
<path d="M418.9 416.5v6.2"/>
<path d="M470.6 416.5v6.2"/>
<path d="M448.1 416.5v6.2"/>
<path d="M460.7 416.5v6.2"/>
<path d="M419.0 416.5v6.2"/>
<path d="M452.8 416.5v6.2"/>
<path d="M411.1 416.5v6.2"/>
<path d="M418.6 416.5v6.2"/>
<path d="M475.1 416.5v6.2"/>
<path d="M469.4 416.5v6.2"/>
<path d="M472.4 416.5v6.2"/>
<path d="M459.3 416.5v6.2"/>
<path d="M435.2 416.5v6.2"/>
<path d="M409.5 416.5v6.2"/>
<path d="M467.5 416.5v6.2"/>
<path d="M422.2 416.5v6.2"/>
<path d="M475.3 416.5v6.2"/>
<path d="M443.8 416.5v6.2"/>
<path d="M424.2 416.5v6.2"/>
<path d="M469.8 416.5v6.2"/>
<path d="M435.8 416.5v6.2"/>
<path d="M413.4 416.5v6.2"/>
<path d="M443.1 416.5v6.2"/>
<path d="M450.8 416.5v6.2"/>
<path d="M416.6 416.5v6.2"/>
<path d="M422.1 416.5v6.2"/>
<path d="M413.0 416.5v6.2"/>
<path d="M438.5 416.5v6.2"/>
<path d="M475.3 416.5v6.2"/>
<path d="M452.8 416.5v6.2"/>
<path d="M417.4 416.5v6.2"/>
<path d="M471.7 416.5v6.2"/>
<path d="M446.6 416.5v6.2"/>
<path d="M459.2 416.5v6.2"/>
<path d="M441.2 416.5v6.2"/>
<path d="M411.0 416.5v6.2"/>
<path d="M449.7 416.5v6.2"/>
<path d="M415.5 416.5v6.2"/>
<path d="M438.6 416.5v6.2"/>
<path d="M435.0 416.5v6.2"/>
<path d="M444.3 416.5v6.2"/>
<path d="M447.9 416.5v6.2"/>
<path d="M475.6 416.5v6.2"/>
<path d="M439.4 416.5v6.2"/>
<path d="M453.4 416.5v6.2"/>
<path d="M467.6 416.5v6.2"/>
<path d="M429.1 416.5v6.2"/>
<path d="M433.6 416.5v6.2"/>
<path d="M460.5 416.5v6.2"/>
<path d="M459.0 416.5v6.2"/>
<path d="M432.5 416.5v6.2"/>
<path d="M475.3 416.5v6.2"/>
<path d="M442.4 416.5v6.2"/>
<path d="M429.9 416.5v6.2"/>
<path d="M427.7 416.5v6.2"/>
<path d="M432.4 416.5v6.2"/>
<path d="M410.4 416.5v6.2"/>
<path d="M458.3 416.5v6.2"/>
<path d="M411.8 416.5v6.2"/>
<path d="M435.1 416.5v6.2"/>
<path d="M418.1 416.5v6.2"/>
<path d="M444.4 416.5v6.2"/>
<path d="M443.6 416.5v6.2"/>
<path d="M418.0 416.5v6.2"/>
<path d="M418.8 416.5v6.2"/>
<path d="M448.3 416.5v6.2"/>
<path d="M445.1 416.5v6.2"/>
<path d="M451.0 416.5v6.2"/>
<path d="M429.5 416.5v6.2"/>
<path d="M448.3 416.5v6.2"/>
<path d="M442.7 416.5v6.2"/>
<path d="M448.7 416.5v6.2"/>
<path d="M413.9 416.5v6.2"/>
<path d="M446.8 416.5v6.2"/>
<path d="M411.3 416.5v6.2"/>
<path d="M413.1 416.5v6.2"/>
<path d="M439.8 416.5v6.2"/>
<path d="M445.8 416.5v6.2"/>
<path d="M411.5 416.5v6.2"/>
<path d="M457.4 416.5v6.2"/>
<path d="M456.0 416.5v6.2"/>
<path d="M458.4 416.5v6.2"/>
<path d="M436.3 416.5v6.2"/>
<path d="M431.4 416.5v6.2"/>
<path d="M445.9 416.5v6.2"/>
<path d="M435.8 416.5v6.2"/>
<path d="M451.8 416.5v6.2"/>
<path d="M448.0 416.5v6.2"/>
<path d="M426.9 416.5v6.2"/>
<path d="M420.4 416.5v6.2"/>
<path d="M449.8 416.5v6.2"/>
<path d="M439.2 416.5v6.2"/>
<path d="M416.1 416.5v6.2"/>
<path d="M410.1 416.5v6.2"/>
<path d="M426.0 416.5v6.2"/>
<path d="M414.6 416.5v6.2"/>
<path d="M442.4 416.5v6.2"/>
<path d="M416.1 416.5v6.2"/>
<path d="M411.0 416.5v6.2"/>
<path d="M434.8 416.5v6.2"/>
<path d="M438.4 416.5v6.2"/>
<path d="M447.4 416.5v6.2"/>
<path d="M443.9 416.5v6.2"/>
<path d="M430.6 416.5v6.2"/>
<path d="M435.5 416.5v6.2"/>
<path d="M433.4 416.5v6.2"/>
<path d="M429.5 416.5v6.2"/>
<path d="M438.0 416.5v6.2"/>
<path d="M440.6 416.5v6.2"/>
<path d="M428.0 416.5v6.2"/>
<path d="M446.4 416.5v6.2"/>
<path d="M411.3 416.5v6.2"/>
<path d="M418.5 416.5v6.2"/>
<path d="M429.3 416.5v6.2"/>
<path d="M417.8 416.5v6.2"/>
<path d="M432.2 416.5v6.2"/>
<path d="M434.2 416.5v6.2"/>
<path d="M436.7 416.5v6.2"/>
<path d="M435.6 416.5v6.2"/>
<path d="M456.5 416.5v6.2"/>
<path d="M422.0 416.5v6.2"/>
<path d="M416.5 416.5v6.2"/>
<path d="M416.5 416.5v6.2"/>
<path d="M441.1 416.5v6.2"/>
<path d="M410.4 416.5v6.2"/>
<path d="M459.3 416.5v6.2"/>
<path d="M418.4 416.5v6.2"/>
<path d="M452.2 416.5v6.2"/>
<path d="M455.5 416.5v6.2"/>
<path d="M429.9 416.5v6.2"/>
<path d="M441.2 416.5v6.2"/>
<path d="M439.1 416.5v6.2"/>
<path d="M431.2 416.5v6.2"/>
<path d="M416.2 416.5v6.2"/>
<path d="M433.8 416.5v6.2"/>
<path d="M410.1 416.5v6.2"/>
<path d="M446.6 416.5v6.2"/>
<path d="M460.8 416.5v6.2"/>
<path d="M428.8 416.5v6.2"/>
<path d="M446.5 416.5v6.2"/>
<path d="M433.9 416.5v6.2"/>
<path d="M450.5 416.5v6.2"/>
<path d="M436.4 416.5v6.2"/>
<path d="M446.4 416.5v6.2"/>
<path d="M422.9 416.5v6.2"/>
<path d="M414.8 416.5v6.2"/>
<path d="M412.9 416.5v6.2"/>
<path d="M441.1 416.5v6.2"/>
<path d="M411.4 416.5v6.2"/>
<path d="M414.6 416.5v6.2"/>
<path d="M413.7 416.5v6.2"/>
<path d="M410.6 416.5v6.2"/>
<path d="M441.2 416.5v6.2"/>
<path d="M417.3 416.5v6.2"/>
<path d="M415.1 416.5v6.2"/>
<path d="M431.1 416.5v6.2"/>
<path d="M458.9 416.5v6.2"/>
<path d="M447.7 416.5v6.2"/>
<path d="M410.4 416.5v6.2"/>
<path d="M457.0 416.5v6.2"/>
<path d="M430.0 416.5v6.2"/>
<path d="M423.2 416.5v6.2"/>
<path d="M455.6 416.5v6.2"/>
<path d="M423.8 416.5v6.2"/>
<path d="M451.3 416.5v6.2"/>
<path d="M450.8 416.5v6.2"/>
<path d="M456.4 416.5v6.2"/>
<path d="M452.5 416.5v6.2"/>
<path d="M445.4 416.5v6.2"/>
<path d="M410.4 416.5v6.2"/>
<path d="M457.8 416.5v6.2"/>
<path d="M414.8 416.5v6.2"/>
<path d="M452.2 416.5v6.2"/>
<path d="M432.4 416.5v6.2"/>
<path d="M446.7 416.5v6.2"/>
<path d="M442.5 416.5v6.2"/>
<path d="M447.2 416.5v6.2"/>
<path d="M454.9 416.5v6.2"/>
<path d="M426.0 416.5v6.2"/>
<path d="M452.2 416.5v6.2"/>
<path d="M456.2 416.5v6.2"/>
<path d="M449.2 416.5v6.2"/>
<path d="M430.2 416.5v6.2"/>
<path d="M421.1 416.5v6.2"/>
<path d="M453.9 416.5v6.2"/>
<path d="M460.5 416.5v6.2"/>
<path d="M411.0 416.5v6.2"/>
<path d="M458.9 416.5v6.2"/>
<path d="M444.8 416.5v6.2"/>
<path d="M454.8 416.5v6.2"/>
<path d="M446.1 416.5v6.2"/>
<path d="M423.5 416.5v6.2"/>
<path d="M420.0 416.5v6.2"/>
<path d="M432.9 416.5v6.2"/>
<path d="M452.6 416.5v6.2"/>
<path d="M451.0 416.5v6.2"/>
<path d="M432.9 416.5v6.2"/>
<path d="M414.0 416.5v6.2"/>
<path d="M458.2 416.5v6.2"/>
<path d="M422.2 416.5v6.2"/>
<path d="M456.4 416.5v6.2"/>
<path d="M443.7 416.5v6.2"/>
<path d="M436.6 416.5v6.2"/>
<path d="M443.5 416.5v6.2"/>
<path d="M446.3 416.5v6.2"/>
<path d="M459.2 416.5v6.2"/>
<path d="M434.5 416.5v6.2"/>
<path d="M459.4 416.5v6.2"/>
<path d="M416.9 416.5v6.2"/>
<path d="M435.3 416.5v6.2"/>
<path d="M440.8 416.5v6.2"/>
<path d="M456.1 416.5v6.2"/>
<path d="M445.9 416.5v6.2"/>
<path d="M451.6 416.5v6.2"/>
<path d="M436.9 416.5v6.2"/>
<path d="M411.4 416.5v6.2"/>
<path d="M446.1 416.5v6.2"/>
<path d="M443.3 416.5v6.2"/>
<path d="M441.2 416.5v6.2"/>
<path d="M412.0 416.5v6.2"/>
<path d="M451.8 416.5v6.2"/>
<path d="M438.2 416.5v6.2"/>
<path d="M427.9 416.5v6.2"/>
<path d="M417.8 416.5v6.2"/>
<path d="M424.8 416.5v6.2"/>
<path d="M418.3 416.5v6.2"/>
<path d="M460.7 416.5v6.2"/>
<path d="M458.4 416.5v6.2"/>
<path d="M456.3 416.5v6.2"/>
<path d="M417.8 416.5v6.2"/>
<path d="M444.8 416.5v6.2"/>
<path d="M434.7 416.5v6.2"/>
<path d="M445.4 416.5v6.2"/>
<path d="M418.4 416.5v6.2"/>
<path d="M444.9 416.5v6.2"/>
<path d="M433.0 416.5v6.2"/>
<path d="M453.1 416.5v6.2"/>
<path d="M441.5 416.5v6.2"/>
<path d="M449.7 416.5v6.2"/>
<path d="M439.6 416.5v6.2"/>
<path d="M421.2 416.5v6.2"/>
<path d="M438.5 416.5v6.2"/>
<path d="M412.1 416.5v6.2"/>
<path d="M423.9 416.5v6.2"/>
<path d="M420.2 416.5v6.2"/>
<path d="M451.9 416.5v6.2"/>
<path d="M416.6 416.5v6.2"/>
<path d="M432.3 416.5v6.2"/>
<path d="M457.9 416.5v6.2"/>
<path d="M414.8 416.5v6.2"/>
<path d="M439.1 416.5v6.2"/>
<path d="M444.3 416.5v6.2"/>
<path d="M427.0 416.5v6.2"/>
<path d="M453.7 416.5v6.2"/>
<path d="M417.4 416.5v6.2"/>
<path d="M437.5 416.5v6.2"/>
<path d="M453.7 416.5v6.2"/>
<path d="M428.1 416.5v6.2"/>
<path d="M424.4 416.5v6.2"/>
<path d="M421.5 416.5v6.2"/>
<path d="M420.0 416.5v6.2"/>
<path d="M452.6 416.5v6.2"/>
<path d="M445.4 416.5v6.2"/>
<path d="M437.0 416.5v6.2"/>
<path d="M454.4 416.5v6.2"/>
<path d="M440.0 416.5v6.2"/>
<path d="M411.5 416.5v6.2"/>
<path d="M438.3 416.5v6.2"/>
<path d="M411.8 416.5v6.2"/>
<path d="M445.1 416.5v6.2"/>
<path d="M413.8 416.5v6.2"/>
<path d="M447.6 416.5v6.2"/>
<path d="M445.0 416.5v6.2"/>
<path d="M419.9 416.5v6.2"/>
<path d="M429.2 416.5v6.2"/>
<path d="M450.3 416.5v6.2"/>
<path d="M450.2 416.5v6.2"/>
<path d="M437.8 416.5v6.2"/>
<path d="M427.5 416.5v6.2"/>
<path d="M440.6 416.5v6.2"/>
<path d="M451.9 416.5v6.2"/>
<path d="M412.9 416.5v6.2"/>
<path d="M453.7 416.5v6.2"/>
<path d="M439.5 416.5v6.2"/>
<path d="M422.8 416.5v6.2"/>
<path d="M414.6 416.5v6.2"/>
<path d="M438.6 416.5v6.2"/>
<path d="M437.4 416.5v6.2"/>
<path d="M442.9 416.5v6.2"/>
<path d="M453.3 416.5v6.2"/>
<path d="M449.4 416.5v6.2"/>
<path d="M415.0 416.5v6.2"/>
<path d="M409.8 416.5v6.2"/>
<path d="M414.5 416.5v6.2"/>
<path d="M412.1 416.5v6.2"/>
<path d="M433.2 416.5v6.2"/>
<path d="M429.0 416.5v6.2"/>
<path d="M459.2 416.5v6.2"/>
<path d="M450.8 416.5v6.2"/>
<path d="M427.3 416.5v6.2"/>
<path d="M451.9 416.5v6.2"/>
<path d="M409.7 416.5v6.2"/>
<path d="M442.7 416.5v6.2"/>
<path d="M417.4 416.5v6.2"/>
<path d="M459.6 416.5v6.2"/>
<path d="M424.1 416.5v6.2"/>
<path d="M415.5 416.5v6.2"/>
<path d="M441.7 416.5v6.2"/>
<path d="M445.7 416.5v6.2"/>
<path d="M456.4 416.5v6.2"/>
<path d="M421.8 416.5v6.2"/>
<path d="M433.8 416.5v6.2"/>
<path d="M440.4 416.5v6.2"/>
<path d="M447.7 416.5v6.2"/>
<path d="M414.2 416.5v6.2"/>
<path d="M456.1 416.5v6.2"/>
<path d="M436.2 416.5v6.2"/>
<path d="M420.8 416.5v6.2"/>
<path d="M416.9 416.5v6.2"/>
<path d="M432.9 416.5v6.2"/>
<path d="M426.7 416.5v6.2"/>
<path d="M441.2 416.5v6.2"/>
<path d="M427.4 416.5v6.2"/>
<path d="M442.6 416.5v6.2"/>
<path d="M452.2 416.5v6.2"/>
<path d="M454.6 416.5v6.2"/>
<path d="M423.7 416.5v6.2"/>
<path d="M419.3 416.5v6.2"/>
<path d="M444.5 416.5v6.2"/>
<path d="M426.6 416.5v6.2"/>
<path d="M431.1 416.5v6.2"/>
<path d="M424.6 416.5v6.2"/>
<path d="M413.0 416.5v6.2"/>
<path d="M439.6 416.5v6.2"/>
<path d="M461.2 416.5v6.2"/>
<path d="M415.8 416.5v6.2"/>
<path d="M441.9 416.5v6.2"/>
<path d="M446.3 416.5v6.2"/>
<path d="M460.6 416.5v6.2"/>
<path d="M420.4 416.5v6.2"/>
<path d="M447.7 416.5v6.2"/>
<path d="M441.5 416.5v6.2"/>
<path d="M430.5 416.5v6.2"/>
<path d="M436.8 416.5v6.2"/>
<path d="M431.0 416.5v6.2"/>
<path d="M448.5 416.5v6.2"/>
<path d="M428.5 416.5v6.2"/>
<path d="M439.7 416.5v6.2"/>
<path d="M414.9 416.5v6.2"/>
<path d="M430.0 416.5v6.2"/>
<path d="M436.7 416.5v6.2"/>
<path d="M424.8 416.5v6.2"/>
<path d="M433.4 416.5v6.2"/>
<path d="M410.0 416.5v6.2"/>
<path d="M429.1 416.5v6.2"/>
<path d="M437.4 416.5v6.2"/>
<path d="M416.9 416.5v6.2"/>
<path d="M422.4 416.5v6.2"/>
<path d="M455.3 416.5v6.2"/>
<path d="M453.0 416.5v6.2"/>
<path d="M460.6 416.5v6.2"/>
<path d="M435.9 416.5v6.2"/>
<path d="M445.2 416.5v6.2"/>
<path d="M429.0 416.5v6.2"/>
<path d="M426.3 416.5v6.2"/>
<path d="M450.0 416.5v6.2"/>
<path d="M413.0 416.5v6.2"/>
<path d="M447.0 416.5v6.2"/>
<path d="M440.8 416.5v6.2"/>
<path d="M437.8 416.5v6.2"/>
<path d="M432.7 416.5v6.2"/>
<path d="M417.2 416.5v6.2"/>
<path d="M432.5 416.5v6.2"/>
<path d="M415.2 416.5v6.2"/>
<path d="M459.2 416.5v6.2"/>
<path d="M427.5 416.5v6.2"/>
<path d="M415.1 416.5v6.2"/>
<path d="M447.6 416.5v6.2"/>
<path d="M437.5 416.5v6.2"/>
<path d="M446.1 416.5v6.2"/>
<path d="M422.2 416.5v6.2"/>
<path d="M422.0 416.5v6.2"/>
<path d="M417.7 416.5v6.2"/>
<path d="M436.8 416.5v6.2"/>
<path d="M414.6 416.5v6.2"/>
<path d="M412.1 416.5v6.2"/>
<path d="M429.9 416.5v6.2"/>
</g>
<use href="#p3" x="292.2"/><use href="#p4" x="292.2"/>
<path d="M336.60 430.50H515.85" stroke="#4a4a4a" stroke-width="1" fill="none"/>
<path d="M336.60 430.50V435.10" stroke="#4a4a4a" stroke-width="1" fill="none"/>
<text x="336.60" y="445.70" font-size="7.0" text-anchor="middle" stroke="#222" stroke-width="0.22" fill="#222">−5</text>
<path d="M396.35 430.50V435.10" stroke="#4a4a4a" stroke-width="1" fill="none"/>
<text x="396.35" y="445.70" font-size="7.0" text-anchor="middle" stroke="#222" stroke-width="0.22" fill="#222">0</text>
<path d="M456.10 430.50V435.10" stroke="#4a4a4a" stroke-width="1" fill="none"/>
<text x="456.10" y="445.70" font-size="7.0" text-anchor="middle" stroke="#222" stroke-width="0.22" fill="#222">5</text>
<path d="M515.85 430.50V435.10" stroke="#4a4a4a" stroke-width="1" fill="none"/>
<text x="515.85" y="445.70" font-size="7.0" text-anchor="middle" stroke="#222" stroke-width="0.22" fill="#222">10</text>
<text x="438.10" y="461.20" font-size="6.8" text-anchor="middle" stroke="#222" stroke-width="0.22" fill="#222">Feature</text>
<circle cx="483.80" cy="388.29" r="1.45" fill="#F5A62A" stroke="#000" stroke-width="0.6"/>
<text x="489.30" y="390.79" font-size="6.85" text-anchor="start" stroke="#222" stroke-width="0.22" fill="#222">True Class 1</text>
<circle cx="483.80" cy="396.09" r="1.45" fill="#4682B4" stroke="#000" stroke-width="0.6"/>
<text x="489.30" y="398.59" font-size="6.85" text-anchor="start" stroke="#222" stroke-width="0.22" fill="#222">True Class 2</text>
<path d="M484.20 400.79v6" stroke="#006400" stroke-opacity="0.45" stroke-width="1.2"/>
<text x="489.30" y="406.29" font-size="6.85" text-anchor="start" stroke="#222" stroke-width="0.22" fill="#222">Pred Class 1 (tick)</text>
<path d="M484.20 408.59v6" stroke="#A020F0" stroke-opacity="0.45" stroke-width="1.2"/>
<text x="489.30" y="414.09" font-size="6.85" text-anchor="start" stroke="#222" stroke-width="0.22" fill="#222">Pred Class 2 (tick)</text>
</g></svg></body></html>
